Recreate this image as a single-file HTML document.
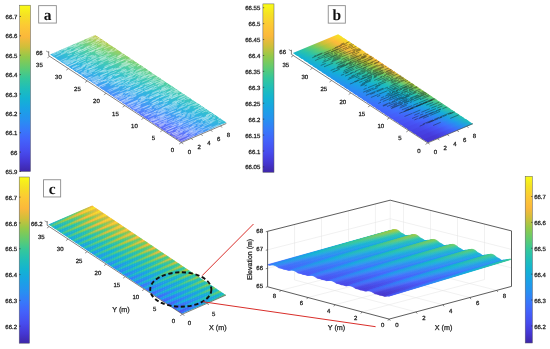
<!DOCTYPE html>
<html><head><meta charset="utf-8"><style>html,body{margin:0;padding:0;background:#fff;overflow:hidden}svg{display:block;will-change:transform}text{font-family:"Liberation Sans",sans-serif;stroke:#3a3a3a;stroke-width:0.3px;paint-order:stroke;stroke-linejoin:round;text-rendering:geometricPrecision}</style></head>
<body><svg width="550" height="349" viewBox="0 0 550 349"><defs><linearGradient id="cb1" x1="0" y1="0" x2="0" y2="1"><stop offset="0" stop-color="#f9fb15"/><stop offset="0.06" stop-color="#f5e124"/><stop offset="0.12" stop-color="#fcca34"/><stop offset="0.19" stop-color="#fbb83b"/><stop offset="0.25" stop-color="#d0bf3a"/><stop offset="0.31" stop-color="#93c94a"/><stop offset="0.38" stop-color="#5ecb72"/><stop offset="0.44" stop-color="#34c79b"/><stop offset="0.5" stop-color="#1fbeb9"/><stop offset="0.56" stop-color="#13b3d2"/><stop offset="0.62" stop-color="#19a3e4"/><stop offset="0.69" stop-color="#2790f1"/><stop offset="0.75" stop-color="#3779fa"/><stop offset="0.81" stop-color="#4362fb"/><stop offset="0.88" stop-color="#474cee"/><stop offset="0.94" stop-color="#4537d4"/><stop offset="1" stop-color="#3e26a8"/></linearGradient><linearGradient id="s2"><stop offset="0" stop-color="#5d5be9"/><stop offset="0.2" stop-color="#5b71fa"/><stop offset="0.4" stop-color="#5088fb"/><stop offset="0.6" stop-color="#409ef3"/><stop offset="0.8" stop-color="#34b0e5"/><stop offset="1" stop-color="#32bfd2"/></linearGradient><linearGradient id="s3"><stop offset="0" stop-color="#5d5eec"/><stop offset="0.2" stop-color="#5a74fb"/><stop offset="0.4" stop-color="#4e8bfb"/><stop offset="0.6" stop-color="#3ea0f1"/><stop offset="0.8" stop-color="#32b3e2"/><stop offset="1" stop-color="#34c0ce"/></linearGradient><linearGradient id="s4"><stop offset="0" stop-color="#5d62f0"/><stop offset="0.2" stop-color="#5978fc"/><stop offset="0.4" stop-color="#4c8efa"/><stop offset="0.6" stop-color="#3ca3ef"/><stop offset="0.8" stop-color="#31b5e0"/><stop offset="1" stop-color="#35c2cb"/></linearGradient><linearGradient id="s5"><stop offset="0" stop-color="#5d65f3"/><stop offset="0.2" stop-color="#597bfd"/><stop offset="0.4" stop-color="#4992f9"/><stop offset="0.6" stop-color="#3aa6ed"/><stop offset="0.8" stop-color="#30b7de"/><stop offset="1" stop-color="#37c3c7"/></linearGradient><linearGradient id="s6"><stop offset="0" stop-color="#5d68f6"/><stop offset="0.2" stop-color="#577efe"/><stop offset="0.4" stop-color="#4795f8"/><stop offset="0.6" stop-color="#38a9eb"/><stop offset="0.8" stop-color="#2fb9dc"/><stop offset="1" stop-color="#38c5c4"/></linearGradient><linearGradient id="s7"><stop offset="0" stop-color="#5d6bf7"/><stop offset="0.2" stop-color="#5581fd"/><stop offset="0.4" stop-color="#4598f6"/><stop offset="0.6" stop-color="#36abe9"/><stop offset="0.8" stop-color="#2fbbd9"/><stop offset="1" stop-color="#3ac6c0"/></linearGradient><linearGradient id="s8"><stop offset="0" stop-color="#5c6ef8"/><stop offset="0.2" stop-color="#5384fc"/><stop offset="0.4" stop-color="#439bf4"/><stop offset="0.6" stop-color="#35aee7"/><stop offset="0.8" stop-color="#30bdd6"/><stop offset="1" stop-color="#3dc7bc"/></linearGradient><linearGradient id="s9"><stop offset="0" stop-color="#5b71fa"/><stop offset="0.2" stop-color="#5088fb"/><stop offset="0.4" stop-color="#419df3"/><stop offset="0.6" stop-color="#34b0e5"/><stop offset="0.8" stop-color="#32bed2"/><stop offset="1" stop-color="#40c9b8"/></linearGradient><linearGradient id="s10"><stop offset="0" stop-color="#5a74fb"/><stop offset="0.2" stop-color="#4e8bfb"/><stop offset="0.4" stop-color="#3ea0f1"/><stop offset="0.6" stop-color="#33b2e3"/><stop offset="0.8" stop-color="#34c0cf"/><stop offset="1" stop-color="#43cab4"/></linearGradient><linearGradient id="s11"><stop offset="0" stop-color="#5978fc"/><stop offset="0.2" stop-color="#4c8efa"/><stop offset="0.4" stop-color="#3ca3ef"/><stop offset="0.6" stop-color="#31b5e1"/><stop offset="0.8" stop-color="#35c1cb"/><stop offset="1" stop-color="#46cbb0"/></linearGradient><linearGradient id="s12"><stop offset="0" stop-color="#597bfd"/><stop offset="0.2" stop-color="#4992f9"/><stop offset="0.4" stop-color="#3aa6ed"/><stop offset="0.6" stop-color="#30b7de"/><stop offset="0.8" stop-color="#37c3c8"/><stop offset="1" stop-color="#49ccac"/></linearGradient><linearGradient id="s13"><stop offset="0" stop-color="#577efe"/><stop offset="0.2" stop-color="#4795f8"/><stop offset="0.4" stop-color="#38a9eb"/><stop offset="0.6" stop-color="#2fb9dc"/><stop offset="0.8" stop-color="#38c5c4"/><stop offset="1" stop-color="#4ccda8"/></linearGradient><linearGradient id="s14"><stop offset="0" stop-color="#5581fd"/><stop offset="0.2" stop-color="#4598f6"/><stop offset="0.4" stop-color="#36abe9"/><stop offset="0.6" stop-color="#2fbbda"/><stop offset="0.8" stop-color="#3ac6c1"/><stop offset="1" stop-color="#4fcfa4"/></linearGradient><linearGradient id="s15"><stop offset="0" stop-color="#5385fc"/><stop offset="0.2" stop-color="#439bf4"/><stop offset="0.4" stop-color="#35aee7"/><stop offset="0.6" stop-color="#30bdd6"/><stop offset="0.8" stop-color="#3dc7bd"/><stop offset="1" stop-color="#55cf9e"/></linearGradient><linearGradient id="s16"><stop offset="0" stop-color="#5088fb"/><stop offset="0.2" stop-color="#419df3"/><stop offset="0.4" stop-color="#34b0e5"/><stop offset="0.6" stop-color="#32bed3"/><stop offset="0.8" stop-color="#40c8b8"/><stop offset="1" stop-color="#5bd098"/></linearGradient><linearGradient id="s17"><stop offset="0" stop-color="#4e8bfb"/><stop offset="0.2" stop-color="#3ea0f1"/><stop offset="0.4" stop-color="#33b2e3"/><stop offset="0.6" stop-color="#33c0cf"/><stop offset="0.8" stop-color="#43cab4"/><stop offset="1" stop-color="#61d092"/></linearGradient><linearGradient id="s18"><stop offset="0" stop-color="#4c8efa"/><stop offset="0.2" stop-color="#3ca3ef"/><stop offset="0.4" stop-color="#31b4e1"/><stop offset="0.6" stop-color="#35c1cb"/><stop offset="0.8" stop-color="#46cbb0"/><stop offset="1" stop-color="#67d08d"/></linearGradient><linearGradient id="s19"><stop offset="0" stop-color="#4992f9"/><stop offset="0.2" stop-color="#3aa6ed"/><stop offset="0.4" stop-color="#30b7de"/><stop offset="0.6" stop-color="#37c3c8"/><stop offset="0.8" stop-color="#49ccac"/><stop offset="1" stop-color="#6ed187"/></linearGradient><linearGradient id="s20"><stop offset="0" stop-color="#4795f8"/><stop offset="0.2" stop-color="#38a9eb"/><stop offset="0.4" stop-color="#2fb9dc"/><stop offset="0.6" stop-color="#38c4c4"/><stop offset="0.8" stop-color="#4ccda8"/><stop offset="1" stop-color="#74d181"/></linearGradient><linearGradient id="s21"><stop offset="0" stop-color="#4598f6"/><stop offset="0.2" stop-color="#36abe9"/><stop offset="0.4" stop-color="#2fbbda"/><stop offset="0.6" stop-color="#3ac6c1"/><stop offset="0.8" stop-color="#4fcea4"/><stop offset="1" stop-color="#7ad27b"/></linearGradient><linearGradient id="s22"><stop offset="0" stop-color="#439bf4"/><stop offset="0.2" stop-color="#35aee7"/><stop offset="0.4" stop-color="#30bdd6"/><stop offset="0.6" stop-color="#3dc7bd"/><stop offset="0.8" stop-color="#54cf9f"/><stop offset="1" stop-color="#81d275"/></linearGradient><linearGradient id="s23"><stop offset="0" stop-color="#409ef2"/><stop offset="0.2" stop-color="#34b0e5"/><stop offset="0.4" stop-color="#32bed2"/><stop offset="0.6" stop-color="#40c8b9"/><stop offset="0.8" stop-color="#5acf99"/><stop offset="1" stop-color="#89d170"/></linearGradient><linearGradient id="s24"><stop offset="0" stop-color="#3ea1f1"/><stop offset="0.2" stop-color="#33b2e3"/><stop offset="0.4" stop-color="#33c0cf"/><stop offset="0.6" stop-color="#43cab5"/><stop offset="0.8" stop-color="#61d093"/><stop offset="1" stop-color="#90d16b"/></linearGradient><linearGradient id="s25"><stop offset="0" stop-color="#3ca3ef"/><stop offset="0.2" stop-color="#31b5e1"/><stop offset="0.4" stop-color="#35c1cb"/><stop offset="0.6" stop-color="#46cbb0"/><stop offset="0.8" stop-color="#67d08d"/><stop offset="1" stop-color="#98d065"/></linearGradient><linearGradient id="s26"><stop offset="0" stop-color="#3aa6ed"/><stop offset="0.2" stop-color="#30b7de"/><stop offset="0.4" stop-color="#37c3c8"/><stop offset="0.6" stop-color="#49ccac"/><stop offset="0.8" stop-color="#6dd187"/><stop offset="1" stop-color="#a0cf60"/></linearGradient><linearGradient id="s27"><stop offset="0" stop-color="#38a9eb"/><stop offset="0.2" stop-color="#2fb9dc"/><stop offset="0.4" stop-color="#38c4c4"/><stop offset="0.6" stop-color="#4ccda8"/><stop offset="0.8" stop-color="#73d181"/><stop offset="1" stop-color="#a7cf5b"/></linearGradient><linearGradient id="s28"><stop offset="0" stop-color="#36ace9"/><stop offset="0.2" stop-color="#2fbbd9"/><stop offset="0.4" stop-color="#3ac6c1"/><stop offset="0.6" stop-color="#4fcea4"/><stop offset="0.8" stop-color="#7ad27b"/><stop offset="1" stop-color="#afce55"/></linearGradient><linearGradient id="s29"><stop offset="0" stop-color="#35aee7"/><stop offset="0.2" stop-color="#30bdd6"/><stop offset="0.4" stop-color="#3dc7bd"/><stop offset="0.6" stop-color="#54cf9f"/><stop offset="0.8" stop-color="#81d276"/><stop offset="1" stop-color="#b7cd51"/></linearGradient><linearGradient id="s30"><stop offset="0" stop-color="#34b0e5"/><stop offset="0.2" stop-color="#32bed2"/><stop offset="0.4" stop-color="#40c8b8"/><stop offset="0.6" stop-color="#5bcf99"/><stop offset="0.8" stop-color="#88d170"/><stop offset="1" stop-color="#c0cb51"/></linearGradient><linearGradient id="s31"><stop offset="0" stop-color="#32b3e2"/><stop offset="0.2" stop-color="#34c0cf"/><stop offset="0.4" stop-color="#43cab4"/><stop offset="0.6" stop-color="#61d093"/><stop offset="0.8" stop-color="#90d16b"/><stop offset="1" stop-color="#c8ca51"/></linearGradient><linearGradient id="cb32" x1="0" y1="0" x2="0" y2="1"><stop offset="0" stop-color="#f9fb15"/><stop offset="0.06" stop-color="#f5e124"/><stop offset="0.12" stop-color="#fcca34"/><stop offset="0.19" stop-color="#fbb83b"/><stop offset="0.25" stop-color="#d0bf3a"/><stop offset="0.31" stop-color="#93c94a"/><stop offset="0.38" stop-color="#5ecb72"/><stop offset="0.44" stop-color="#34c79b"/><stop offset="0.5" stop-color="#1fbeb9"/><stop offset="0.56" stop-color="#13b3d2"/><stop offset="0.62" stop-color="#19a3e4"/><stop offset="0.69" stop-color="#2790f1"/><stop offset="0.75" stop-color="#3779fa"/><stop offset="0.81" stop-color="#4362fb"/><stop offset="0.88" stop-color="#474cee"/><stop offset="0.94" stop-color="#4537d4"/><stop offset="1" stop-color="#3e26a8"/></linearGradient><linearGradient id="s33"><stop offset="0" stop-color="#4435d0"/><stop offset="0.2" stop-color="#4537d4"/><stop offset="0.4" stop-color="#4746e7"/><stop offset="0.6" stop-color="#4364fb"/><stop offset="0.8" stop-color="#2691f0"/><stop offset="1" stop-color="#1bbac1"/></linearGradient><linearGradient id="s34"><stop offset="0" stop-color="#4639d9"/><stop offset="0.2" stop-color="#463cdd"/><stop offset="0.4" stop-color="#474def"/><stop offset="0.6" stop-color="#416cfe"/><stop offset="0.8" stop-color="#2198ec"/><stop offset="1" stop-color="#1fbeb9"/></linearGradient><linearGradient id="s35"><stop offset="0" stop-color="#463dde"/><stop offset="0.2" stop-color="#4642e3"/><stop offset="0.4" stop-color="#4754f5"/><stop offset="0.6" stop-color="#3b74fc"/><stop offset="0.8" stop-color="#1c9fe8"/><stop offset="1" stop-color="#25c1b0"/></linearGradient><linearGradient id="s36"><stop offset="0" stop-color="#4642e3"/><stop offset="0.2" stop-color="#4748ea"/><stop offset="0.4" stop-color="#455bf8"/><stop offset="0.6" stop-color="#367cfa"/><stop offset="0.8" stop-color="#19a4e2"/><stop offset="1" stop-color="#2cc3a7"/></linearGradient><linearGradient id="s37"><stop offset="0" stop-color="#4747e8"/><stop offset="0.2" stop-color="#474ef0"/><stop offset="0.4" stop-color="#4462fb"/><stop offset="0.6" stop-color="#3083f8"/><stop offset="0.8" stop-color="#16aadd"/><stop offset="1" stop-color="#32c69e"/></linearGradient><linearGradient id="s38"><stop offset="0" stop-color="#474bed"/><stop offset="0.2" stop-color="#4754f5"/><stop offset="0.4" stop-color="#4269fd"/><stop offset="0.6" stop-color="#2b8bf5"/><stop offset="0.8" stop-color="#13afd8"/><stop offset="1" stop-color="#3ac894"/></linearGradient><linearGradient id="s39"><stop offset="0" stop-color="#4750f2"/><stop offset="0.2" stop-color="#465af8"/><stop offset="0.4" stop-color="#3d70fd"/><stop offset="0.6" stop-color="#2691f0"/><stop offset="0.8" stop-color="#14b3d1"/><stop offset="1" stop-color="#48c987"/></linearGradient><linearGradient id="s40"><stop offset="0" stop-color="#4755f5"/><stop offset="0.2" stop-color="#4461fa"/><stop offset="0.4" stop-color="#3878fb"/><stop offset="0.6" stop-color="#2198ec"/><stop offset="0.8" stop-color="#17b7c9"/><stop offset="1" stop-color="#55ca7b"/></linearGradient><linearGradient id="s41"><stop offset="0" stop-color="#465af7"/><stop offset="0.2" stop-color="#4267fc"/><stop offset="0.4" stop-color="#337ff9"/><stop offset="0.6" stop-color="#1c9ee8"/><stop offset="0.8" stop-color="#1bbac1"/><stop offset="1" stop-color="#62cb6f"/></linearGradient><linearGradient id="s42"><stop offset="0" stop-color="#445ff9"/><stop offset="0.2" stop-color="#406dfe"/><stop offset="0.4" stop-color="#2e86f7"/><stop offset="0.6" stop-color="#19a4e3"/><stop offset="0.8" stop-color="#1ebeb9"/><stop offset="1" stop-color="#70cc63"/></linearGradient><linearGradient id="s43"><stop offset="0" stop-color="#4363fb"/><stop offset="0.2" stop-color="#3c73fc"/><stop offset="0.4" stop-color="#2a8cf3"/><stop offset="0.6" stop-color="#16a9de"/><stop offset="0.8" stop-color="#25c1b0"/><stop offset="1" stop-color="#7fca58"/></linearGradient><linearGradient id="s44"><stop offset="0" stop-color="#4268fd"/><stop offset="0.2" stop-color="#3779fa"/><stop offset="0.4" stop-color="#2592f0"/><stop offset="0.6" stop-color="#13aed9"/><stop offset="0.8" stop-color="#2bc3a7"/><stop offset="1" stop-color="#8fc94d"/></linearGradient><linearGradient id="s45"><stop offset="0" stop-color="#406dfe"/><stop offset="0.2" stop-color="#3380f9"/><stop offset="0.4" stop-color="#2098ec"/><stop offset="0.6" stop-color="#13b3d3"/><stop offset="0.8" stop-color="#32c69e"/><stop offset="1" stop-color="#9ec842"/></linearGradient><linearGradient id="s46"><stop offset="0" stop-color="#3c72fc"/><stop offset="0.2" stop-color="#2e86f7"/><stop offset="0.4" stop-color="#1c9ee8"/><stop offset="0.6" stop-color="#16b6cb"/><stop offset="0.8" stop-color="#39c895"/><stop offset="1" stop-color="#adc639"/></linearGradient><linearGradient id="s47"><stop offset="0" stop-color="#3977fb"/><stop offset="0.2" stop-color="#2a8bf4"/><stop offset="0.4" stop-color="#19a3e3"/><stop offset="0.6" stop-color="#1ab9c3"/><stop offset="0.8" stop-color="#47c988"/><stop offset="1" stop-color="#bdc339"/></linearGradient><linearGradient id="s48"><stop offset="0" stop-color="#357cfa"/><stop offset="0.2" stop-color="#2691f1"/><stop offset="0.4" stop-color="#16a8de"/><stop offset="0.6" stop-color="#1dbdbc"/><stop offset="0.8" stop-color="#54ca7c"/><stop offset="1" stop-color="#cec03a"/></linearGradient><linearGradient id="s49"><stop offset="0" stop-color="#3281f8"/><stop offset="0.2" stop-color="#2296ed"/><stop offset="0.4" stop-color="#14adda"/><stop offset="0.6" stop-color="#23c0b3"/><stop offset="0.8" stop-color="#61cb70"/><stop offset="1" stop-color="#debc3a"/></linearGradient><linearGradient id="s50"><stop offset="0" stop-color="#2e86f7"/><stop offset="0.2" stop-color="#1e9cea"/><stop offset="0.4" stop-color="#12b2d5"/><stop offset="0.6" stop-color="#29c2aa"/><stop offset="0.8" stop-color="#6ecc64"/><stop offset="1" stop-color="#eeb93a"/></linearGradient><linearGradient id="s51"><stop offset="0" stop-color="#2b8af5"/><stop offset="0.2" stop-color="#1ba0e6"/><stop offset="0.4" stop-color="#15b5cd"/><stop offset="0.6" stop-color="#30c5a2"/><stop offset="0.8" stop-color="#7eca59"/><stop offset="1" stop-color="#f7b83b"/></linearGradient><linearGradient id="s52"><stop offset="0" stop-color="#288ff2"/><stop offset="0.2" stop-color="#18a5e2"/><stop offset="0.4" stop-color="#19b8c6"/><stop offset="0.6" stop-color="#36c799"/><stop offset="0.8" stop-color="#8ec94e"/><stop offset="1" stop-color="#fab83b"/></linearGradient><linearGradient id="s53"><stop offset="0" stop-color="#2493ef"/><stop offset="0.2" stop-color="#16a9de"/><stop offset="0.4" stop-color="#1cbbbf"/><stop offset="0.6" stop-color="#41c98d"/><stop offset="0.8" stop-color="#9dc843"/><stop offset="1" stop-color="#fdb93a"/></linearGradient><linearGradient id="s54"><stop offset="0" stop-color="#2197ec"/><stop offset="0.2" stop-color="#14adda"/><stop offset="0.4" stop-color="#20beb7"/><stop offset="0.6" stop-color="#4fca81"/><stop offset="0.8" stop-color="#acc639"/><stop offset="1" stop-color="#fdbd39"/></linearGradient><linearGradient id="s55"><stop offset="0" stop-color="#1e9cea"/><stop offset="0.2" stop-color="#12b2d5"/><stop offset="0.4" stop-color="#26c1af"/><stop offset="0.6" stop-color="#5bcb75"/><stop offset="0.8" stop-color="#bec339"/><stop offset="1" stop-color="#fec238"/></linearGradient><linearGradient id="s56"><stop offset="0" stop-color="#1ba0e6"/><stop offset="0.2" stop-color="#15b4cf"/><stop offset="0.4" stop-color="#2cc3a7"/><stop offset="0.6" stop-color="#68cc69"/><stop offset="0.8" stop-color="#cec03a"/><stop offset="1" stop-color="#fdc736"/></linearGradient><linearGradient id="s57"><stop offset="0" stop-color="#19a3e3"/><stop offset="0.2" stop-color="#18b7c8"/><stop offset="0.4" stop-color="#32c69e"/><stop offset="0.6" stop-color="#77cb5d"/><stop offset="0.8" stop-color="#dfbc3a"/><stop offset="1" stop-color="#fbcc32"/></linearGradient><linearGradient id="s58"><stop offset="0" stop-color="#17a7e0"/><stop offset="0.2" stop-color="#1bbac2"/><stop offset="0.4" stop-color="#38c896"/><stop offset="0.6" stop-color="#87ca52"/><stop offset="0.8" stop-color="#efb93b"/><stop offset="1" stop-color="#f9d12f"/></linearGradient><linearGradient id="s59"><stop offset="0" stop-color="#15aadc"/><stop offset="0.2" stop-color="#1ebdbb"/><stop offset="0.4" stop-color="#45c98a"/><stop offset="0.6" stop-color="#97c847"/><stop offset="0.8" stop-color="#f7b83b"/><stop offset="1" stop-color="#f8d52c"/></linearGradient><linearGradient id="s60"><stop offset="0" stop-color="#13aed9"/><stop offset="0.2" stop-color="#22bfb4"/><stop offset="0.4" stop-color="#51ca7e"/><stop offset="0.6" stop-color="#a6c73d"/><stop offset="0.8" stop-color="#fbb83b"/><stop offset="1" stop-color="#f6da29"/></linearGradient><linearGradient id="s61"><stop offset="0" stop-color="#12b1d5"/><stop offset="0.2" stop-color="#28c2ac"/><stop offset="0.4" stop-color="#5ecb73"/><stop offset="0.6" stop-color="#b6c439"/><stop offset="0.8" stop-color="#fdba3a"/><stop offset="1" stop-color="#f5df26"/></linearGradient><linearGradient id="s62"><stop offset="0" stop-color="#14b4d0"/><stop offset="0.2" stop-color="#2dc4a5"/><stop offset="0.4" stop-color="#6acc67"/><stop offset="0.6" stop-color="#c7c13a"/><stop offset="0.8" stop-color="#febf39"/><stop offset="1" stop-color="#f6e423"/></linearGradient><linearGradient id="cb63" x1="0" y1="0" x2="0" y2="1"><stop offset="0" stop-color="#f9fb15"/><stop offset="0.06" stop-color="#f5e124"/><stop offset="0.12" stop-color="#fcca34"/><stop offset="0.19" stop-color="#fbb83b"/><stop offset="0.25" stop-color="#d0bf3a"/><stop offset="0.31" stop-color="#93c94a"/><stop offset="0.38" stop-color="#5ecb72"/><stop offset="0.44" stop-color="#34c79b"/><stop offset="0.5" stop-color="#1fbeb9"/><stop offset="0.56" stop-color="#13b3d2"/><stop offset="0.62" stop-color="#19a3e4"/><stop offset="0.69" stop-color="#2790f1"/><stop offset="0.75" stop-color="#3779fa"/><stop offset="0.81" stop-color="#4362fb"/><stop offset="0.88" stop-color="#474cee"/><stop offset="0.94" stop-color="#4537d4"/><stop offset="1" stop-color="#3e26a8"/></linearGradient><linearGradient id="s64"><stop offset="0" stop-color="#2a8cf3"/><stop offset="0.33" stop-color="#14adda"/><stop offset="0.67" stop-color="#26c1ae"/><stop offset="1" stop-color="#63cb6d"/></linearGradient><linearGradient id="s65"><stop offset="0" stop-color="#4267fc"/><stop offset="0.33" stop-color="#288ff2"/><stop offset="0.67" stop-color="#13afd8"/><stop offset="1" stop-color="#29c2aa"/></linearGradient><linearGradient id="s66"><stop offset="0" stop-color="#4851f2"/><stop offset="0.33" stop-color="#3779fb"/><stop offset="0.67" stop-color="#1c9fe8"/><stop offset="1" stop-color="#19b8c6"/></linearGradient><linearGradient id="s67"><stop offset="0" stop-color="#4851f3"/><stop offset="0.33" stop-color="#377afa"/><stop offset="0.67" stop-color="#1c9fe7"/><stop offset="1" stop-color="#19b9c5"/></linearGradient><linearGradient id="s68"><stop offset="0" stop-color="#4269fd"/><stop offset="0.33" stop-color="#2691f1"/><stop offset="0.67" stop-color="#12b1d7"/><stop offset="1" stop-color="#2bc3a7"/></linearGradient><linearGradient id="s69"><stop offset="0" stop-color="#278ff1"/><stop offset="0.33" stop-color="#12b0d8"/><stop offset="0.67" stop-color="#2ac3a9"/><stop offset="1" stop-color="#6ccc66"/></linearGradient><linearGradient id="s70"><stop offset="0" stop-color="#2790f1"/><stop offset="0.33" stop-color="#12b0d7"/><stop offset="0.67" stop-color="#2bc3a8"/><stop offset="1" stop-color="#6ecc64"/></linearGradient><linearGradient id="s71"><stop offset="0" stop-color="#416bfe"/><stop offset="0.33" stop-color="#2593ef"/><stop offset="0.67" stop-color="#12b2d4"/><stop offset="1" stop-color="#2ec4a4"/></linearGradient><linearGradient id="s72"><stop offset="0" stop-color="#4755f5"/><stop offset="0.33" stop-color="#347df9"/><stop offset="0.67" stop-color="#1aa2e4"/><stop offset="1" stop-color="#1bbbc0"/></linearGradient><linearGradient id="s73"><stop offset="0" stop-color="#4755f5"/><stop offset="0.33" stop-color="#347ef9"/><stop offset="0.67" stop-color="#1aa3e4"/><stop offset="1" stop-color="#1cbbbf"/></linearGradient><linearGradient id="s74"><stop offset="0" stop-color="#406dfe"/><stop offset="0.33" stop-color="#2395ee"/><stop offset="0.67" stop-color="#14b3d2"/><stop offset="1" stop-color="#30c5a1"/></linearGradient><linearGradient id="s75"><stop offset="0" stop-color="#2493ef"/><stop offset="0.33" stop-color="#13b2d4"/><stop offset="0.67" stop-color="#2ec4a3"/><stop offset="1" stop-color="#78cb5d"/></linearGradient><linearGradient id="s76"><stop offset="0" stop-color="#2494ef"/><stop offset="0.33" stop-color="#13b3d3"/><stop offset="0.67" stop-color="#2fc5a2"/><stop offset="1" stop-color="#7acb5c"/></linearGradient><linearGradient id="s77"><stop offset="0" stop-color="#3e6ffd"/><stop offset="0.33" stop-color="#2297ed"/><stop offset="0.67" stop-color="#15b4cf"/><stop offset="1" stop-color="#32c69e"/></linearGradient><linearGradient id="s78"><stop offset="0" stop-color="#4659f7"/><stop offset="0.33" stop-color="#3182f8"/><stop offset="0.67" stop-color="#18a5e1"/><stop offset="1" stop-color="#1ebdbb"/></linearGradient><linearGradient id="s79"><stop offset="0" stop-color="#465af7"/><stop offset="0.33" stop-color="#3183f8"/><stop offset="0.67" stop-color="#18a6e1"/><stop offset="1" stop-color="#1ebeba"/></linearGradient><linearGradient id="s80"><stop offset="0" stop-color="#3d71fc"/><stop offset="0.33" stop-color="#2099eb"/><stop offset="0.67" stop-color="#16b5cc"/><stop offset="1" stop-color="#35c79a"/></linearGradient><linearGradient id="s81"><stop offset="0" stop-color="#2297ed"/><stop offset="0.33" stop-color="#15b4cf"/><stop offset="0.67" stop-color="#33c69d"/><stop offset="1" stop-color="#84ca55"/></linearGradient><linearGradient id="s82"><stop offset="0" stop-color="#2197ec"/><stop offset="0.33" stop-color="#15b5ce"/><stop offset="0.67" stop-color="#33c69c"/><stop offset="1" stop-color="#86ca53"/></linearGradient><linearGradient id="s83"><stop offset="0" stop-color="#3b74fc"/><stop offset="0.33" stop-color="#1f9bea"/><stop offset="0.67" stop-color="#17b7ca"/><stop offset="1" stop-color="#37c897"/></linearGradient><linearGradient id="s84"><stop offset="0" stop-color="#455df8"/><stop offset="0.33" stop-color="#2e86f7"/><stop offset="0.67" stop-color="#16a9de"/><stop offset="1" stop-color="#22bfb4"/></linearGradient><linearGradient id="s85"><stop offset="0" stop-color="#455ef9"/><stop offset="0.33" stop-color="#2d87f7"/><stop offset="0.67" stop-color="#16a9dd"/><stop offset="1" stop-color="#23c0b3"/></linearGradient><linearGradient id="s86"><stop offset="0" stop-color="#3a76fb"/><stop offset="0.33" stop-color="#1d9de9"/><stop offset="0.67" stop-color="#18b8c7"/><stop offset="1" stop-color="#3cc893"/></linearGradient><linearGradient id="s87"><stop offset="0" stop-color="#1f9bea"/><stop offset="0.33" stop-color="#17b7ca"/><stop offset="0.67" stop-color="#37c897"/><stop offset="1" stop-color="#90c94c"/></linearGradient><linearGradient id="s88"><stop offset="0" stop-color="#1e9bea"/><stop offset="0.33" stop-color="#17b7c9"/><stop offset="0.67" stop-color="#39c896"/><stop offset="1" stop-color="#92c94b"/></linearGradient><linearGradient id="s89"><stop offset="0" stop-color="#3878fb"/><stop offset="0.33" stop-color="#1c9fe8"/><stop offset="0.67" stop-color="#19b9c5"/><stop offset="1" stop-color="#41c98e"/></linearGradient><linearGradient id="s90"><stop offset="0" stop-color="#4461fa"/><stop offset="0.33" stop-color="#2b8af5"/><stop offset="0.67" stop-color="#14acdb"/><stop offset="1" stop-color="#26c1ae"/></linearGradient><linearGradient id="s91"><stop offset="0" stop-color="#4462fa"/><stop offset="0.33" stop-color="#2a8bf4"/><stop offset="0.67" stop-color="#14adda"/><stop offset="1" stop-color="#27c1ad"/></linearGradient><linearGradient id="s92"><stop offset="0" stop-color="#377afa"/><stop offset="0.33" stop-color="#1ba0e6"/><stop offset="0.67" stop-color="#1bbac2"/><stop offset="1" stop-color="#45c98a"/></linearGradient><linearGradient id="s93"><stop offset="0" stop-color="#1c9ee8"/><stop offset="0.33" stop-color="#19b9c5"/><stop offset="0.67" stop-color="#40c98e"/><stop offset="1" stop-color="#9cc843"/></linearGradient><linearGradient id="s94"><stop offset="0" stop-color="#1c9fe7"/><stop offset="0.33" stop-color="#1ab9c4"/><stop offset="0.67" stop-color="#42c98d"/><stop offset="1" stop-color="#9ec842"/></linearGradient><linearGradient id="s95"><stop offset="0" stop-color="#357cfa"/><stop offset="0.33" stop-color="#1aa2e5"/><stop offset="0.67" stop-color="#1cbbbf"/><stop offset="1" stop-color="#4ac985"/></linearGradient><linearGradient id="s96"><stop offset="0" stop-color="#4365fc"/><stop offset="0.33" stop-color="#288ef2"/><stop offset="0.67" stop-color="#12b0d8"/><stop offset="1" stop-color="#2bc3a8"/></linearGradient><linearGradient id="s97"><stop offset="0" stop-color="#4366fc"/><stop offset="0.33" stop-color="#278ff2"/><stop offset="0.67" stop-color="#12b0d7"/><stop offset="1" stop-color="#2cc3a7"/></linearGradient><linearGradient id="s98"><stop offset="0" stop-color="#347ef9"/><stop offset="0.33" stop-color="#19a3e3"/><stop offset="0.67" stop-color="#1dbcbd"/><stop offset="1" stop-color="#4fca80"/></linearGradient><linearGradient id="s99"><stop offset="0" stop-color="#1aa1e5"/><stop offset="0.33" stop-color="#1bbbc0"/><stop offset="0.67" stop-color="#4ac986"/><stop offset="1" stop-color="#a8c73b"/></linearGradient><linearGradient id="s100"><stop offset="0" stop-color="#1aa2e5"/><stop offset="0.33" stop-color="#1cbbbf"/><stop offset="0.67" stop-color="#4bca84"/><stop offset="1" stop-color="#aac739"/></linearGradient><linearGradient id="s101"><stop offset="0" stop-color="#3280f9"/><stop offset="0.33" stop-color="#18a5e2"/><stop offset="0.67" stop-color="#1ebdba"/><stop offset="1" stop-color="#54ca7c"/></linearGradient><linearGradient id="s102"><stop offset="0" stop-color="#4269fd"/><stop offset="0.33" stop-color="#2592f0"/><stop offset="0.67" stop-color="#13b2d3"/><stop offset="1" stop-color="#30c5a1"/></linearGradient><linearGradient id="s103"><stop offset="0" stop-color="#416afe"/><stop offset="0.33" stop-color="#2493ef"/><stop offset="0.67" stop-color="#13b3d2"/><stop offset="1" stop-color="#30c5a0"/></linearGradient><linearGradient id="s104"><stop offset="0" stop-color="#3183f8"/><stop offset="0.33" stop-color="#17a7e0"/><stop offset="0.67" stop-color="#20beb7"/><stop offset="1" stop-color="#59cb77"/></linearGradient><linearGradient id="s105"><stop offset="0" stop-color="#19a4e2"/><stop offset="0.33" stop-color="#1ebdbb"/><stop offset="0.67" stop-color="#53ca7d"/><stop offset="1" stop-color="#b6c539"/></linearGradient><linearGradient id="s106"><stop offset="0" stop-color="#18a5e2"/><stop offset="0.33" stop-color="#1ebdba"/><stop offset="0.67" stop-color="#54ca7b"/><stop offset="1" stop-color="#b8c439"/></linearGradient><linearGradient id="s107"><stop offset="0" stop-color="#2f85f7"/><stop offset="0.33" stop-color="#16a8df"/><stop offset="0.67" stop-color="#22bfb4"/><stop offset="1" stop-color="#5ecb72"/></linearGradient><linearGradient id="s108"><stop offset="0" stop-color="#406efd"/><stop offset="0.33" stop-color="#2296ed"/><stop offset="0.67" stop-color="#15b5ce"/><stop offset="1" stop-color="#34c79b"/></linearGradient><linearGradient id="s109"><stop offset="0" stop-color="#3f6efd"/><stop offset="0.33" stop-color="#2197ed"/><stop offset="0.67" stop-color="#16b5cd"/><stop offset="1" stop-color="#35c79a"/></linearGradient><linearGradient id="s110"><stop offset="0" stop-color="#2e87f7"/><stop offset="0.33" stop-color="#16aadd"/><stop offset="0.67" stop-color="#24c0b1"/><stop offset="1" stop-color="#63cb6e"/></linearGradient><linearGradient id="s111"><stop offset="0" stop-color="#17a7df"/><stop offset="0.33" stop-color="#21bfb6"/><stop offset="0.67" stop-color="#5ccb74"/><stop offset="1" stop-color="#c4c239"/></linearGradient><linearGradient id="s112"><stop offset="0" stop-color="#17a8df"/><stop offset="0.33" stop-color="#22bfb5"/><stop offset="0.67" stop-color="#5ecb73"/><stop offset="1" stop-color="#c6c139"/></linearGradient><linearGradient id="s113"><stop offset="0" stop-color="#2c89f6"/><stop offset="0.33" stop-color="#15abdb"/><stop offset="0.67" stop-color="#26c1ae"/><stop offset="1" stop-color="#68cc69"/></linearGradient><linearGradient id="s114"><stop offset="0" stop-color="#3c72fc"/><stop offset="0.33" stop-color="#1f9aeb"/><stop offset="0.67" stop-color="#17b7c9"/><stop offset="1" stop-color="#3bc893"/></linearGradient><linearGradient id="s115"><stop offset="0" stop-color="#3c73fc"/><stop offset="0.33" stop-color="#1e9bea"/><stop offset="0.67" stop-color="#18b7c8"/><stop offset="1" stop-color="#3dc892"/></linearGradient><linearGradient id="s116"><stop offset="0" stop-color="#2b8bf5"/><stop offset="0.33" stop-color="#14adda"/><stop offset="0.67" stop-color="#29c2ab"/><stop offset="1" stop-color="#6dcc65"/></linearGradient><linearGradient id="s117"><stop offset="0" stop-color="#15aadc"/><stop offset="0.33" stop-color="#25c1b0"/><stop offset="0.67" stop-color="#65cc6b"/><stop offset="1" stop-color="#d1bf3a"/></linearGradient><linearGradient id="s118"><stop offset="0" stop-color="#15abdc"/><stop offset="0.33" stop-color="#26c1af"/><stop offset="0.67" stop-color="#67cc6a"/><stop offset="1" stop-color="#d4be3a"/></linearGradient><linearGradient id="s119"><stop offset="0" stop-color="#298cf3"/><stop offset="0.33" stop-color="#13afd8"/><stop offset="0.67" stop-color="#2bc3a8"/><stop offset="1" stop-color="#73cb60"/></linearGradient><linearGradient id="s120"><stop offset="0" stop-color="#3976fb"/><stop offset="0.33" stop-color="#1c9ee8"/><stop offset="0.67" stop-color="#1ab9c4"/><stop offset="1" stop-color="#45c98a"/></linearGradient><linearGradient id="s121"><stop offset="0" stop-color="#3977fb"/><stop offset="0.33" stop-color="#1c9fe7"/><stop offset="0.67" stop-color="#1abac3"/><stop offset="1" stop-color="#46c989"/></linearGradient><linearGradient id="s122"><stop offset="0" stop-color="#288ef2"/><stop offset="0.33" stop-color="#12b0d7"/><stop offset="0.67" stop-color="#2dc4a5"/><stop offset="1" stop-color="#79cb5c"/></linearGradient><linearGradient id="s123"><stop offset="0" stop-color="#14adda"/><stop offset="0.33" stop-color="#29c2aa"/><stop offset="0.67" stop-color="#70cc63"/><stop offset="1" stop-color="#dfbc3a"/></linearGradient><linearGradient id="s124"><stop offset="0" stop-color="#13aed9"/><stop offset="0.33" stop-color="#2ac3a9"/><stop offset="0.67" stop-color="#72cb61"/><stop offset="1" stop-color="#e1bc3a"/></linearGradient><linearGradient id="s125"><stop offset="0" stop-color="#2790f1"/><stop offset="0.33" stop-color="#12b2d5"/><stop offset="0.67" stop-color="#2fc5a2"/><stop offset="1" stop-color="#7fca58"/></linearGradient><linearGradient id="s126"><stop offset="0" stop-color="#367afa"/><stop offset="0.33" stop-color="#1aa1e5"/><stop offset="0.67" stop-color="#1cbcbe"/><stop offset="1" stop-color="#4eca81"/></linearGradient><linearGradient id="s127"><stop offset="0" stop-color="#367bfa"/><stop offset="0.33" stop-color="#1aa2e4"/><stop offset="0.67" stop-color="#1dbcbe"/><stop offset="1" stop-color="#50ca7f"/></linearGradient><linearGradient id="s128"><stop offset="0" stop-color="#2592f0"/><stop offset="0.33" stop-color="#13b3d2"/><stop offset="0.67" stop-color="#31c69f"/><stop offset="1" stop-color="#85ca54"/></linearGradient><linearGradient id="s129"><stop offset="0" stop-color="#12b0d7"/><stop offset="0.33" stop-color="#2dc4a4"/><stop offset="0.67" stop-color="#7bcb5b"/><stop offset="1" stop-color="#edb93a"/></linearGradient><linearGradient id="s130"><stop offset="0" stop-color="#12b1d6"/><stop offset="0.33" stop-color="#2ec4a3"/><stop offset="0.67" stop-color="#7dcb59"/><stop offset="1" stop-color="#efb93b"/></linearGradient><linearGradient id="s131"><stop offset="0" stop-color="#2494ef"/><stop offset="0.33" stop-color="#14b4d0"/><stop offset="0.67" stop-color="#34c79c"/><stop offset="1" stop-color="#8bc94f"/></linearGradient><linearGradient id="s132"><stop offset="0" stop-color="#337ff9"/><stop offset="0.33" stop-color="#18a5e2"/><stop offset="0.67" stop-color="#1ebeb9"/><stop offset="1" stop-color="#58cb78"/></linearGradient><linearGradient id="s133"><stop offset="0" stop-color="#337ff9"/><stop offset="0.33" stop-color="#18a5e1"/><stop offset="0.67" stop-color="#1fbeb8"/><stop offset="1" stop-color="#5acb76"/></linearGradient><linearGradient id="s134"><stop offset="0" stop-color="#2296ed"/><stop offset="0.33" stop-color="#15b5ce"/><stop offset="0.67" stop-color="#36c799"/><stop offset="1" stop-color="#91c94b"/></linearGradient><linearGradient id="s135"><stop offset="0" stop-color="#13b3d2"/><stop offset="0.33" stop-color="#32c69f"/><stop offset="0.67" stop-color="#87ca53"/><stop offset="1" stop-color="#f6b83b"/></linearGradient><linearGradient id="s136"><stop offset="0" stop-color="#14b3d2"/><stop offset="0.33" stop-color="#32c69e"/><stop offset="0.67" stop-color="#89ca51"/><stop offset="1" stop-color="#f7b83b"/></linearGradient><linearGradient id="s137"><stop offset="0" stop-color="#2198ec"/><stop offset="0.33" stop-color="#16b6cb"/><stop offset="0.67" stop-color="#39c895"/><stop offset="1" stop-color="#97c847"/></linearGradient><linearGradient id="s138"><stop offset="0" stop-color="#3083f8"/><stop offset="0.33" stop-color="#17a8df"/><stop offset="0.67" stop-color="#23c0b3"/><stop offset="1" stop-color="#62cb6f"/></linearGradient><linearGradient id="s139"><stop offset="0" stop-color="#3084f8"/><stop offset="0.33" stop-color="#16a8de"/><stop offset="0.67" stop-color="#23c0b2"/><stop offset="1" stop-color="#64cb6d"/></linearGradient><linearGradient id="s140"><stop offset="0" stop-color="#209aeb"/><stop offset="0.33" stop-color="#18b7c9"/><stop offset="0.67" stop-color="#3ec891"/><stop offset="1" stop-color="#9dc843"/></linearGradient><linearGradient id="s141"><stop offset="0" stop-color="#15b5ce"/><stop offset="0.33" stop-color="#36c799"/><stop offset="0.67" stop-color="#92c94a"/><stop offset="1" stop-color="#f9b83b"/></linearGradient><linearGradient id="s142"><stop offset="0" stop-color="#16b5cd"/><stop offset="0.33" stop-color="#36c898"/><stop offset="0.67" stop-color="#94c949"/><stop offset="1" stop-color="#fab83b"/></linearGradient><linearGradient id="s143"><stop offset="0" stop-color="#1e9bea"/><stop offset="0.33" stop-color="#19b8c6"/><stop offset="0.67" stop-color="#42c98d"/><stop offset="1" stop-color="#a4c73e"/></linearGradient><linearGradient id="s144"><stop offset="0" stop-color="#2d87f7"/><stop offset="0.33" stop-color="#15abdc"/><stop offset="0.67" stop-color="#27c1ad"/><stop offset="1" stop-color="#6ccc65"/></linearGradient><linearGradient id="s145"><stop offset="0" stop-color="#2d88f6"/><stop offset="0.33" stop-color="#15acdb"/><stop offset="0.67" stop-color="#28c2ac"/><stop offset="1" stop-color="#6ecc64"/></linearGradient><linearGradient id="s146"><stop offset="0" stop-color="#1d9de9"/><stop offset="0.33" stop-color="#1ab9c4"/><stop offset="0.67" stop-color="#47c988"/><stop offset="1" stop-color="#aac73a"/></linearGradient><linearGradient id="s147"><stop offset="0" stop-color="#17b7c9"/><stop offset="0.33" stop-color="#3dc891"/><stop offset="0.67" stop-color="#9ec842"/><stop offset="1" stop-color="#fcb83b"/></linearGradient><linearGradient id="s148"><stop offset="0" stop-color="#18b7c8"/><stop offset="0.33" stop-color="#3fc990"/><stop offset="0.67" stop-color="#a0c841"/><stop offset="1" stop-color="#fcb83b"/></linearGradient><linearGradient id="s149"><stop offset="0" stop-color="#1c9fe7"/><stop offset="0.33" stop-color="#1bbac1"/><stop offset="0.67" stop-color="#4bca84"/><stop offset="1" stop-color="#b0c639"/></linearGradient><linearGradient id="s150"><stop offset="0" stop-color="#2b8bf4"/><stop offset="0.33" stop-color="#13aed9"/><stop offset="0.67" stop-color="#2cc3a7"/><stop offset="1" stop-color="#78cb5d"/></linearGradient><linearGradient id="s151"><stop offset="0" stop-color="#2a8cf4"/><stop offset="0.33" stop-color="#13afd8"/><stop offset="0.67" stop-color="#2cc4a6"/><stop offset="1" stop-color="#7acb5b"/></linearGradient><linearGradient id="s152"><stop offset="0" stop-color="#1ba0e6"/><stop offset="0.33" stop-color="#1cbbbf"/><stop offset="0.67" stop-color="#50ca7f"/><stop offset="1" stop-color="#b7c439"/></linearGradient><linearGradient id="s153"><stop offset="0" stop-color="#19b9c4"/><stop offset="0.33" stop-color="#46c989"/><stop offset="0.67" stop-color="#a9c73a"/><stop offset="1" stop-color="#fdbb3a"/></linearGradient><linearGradient id="s154"><stop offset="0" stop-color="#1ab9c4"/><stop offset="0.33" stop-color="#47c988"/><stop offset="0.67" stop-color="#abc739"/><stop offset="1" stop-color="#fdbc3a"/></linearGradient><linearGradient id="s155"><stop offset="0" stop-color="#1aa2e4"/><stop offset="0.33" stop-color="#1dbdbc"/><stop offset="0.67" stop-color="#55ca7b"/><stop offset="1" stop-color="#bec339"/></linearGradient><linearGradient id="s156"><stop offset="0" stop-color="#288ff2"/><stop offset="0.33" stop-color="#12b1d5"/><stop offset="0.67" stop-color="#30c5a1"/><stop offset="1" stop-color="#84ca54"/></linearGradient><linearGradient id="s157"><stop offset="0" stop-color="#278ff2"/><stop offset="0.33" stop-color="#12b2d5"/><stop offset="0.67" stop-color="#31c5a0"/><stop offset="1" stop-color="#86ca53"/></linearGradient><linearGradient id="s158"><stop offset="0" stop-color="#19a3e3"/><stop offset="0.33" stop-color="#1ebeba"/><stop offset="0.67" stop-color="#59cb77"/><stop offset="1" stop-color="#c5c139"/></linearGradient><linearGradient id="s159"><stop offset="0" stop-color="#1cbbc0"/><stop offset="0.33" stop-color="#4fca81"/><stop offset="0.67" stop-color="#b6c539"/><stop offset="1" stop-color="#fec039"/></linearGradient><linearGradient id="s160"><stop offset="0" stop-color="#1cbbbf"/><stop offset="0.33" stop-color="#50ca7f"/><stop offset="0.67" stop-color="#b8c439"/><stop offset="1" stop-color="#fec039"/></linearGradient><linearGradient id="s161"><stop offset="0" stop-color="#18a5e2"/><stop offset="0.33" stop-color="#20bfb7"/><stop offset="0.67" stop-color="#5ecb72"/><stop offset="1" stop-color="#ccc03a"/></linearGradient><linearGradient id="s162"><stop offset="0" stop-color="#2592f0"/><stop offset="0.33" stop-color="#14b4d1"/><stop offset="0.67" stop-color="#34c79b"/><stop offset="1" stop-color="#90c94c"/></linearGradient><linearGradient id="s163"><stop offset="0" stop-color="#2493ef"/><stop offset="0.33" stop-color="#14b4d0"/><stop offset="0.67" stop-color="#35c79a"/><stop offset="1" stop-color="#92c94a"/></linearGradient><linearGradient id="s164"><stop offset="0" stop-color="#17a7e0"/><stop offset="0.33" stop-color="#22bfb4"/><stop offset="0.67" stop-color="#63cb6e"/><stop offset="1" stop-color="#d3bf3a"/></linearGradient><linearGradient id="s165"><stop offset="0" stop-color="#1ebdbb"/><stop offset="0.33" stop-color="#58ca78"/><stop offset="0.67" stop-color="#c3c239"/><stop offset="1" stop-color="#fec438"/></linearGradient><linearGradient id="s166"><stop offset="0" stop-color="#1ebdba"/><stop offset="0.33" stop-color="#59cb77"/><stop offset="0.67" stop-color="#c5c139"/><stop offset="1" stop-color="#fec537"/></linearGradient><linearGradient id="s167"><stop offset="0" stop-color="#17a8df"/><stop offset="0.33" stop-color="#24c0b1"/><stop offset="0.67" stop-color="#67cc6a"/><stop offset="1" stop-color="#dabd3a"/></linearGradient><linearGradient id="s168"><stop offset="0" stop-color="#2296ed"/><stop offset="0.33" stop-color="#16b6cc"/><stop offset="0.67" stop-color="#3ac894"/><stop offset="1" stop-color="#9dc843"/></linearGradient><linearGradient id="s169"><stop offset="0" stop-color="#2297ed"/><stop offset="0.33" stop-color="#17b6cb"/><stop offset="0.67" stop-color="#3cc892"/><stop offset="1" stop-color="#9fc842"/></linearGradient><linearGradient id="s170"><stop offset="0" stop-color="#16aadd"/><stop offset="0.33" stop-color="#26c1ae"/><stop offset="0.67" stop-color="#6ccc65"/><stop offset="1" stop-color="#e1bc3a"/></linearGradient><linearGradient id="s171"><stop offset="0" stop-color="#21bfb6"/><stop offset="0.33" stop-color="#60cb70"/><stop offset="0.67" stop-color="#d0bf3a"/><stop offset="1" stop-color="#fcc934"/></linearGradient><linearGradient id="s172"><stop offset="0" stop-color="#21bfb5"/><stop offset="0.33" stop-color="#62cb6f"/><stop offset="0.67" stop-color="#d2bf3a"/><stop offset="1" stop-color="#fcca34"/></linearGradient><linearGradient id="s173"><stop offset="0" stop-color="#15abdc"/><stop offset="0.33" stop-color="#28c2ac"/><stop offset="0.67" stop-color="#72cb61"/><stop offset="1" stop-color="#e7ba3a"/></linearGradient><linearGradient id="s174"><stop offset="0" stop-color="#1f9aeb"/><stop offset="0.33" stop-color="#18b8c7"/><stop offset="0.67" stop-color="#44c98b"/><stop offset="1" stop-color="#a9c73b"/></linearGradient><linearGradient id="s175"><stop offset="0" stop-color="#1f9aea"/><stop offset="0.33" stop-color="#19b8c6"/><stop offset="0.67" stop-color="#45c98a"/><stop offset="1" stop-color="#abc739"/></linearGradient><linearGradient id="s176"><stop offset="0" stop-color="#14adda"/><stop offset="0.33" stop-color="#2ac3a9"/><stop offset="0.67" stop-color="#78cb5d"/><stop offset="1" stop-color="#eeb93a"/></linearGradient><linearGradient id="s177"><stop offset="0" stop-color="#25c0b1"/><stop offset="0.33" stop-color="#69cc68"/><stop offset="0.67" stop-color="#ddbc3a"/><stop offset="1" stop-color="#face31"/></linearGradient><linearGradient id="s178"><stop offset="0" stop-color="#25c1b0"/><stop offset="0.33" stop-color="#6bcc66"/><stop offset="0.67" stop-color="#e0bc3a"/><stop offset="1" stop-color="#facf30"/></linearGradient><linearGradient id="s179"><stop offset="0" stop-color="#13aed9"/><stop offset="0.33" stop-color="#2cc4a6"/><stop offset="0.67" stop-color="#7dca59"/><stop offset="1" stop-color="#f5b83b"/></linearGradient><linearGradient id="s180"><stop offset="0" stop-color="#1c9ee8"/><stop offset="0.33" stop-color="#1bbac2"/><stop offset="0.67" stop-color="#4dca82"/><stop offset="1" stop-color="#b6c439"/></linearGradient><linearGradient id="s181"><stop offset="0" stop-color="#1c9ee8"/><stop offset="0.33" stop-color="#1bbac1"/><stop offset="0.67" stop-color="#4fca81"/><stop offset="1" stop-color="#b8c439"/></linearGradient><linearGradient id="s182"><stop offset="0" stop-color="#12b0d7"/><stop offset="0.33" stop-color="#2ec4a3"/><stop offset="0.67" stop-color="#83ca55"/><stop offset="1" stop-color="#f6b83b"/></linearGradient><linearGradient id="s183"><stop offset="0" stop-color="#28c2ab"/><stop offset="0.33" stop-color="#74cb60"/><stop offset="0.67" stop-color="#ebba3a"/><stop offset="1" stop-color="#f9d32e"/></linearGradient><linearGradient id="s184"><stop offset="0" stop-color="#29c2aa"/><stop offset="0.33" stop-color="#75cb5f"/><stop offset="0.67" stop-color="#edb93a"/><stop offset="1" stop-color="#f8d42d"/></linearGradient><linearGradient id="s185"><stop offset="0" stop-color="#12b1d6"/><stop offset="0.33" stop-color="#31c5a0"/><stop offset="0.67" stop-color="#89ca51"/><stop offset="1" stop-color="#f8b83b"/></linearGradient><linearGradient id="s186"><stop offset="0" stop-color="#1ba1e6"/><stop offset="0.33" stop-color="#1dbcbd"/><stop offset="0.67" stop-color="#56ca7a"/><stop offset="1" stop-color="#c4c239"/></linearGradient><linearGradient id="s187"><stop offset="0" stop-color="#1aa1e5"/><stop offset="0.33" stop-color="#1dbdbc"/><stop offset="0.67" stop-color="#58cb78"/><stop offset="1" stop-color="#c6c139"/></linearGradient><linearGradient id="s188"><stop offset="0" stop-color="#13b2d4"/><stop offset="0.33" stop-color="#33c69d"/><stop offset="0.67" stop-color="#8fc94d"/><stop offset="1" stop-color="#f9b83b"/></linearGradient><linearGradient id="s189"><stop offset="0" stop-color="#2cc4a6"/><stop offset="0.33" stop-color="#7eca58"/><stop offset="0.67" stop-color="#f5b83b"/><stop offset="1" stop-color="#f7d82a"/></linearGradient><linearGradient id="s190"><stop offset="0" stop-color="#2dc4a5"/><stop offset="0.33" stop-color="#80ca57"/><stop offset="0.67" stop-color="#f6b83b"/><stop offset="1" stop-color="#f7d92a"/></linearGradient><linearGradient id="s191"><stop offset="0" stop-color="#14b3d1"/><stop offset="0.33" stop-color="#35c79a"/><stop offset="0.67" stop-color="#95c949"/><stop offset="1" stop-color="#fbb83b"/></linearGradient><linearGradient id="s192"><stop offset="0" stop-color="#19a4e3"/><stop offset="0.33" stop-color="#20beb8"/><stop offset="0.67" stop-color="#60cb71"/><stop offset="1" stop-color="#d2bf3a"/></linearGradient><linearGradient id="s193"><stop offset="0" stop-color="#19a4e2"/><stop offset="0.33" stop-color="#20bfb7"/><stop offset="0.67" stop-color="#61cb6f"/><stop offset="1" stop-color="#d4be3a"/></linearGradient><linearGradient id="s194"><stop offset="0" stop-color="#15b4cf"/><stop offset="0.33" stop-color="#37c897"/><stop offset="0.67" stop-color="#9ac845"/><stop offset="1" stop-color="#fcb83b"/></linearGradient><linearGradient id="s195"><stop offset="0" stop-color="#30c5a0"/><stop offset="0.33" stop-color="#89ca51"/><stop offset="0.67" stop-color="#f8b83b"/><stop offset="1" stop-color="#f5dd27"/></linearGradient><linearGradient id="s196"><stop offset="0" stop-color="#31c59f"/><stop offset="0.33" stop-color="#8bc94f"/><stop offset="0.67" stop-color="#f9b83b"/><stop offset="1" stop-color="#f5de26"/></linearGradient><linearGradient id="s197"><stop offset="0" stop-color="#16b5cd"/><stop offset="0.33" stop-color="#3bc893"/><stop offset="0.67" stop-color="#a0c841"/><stop offset="1" stop-color="#fdba3a"/></linearGradient><linearGradient id="s198"><stop offset="0" stop-color="#17a7e0"/><stop offset="0.33" stop-color="#24c0b2"/><stop offset="0.67" stop-color="#69cc68"/><stop offset="1" stop-color="#e0bc3a"/></linearGradient><linearGradient id="s199"><stop offset="0" stop-color="#17a7df"/><stop offset="0.33" stop-color="#24c0b1"/><stop offset="0.67" stop-color="#6acc67"/><stop offset="1" stop-color="#e2bc3a"/></linearGradient><linearGradient id="s200"><stop offset="0" stop-color="#17b6ca"/><stop offset="0.33" stop-color="#3fc98f"/><stop offset="0.67" stop-color="#a6c73d"/><stop offset="1" stop-color="#fdbc3a"/></linearGradient><linearGradient id="s201"><stop offset="0" stop-color="#34c79b"/><stop offset="0.33" stop-color="#94c949"/><stop offset="0.67" stop-color="#fbb83b"/><stop offset="1" stop-color="#f5e224"/></linearGradient><linearGradient id="s202"><stop offset="0" stop-color="#35c79a"/><stop offset="0.33" stop-color="#96c848"/><stop offset="0.67" stop-color="#fcb83b"/><stop offset="1" stop-color="#f6e323"/></linearGradient><linearGradient id="s203"><stop offset="0" stop-color="#18b7c8"/><stop offset="0.33" stop-color="#44c98b"/><stop offset="0.67" stop-color="#acc739"/><stop offset="1" stop-color="#fdbe39"/></linearGradient><linearGradient id="s204"><stop offset="0" stop-color="#16aadd"/><stop offset="0.33" stop-color="#28c2ac"/><stop offset="0.67" stop-color="#74cb60"/><stop offset="1" stop-color="#edb93a"/></linearGradient><linearGradient id="s205"><stop offset="0" stop-color="#15aadd"/><stop offset="0.33" stop-color="#29c2ab"/><stop offset="0.67" stop-color="#76cb5e"/><stop offset="1" stop-color="#f0b93b"/></linearGradient><linearGradient id="s206"><stop offset="0" stop-color="#19b8c6"/><stop offset="0.33" stop-color="#48c987"/><stop offset="0.67" stop-color="#b2c539"/><stop offset="1" stop-color="#fec039"/></linearGradient><linearGradient id="s207"><stop offset="0" stop-color="#39c895"/><stop offset="0.33" stop-color="#9fc841"/><stop offset="0.67" stop-color="#fdba3a"/><stop offset="1" stop-color="#f6e820"/></linearGradient><linearGradient id="s208"><stop offset="0" stop-color="#3bc894"/><stop offset="0.33" stop-color="#a1c840"/><stop offset="0.67" stop-color="#fdbb3a"/><stop offset="1" stop-color="#f6e920"/></linearGradient><linearGradient id="s209"><stop offset="0" stop-color="#1ab9c3"/><stop offset="0.33" stop-color="#4cca83"/><stop offset="0.67" stop-color="#b9c439"/><stop offset="1" stop-color="#fec238"/></linearGradient><linearGradient id="s210"><stop offset="0" stop-color="#14adda"/><stop offset="0.33" stop-color="#2cc3a6"/><stop offset="0.67" stop-color="#7fca58"/><stop offset="1" stop-color="#f6b83b"/></linearGradient><linearGradient id="r211" gradientUnits="userSpaceOnUse" x1="267.85" y1="264.72" x2="390.45" y2="230.43"><stop offset="0" stop-color="#416bfe"/><stop offset="0.33" stop-color="#2394ee"/><stop offset="0.67" stop-color="#14b4d0"/><stop offset="1" stop-color="#33c69d"/></linearGradient><linearGradient id="r212" gradientUnits="userSpaceOnUse" x1="268.36" y1="264.9" x2="390.96" y2="230.46"><stop offset="0" stop-color="#426afe"/><stop offset="0.33" stop-color="#2394ee"/><stop offset="0.67" stop-color="#15b4cf"/><stop offset="1" stop-color="#35c79a"/></linearGradient><linearGradient id="r213" gradientUnits="userSpaceOnUse" x1="268.87" y1="265.1" x2="391.46" y2="230.51"><stop offset="0" stop-color="#4268fd"/><stop offset="0.33" stop-color="#2494ef"/><stop offset="0.67" stop-color="#15b5ce"/><stop offset="1" stop-color="#37c897"/></linearGradient><linearGradient id="r214" gradientUnits="userSpaceOnUse" x1="269.37" y1="265.09" x2="391.97" y2="230.37"><stop offset="0" stop-color="#416cfe"/><stop offset="0.33" stop-color="#2198ec"/><stop offset="0.67" stop-color="#18b8c7"/><stop offset="1" stop-color="#45c98a"/></linearGradient><linearGradient id="r215" gradientUnits="userSpaceOnUse" x1="269.88" y1="265" x2="392.47" y2="230.15"><stop offset="0" stop-color="#3d72fc"/><stop offset="0.33" stop-color="#1c9ee8"/><stop offset="0.67" stop-color="#1cbcbe"/><stop offset="1" stop-color="#58cb78"/></linearGradient><linearGradient id="r216" gradientUnits="userSpaceOnUse" x1="270.38" y1="264.93" x2="392.98" y2="229.97"><stop offset="0" stop-color="#3877fb"/><stop offset="0.33" stop-color="#19a3e3"/><stop offset="0.67" stop-color="#21bfb5"/><stop offset="1" stop-color="#69cc68"/></linearGradient><linearGradient id="r217" gradientUnits="userSpaceOnUse" x1="270.89" y1="264.87" x2="393.49" y2="229.81"><stop offset="0" stop-color="#357dfa"/><stop offset="0.33" stop-color="#17a8df"/><stop offset="0.67" stop-color="#28c2ac"/><stop offset="1" stop-color="#7bcb5b"/></linearGradient><linearGradient id="r218" gradientUnits="userSpaceOnUse" x1="271.4" y1="264.84" x2="393.99" y2="229.69"><stop offset="0" stop-color="#3281f8"/><stop offset="0.33" stop-color="#15abdc"/><stop offset="0.67" stop-color="#2dc4a5"/><stop offset="1" stop-color="#8bc94f"/></linearGradient><linearGradient id="r219" gradientUnits="userSpaceOnUse" x1="271.9" y1="264.83" x2="394.5" y2="229.62"><stop offset="0" stop-color="#2f85f7"/><stop offset="0.33" stop-color="#13aed9"/><stop offset="0.67" stop-color="#32c69e"/><stop offset="1" stop-color="#99c846"/></linearGradient><linearGradient id="r220" gradientUnits="userSpaceOnUse" x1="272.41" y1="264.86" x2="395" y2="229.59"><stop offset="0" stop-color="#2d88f6"/><stop offset="0.33" stop-color="#12b1d6"/><stop offset="0.67" stop-color="#35c799"/><stop offset="1" stop-color="#a3c73f"/></linearGradient><linearGradient id="r221" gradientUnits="userSpaceOnUse" x1="272.92" y1="264.91" x2="395.51" y2="229.6"><stop offset="0" stop-color="#2c89f5"/><stop offset="0.33" stop-color="#12b2d4"/><stop offset="0.67" stop-color="#39c896"/><stop offset="1" stop-color="#aac739"/></linearGradient><linearGradient id="r222" gradientUnits="userSpaceOnUse" x1="273.42" y1="265" x2="396.01" y2="229.67"><stop offset="0" stop-color="#2b8af5"/><stop offset="0.33" stop-color="#13b3d3"/><stop offset="0.67" stop-color="#3bc893"/><stop offset="1" stop-color="#afc639"/></linearGradient><linearGradient id="r223" gradientUnits="userSpaceOnUse" x1="273.93" y1="265.13" x2="396.52" y2="229.78"><stop offset="0" stop-color="#2b8af5"/><stop offset="0.33" stop-color="#13b3d3"/><stop offset="0.67" stop-color="#3cc893"/><stop offset="1" stop-color="#afc639"/></linearGradient><linearGradient id="r224" gradientUnits="userSpaceOnUse" x1="274.43" y1="265.29" x2="397.02" y2="229.95"><stop offset="0" stop-color="#2c8af5"/><stop offset="0.33" stop-color="#13b2d4"/><stop offset="0.67" stop-color="#39c895"/><stop offset="1" stop-color="#acc739"/></linearGradient><linearGradient id="r225" gradientUnits="userSpaceOnUse" x1="274.94" y1="265.49" x2="397.53" y2="230.16"><stop offset="0" stop-color="#2d88f6"/><stop offset="0.33" stop-color="#12b1d6"/><stop offset="0.67" stop-color="#36c899"/><stop offset="1" stop-color="#a5c73d"/></linearGradient><linearGradient id="r226" gradientUnits="userSpaceOnUse" x1="275.45" y1="265.72" x2="398.03" y2="230.43"><stop offset="0" stop-color="#2f85f7"/><stop offset="0.33" stop-color="#13afd8"/><stop offset="0.67" stop-color="#33c69d"/><stop offset="1" stop-color="#9cc844"/></linearGradient><linearGradient id="r227" gradientUnits="userSpaceOnUse" x1="275.95" y1="265.98" x2="398.54" y2="230.74"><stop offset="0" stop-color="#3281f8"/><stop offset="0.33" stop-color="#15acdb"/><stop offset="0.67" stop-color="#2ec4a3"/><stop offset="1" stop-color="#8fc94d"/></linearGradient><linearGradient id="r228" gradientUnits="userSpaceOnUse" x1="276.46" y1="266.27" x2="399.04" y2="231.09"><stop offset="0" stop-color="#357dfa"/><stop offset="0.33" stop-color="#17a8df"/><stop offset="0.67" stop-color="#29c2ab"/><stop offset="1" stop-color="#7fca58"/></linearGradient><linearGradient id="r229" gradientUnits="userSpaceOnUse" x1="276.97" y1="266.59" x2="399.55" y2="231.48"><stop offset="0" stop-color="#3977fb"/><stop offset="0.33" stop-color="#19a4e3"/><stop offset="0.67" stop-color="#22c0b4"/><stop offset="1" stop-color="#6ccc65"/></linearGradient><linearGradient id="r230" gradientUnits="userSpaceOnUse" x1="277.47" y1="266.93" x2="400.06" y2="231.91"><stop offset="0" stop-color="#3d71fd"/><stop offset="0.33" stop-color="#1c9fe7"/><stop offset="0.67" stop-color="#1dbcbd"/><stop offset="1" stop-color="#5bcb75"/></linearGradient><linearGradient id="r231" gradientUnits="userSpaceOnUse" x1="277.98" y1="267.28" x2="400.56" y2="232.37"><stop offset="0" stop-color="#416bfe"/><stop offset="0.33" stop-color="#2098ec"/><stop offset="0.67" stop-color="#19b8c6"/><stop offset="1" stop-color="#49c986"/></linearGradient><linearGradient id="r232" gradientUnits="userSpaceOnUse" x1="278.48" y1="267.65" x2="401.07" y2="232.85"><stop offset="0" stop-color="#4364fb"/><stop offset="0.33" stop-color="#2691f0"/><stop offset="0.67" stop-color="#14b4d0"/><stop offset="1" stop-color="#36c898"/></linearGradient><linearGradient id="r233" gradientUnits="userSpaceOnUse" x1="278.99" y1="267.81" x2="401.57" y2="233.14"><stop offset="0" stop-color="#4363fb"/><stop offset="0.33" stop-color="#278ff1"/><stop offset="0.67" stop-color="#13b2d4"/><stop offset="1" stop-color="#32c69e"/></linearGradient><linearGradient id="r234" gradientUnits="userSpaceOnUse" x1="279.5" y1="267.89" x2="402.08" y2="233.36"><stop offset="0" stop-color="#4365fc"/><stop offset="0.33" stop-color="#278ff1"/><stop offset="0.67" stop-color="#12b2d5"/><stop offset="1" stop-color="#2fc5a2"/></linearGradient><linearGradient id="r235" gradientUnits="userSpaceOnUse" x1="280" y1="267.98" x2="402.58" y2="233.6"><stop offset="0" stop-color="#4366fc"/><stop offset="0.33" stop-color="#278ff2"/><stop offset="0.67" stop-color="#12b0d7"/><stop offset="1" stop-color="#2cc4a6"/></linearGradient><linearGradient id="r236" gradientUnits="userSpaceOnUse" x1="280.51" y1="268.1" x2="403.09" y2="233.86"><stop offset="0" stop-color="#4366fc"/><stop offset="0.33" stop-color="#288ef2"/><stop offset="0.67" stop-color="#13afd9"/><stop offset="1" stop-color="#29c2ab"/></linearGradient><linearGradient id="r237" gradientUnits="userSpaceOnUse" x1="281.02" y1="268.23" x2="403.59" y2="234.15"><stop offset="0" stop-color="#4366fc"/><stop offset="0.33" stop-color="#298df3"/><stop offset="0.67" stop-color="#14acdb"/><stop offset="1" stop-color="#24c0b1"/></linearGradient><linearGradient id="r238" gradientUnits="userSpaceOnUse" x1="281.52" y1="268.38" x2="404.1" y2="234.47"><stop offset="0" stop-color="#4365fc"/><stop offset="0.33" stop-color="#2b8bf4"/><stop offset="0.67" stop-color="#16a9dd"/><stop offset="1" stop-color="#1fbeb8"/></linearGradient><linearGradient id="r239" gradientUnits="userSpaceOnUse" x1="282.03" y1="268.55" x2="404.6" y2="234.81"><stop offset="0" stop-color="#4364fb"/><stop offset="0.33" stop-color="#2d88f6"/><stop offset="0.67" stop-color="#18a6e1"/><stop offset="1" stop-color="#1cbbbf"/></linearGradient><linearGradient id="r240" gradientUnits="userSpaceOnUse" x1="282.53" y1="268.76" x2="405.11" y2="235.19"><stop offset="0" stop-color="#4462fa"/><stop offset="0.33" stop-color="#2f84f8"/><stop offset="0.67" stop-color="#1aa2e4"/><stop offset="1" stop-color="#18b8c7"/></linearGradient><linearGradient id="r241" gradientUnits="userSpaceOnUse" x1="283.04" y1="268.98" x2="405.62" y2="235.59"><stop offset="0" stop-color="#445ff9"/><stop offset="0.33" stop-color="#3380f9"/><stop offset="0.67" stop-color="#1c9ee8"/><stop offset="1" stop-color="#14b4d0"/></linearGradient><linearGradient id="r242" gradientUnits="userSpaceOnUse" x1="283.55" y1="269.18" x2="406.12" y2="235.88"><stop offset="0" stop-color="#455df9"/><stop offset="0.33" stop-color="#357df9"/><stop offset="0.67" stop-color="#1f9aea"/><stop offset="1" stop-color="#12b2d5"/></linearGradient><linearGradient id="r243" gradientUnits="userSpaceOnUse" x1="284.05" y1="269.21" x2="406.63" y2="235.72"><stop offset="0" stop-color="#4460fa"/><stop offset="0.33" stop-color="#3181f8"/><stop offset="0.67" stop-color="#1b9fe7"/><stop offset="1" stop-color="#16b6cc"/></linearGradient><linearGradient id="r244" gradientUnits="userSpaceOnUse" x1="284.56" y1="269.27" x2="407.13" y2="235.59"><stop offset="0" stop-color="#4462fa"/><stop offset="0.33" stop-color="#2f85f7"/><stop offset="0.67" stop-color="#19a3e3"/><stop offset="1" stop-color="#19b9c4"/></linearGradient><linearGradient id="r245" gradientUnits="userSpaceOnUse" x1="285.07" y1="269.35" x2="407.64" y2="235.49"><stop offset="0" stop-color="#4363fb"/><stop offset="0.33" stop-color="#2d88f6"/><stop offset="0.67" stop-color="#17a7e0"/><stop offset="1" stop-color="#1dbcbe"/></linearGradient><linearGradient id="r246" gradientUnits="userSpaceOnUse" x1="285.57" y1="269.46" x2="408.14" y2="235.42"><stop offset="0" stop-color="#4363fb"/><stop offset="0.33" stop-color="#2b8af5"/><stop offset="0.67" stop-color="#16a9dd"/><stop offset="1" stop-color="#20beb7"/></linearGradient><linearGradient id="r247" gradientUnits="userSpaceOnUse" x1="286.08" y1="269.59" x2="408.65" y2="235.37"><stop offset="0" stop-color="#4363fb"/><stop offset="0.33" stop-color="#2a8bf4"/><stop offset="0.67" stop-color="#15acdb"/><stop offset="1" stop-color="#24c0b1"/></linearGradient><linearGradient id="r248" gradientUnits="userSpaceOnUse" x1="286.58" y1="269.75" x2="409.15" y2="235.35"><stop offset="0" stop-color="#4363fb"/><stop offset="0.33" stop-color="#2a8cf4"/><stop offset="0.67" stop-color="#14adda"/><stop offset="1" stop-color="#28c2ac"/></linearGradient><linearGradient id="r249" gradientUnits="userSpaceOnUse" x1="287.09" y1="269.92" x2="409.66" y2="235.36"><stop offset="0" stop-color="#4461fa"/><stop offset="0.33" stop-color="#2a8cf4"/><stop offset="0.67" stop-color="#13aed9"/><stop offset="1" stop-color="#2bc3a8"/></linearGradient><linearGradient id="r250" gradientUnits="userSpaceOnUse" x1="287.6" y1="270.1" x2="410.16" y2="235.39"><stop offset="0" stop-color="#4460fa"/><stop offset="0.33" stop-color="#2a8cf4"/><stop offset="0.67" stop-color="#13afd8"/><stop offset="1" stop-color="#2dc4a5"/></linearGradient><linearGradient id="r251" gradientUnits="userSpaceOnUse" x1="288.1" y1="270.3" x2="410.67" y2="235.44"><stop offset="0" stop-color="#455ef9"/><stop offset="0.33" stop-color="#2a8bf4"/><stop offset="0.67" stop-color="#12b0d7"/><stop offset="1" stop-color="#2fc5a2"/></linearGradient><linearGradient id="r252" gradientUnits="userSpaceOnUse" x1="288.61" y1="270.27" x2="411.17" y2="235.29"><stop offset="0" stop-color="#4462fb"/><stop offset="0.33" stop-color="#2790f1"/><stop offset="0.67" stop-color="#14b3d1"/><stop offset="1" stop-color="#36c898"/></linearGradient><linearGradient id="r253" gradientUnits="userSpaceOnUse" x1="289.12" y1="270.18" x2="411.68" y2="235.08"><stop offset="0" stop-color="#4268fd"/><stop offset="0.33" stop-color="#2296ed"/><stop offset="0.67" stop-color="#18b7c8"/><stop offset="1" stop-color="#47c988"/></linearGradient><linearGradient id="r254" gradientUnits="userSpaceOnUse" x1="289.62" y1="270.11" x2="412.19" y2="234.89"><stop offset="0" stop-color="#3f6efd"/><stop offset="0.33" stop-color="#1d9ce9"/><stop offset="0.67" stop-color="#1cbbbf"/><stop offset="1" stop-color="#58cb78"/></linearGradient><linearGradient id="r255" gradientUnits="userSpaceOnUse" x1="290.13" y1="270.05" x2="412.69" y2="234.74"><stop offset="0" stop-color="#3c73fc"/><stop offset="0.33" stop-color="#1ba1e5"/><stop offset="0.67" stop-color="#1fbeb8"/><stop offset="1" stop-color="#67cc6a"/></linearGradient><linearGradient id="r256" gradientUnits="userSpaceOnUse" x1="290.63" y1="270.02" x2="413.2" y2="234.62"><stop offset="0" stop-color="#3977fb"/><stop offset="0.33" stop-color="#18a5e2"/><stop offset="0.67" stop-color="#25c1b0"/><stop offset="1" stop-color="#77cb5e"/></linearGradient><linearGradient id="r257" gradientUnits="userSpaceOnUse" x1="291.14" y1="270.02" x2="413.7" y2="234.55"><stop offset="0" stop-color="#367bfa"/><stop offset="0.33" stop-color="#17a8df"/><stop offset="0.67" stop-color="#2ac2aa"/><stop offset="1" stop-color="#84ca55"/></linearGradient><linearGradient id="r258" gradientUnits="userSpaceOnUse" x1="291.65" y1="270.04" x2="414.21" y2="234.52"><stop offset="0" stop-color="#347ef9"/><stop offset="0.33" stop-color="#15aadd"/><stop offset="0.67" stop-color="#2dc4a5"/><stop offset="1" stop-color="#8ec94d"/></linearGradient><linearGradient id="r259" gradientUnits="userSpaceOnUse" x1="292.15" y1="270.1" x2="414.71" y2="234.54"><stop offset="0" stop-color="#3280f9"/><stop offset="0.33" stop-color="#15acdb"/><stop offset="0.67" stop-color="#2fc5a2"/><stop offset="1" stop-color="#95c948"/></linearGradient><linearGradient id="r260" gradientUnits="userSpaceOnUse" x1="292.66" y1="270.2" x2="415.22" y2="234.6"><stop offset="0" stop-color="#3281f8"/><stop offset="0.33" stop-color="#14adda"/><stop offset="0.67" stop-color="#31c5a0"/><stop offset="1" stop-color="#99c846"/></linearGradient><linearGradient id="r261" gradientUnits="userSpaceOnUse" x1="293.17" y1="270.32" x2="415.72" y2="234.72"><stop offset="0" stop-color="#3281f8"/><stop offset="0.33" stop-color="#14adda"/><stop offset="0.67" stop-color="#31c5a0"/><stop offset="1" stop-color="#99c845"/></linearGradient><linearGradient id="r262" gradientUnits="userSpaceOnUse" x1="293.67" y1="270.49" x2="416.23" y2="234.89"><stop offset="0" stop-color="#3380f9"/><stop offset="0.33" stop-color="#15acdb"/><stop offset="0.67" stop-color="#30c5a1"/><stop offset="1" stop-color="#96c848"/></linearGradient><linearGradient id="r263" gradientUnits="userSpaceOnUse" x1="294.18" y1="270.68" x2="416.73" y2="235.11"><stop offset="0" stop-color="#347ef9"/><stop offset="0.33" stop-color="#15aadd"/><stop offset="0.67" stop-color="#2dc4a5"/><stop offset="1" stop-color="#90c94c"/></linearGradient><linearGradient id="r264" gradientUnits="userSpaceOnUse" x1="294.68" y1="270.92" x2="417.24" y2="235.37"><stop offset="0" stop-color="#367bfa"/><stop offset="0.33" stop-color="#17a8df"/><stop offset="0.67" stop-color="#2ac3a9"/><stop offset="1" stop-color="#86ca53"/></linearGradient><linearGradient id="r265" gradientUnits="userSpaceOnUse" x1="295.19" y1="271.18" x2="417.75" y2="235.69"><stop offset="0" stop-color="#3977fb"/><stop offset="0.33" stop-color="#18a5e2"/><stop offset="0.67" stop-color="#25c1af"/><stop offset="1" stop-color="#79cb5c"/></linearGradient><linearGradient id="r266" gradientUnits="userSpaceOnUse" x1="295.7" y1="271.47" x2="418.25" y2="236.04"><stop offset="0" stop-color="#3c72fc"/><stop offset="0.33" stop-color="#1ba1e5"/><stop offset="0.67" stop-color="#20bfb7"/><stop offset="1" stop-color="#69cc68"/></linearGradient><linearGradient id="r267" gradientUnits="userSpaceOnUse" x1="296.2" y1="271.79" x2="418.76" y2="236.44"><stop offset="0" stop-color="#406dfe"/><stop offset="0.33" stop-color="#1e9ce9"/><stop offset="0.67" stop-color="#1cbbbf"/><stop offset="1" stop-color="#5acb76"/></linearGradient><linearGradient id="r268" gradientUnits="userSpaceOnUse" x1="296.71" y1="272.13" x2="419.26" y2="236.87"><stop offset="0" stop-color="#4267fc"/><stop offset="0.33" stop-color="#2296ed"/><stop offset="0.67" stop-color="#18b8c7"/><stop offset="1" stop-color="#49c986"/></linearGradient><linearGradient id="r269" gradientUnits="userSpaceOnUse" x1="297.22" y1="272.49" x2="419.77" y2="237.33"><stop offset="0" stop-color="#4461fa"/><stop offset="0.33" stop-color="#2790f1"/><stop offset="0.67" stop-color="#14b3d1"/><stop offset="1" stop-color="#37c897"/></linearGradient><linearGradient id="r270" gradientUnits="userSpaceOnUse" x1="297.72" y1="272.85" x2="420.27" y2="237.81"><stop offset="0" stop-color="#465af7"/><stop offset="0.33" stop-color="#2c89f6"/><stop offset="0.67" stop-color="#13aed9"/><stop offset="1" stop-color="#2dc4a4"/></linearGradient><linearGradient id="r271" gradientUnits="userSpaceOnUse" x1="298.23" y1="273" x2="420.78" y2="238.08"><stop offset="0" stop-color="#465af7"/><stop offset="0.33" stop-color="#2d87f7"/><stop offset="0.67" stop-color="#14acdb"/><stop offset="1" stop-color="#2ac2aa"/></linearGradient><linearGradient id="r272" gradientUnits="userSpaceOnUse" x1="298.73" y1="273.08" x2="421.28" y2="238.3"><stop offset="0" stop-color="#455bf8"/><stop offset="0.33" stop-color="#2d87f7"/><stop offset="0.67" stop-color="#15abdc"/><stop offset="1" stop-color="#27c1ad"/></linearGradient><linearGradient id="r273" gradientUnits="userSpaceOnUse" x1="299.24" y1="273.18" x2="421.79" y2="238.54"><stop offset="0" stop-color="#455cf8"/><stop offset="0.33" stop-color="#2e87f7"/><stop offset="0.67" stop-color="#16aadd"/><stop offset="1" stop-color="#24c0b1"/></linearGradient><linearGradient id="r274" gradientUnits="userSpaceOnUse" x1="299.75" y1="273.29" x2="422.29" y2="238.81"><stop offset="0" stop-color="#455cf8"/><stop offset="0.33" stop-color="#2f85f7"/><stop offset="0.67" stop-color="#17a8df"/><stop offset="1" stop-color="#20bfb7"/></linearGradient><linearGradient id="r275" gradientUnits="userSpaceOnUse" x1="300.25" y1="273.42" x2="422.8" y2="239.1"><stop offset="0" stop-color="#455cf8"/><stop offset="0.33" stop-color="#3084f8"/><stop offset="0.67" stop-color="#18a5e1"/><stop offset="1" stop-color="#1dbdbc"/></linearGradient><linearGradient id="r276" gradientUnits="userSpaceOnUse" x1="300.76" y1="273.57" x2="423.3" y2="239.42"><stop offset="0" stop-color="#455bf8"/><stop offset="0.33" stop-color="#3181f8"/><stop offset="0.67" stop-color="#1aa3e4"/><stop offset="1" stop-color="#1abac2"/></linearGradient><linearGradient id="r277" gradientUnits="userSpaceOnUse" x1="301.27" y1="273.75" x2="423.81" y2="239.77"><stop offset="0" stop-color="#465af7"/><stop offset="0.33" stop-color="#347ef9"/><stop offset="0.67" stop-color="#1b9fe7"/><stop offset="1" stop-color="#17b7c9"/></linearGradient><linearGradient id="r278" gradientUnits="userSpaceOnUse" x1="301.77" y1="273.95" x2="424.32" y2="240.14"><stop offset="0" stop-color="#4658f7"/><stop offset="0.33" stop-color="#367bfa"/><stop offset="0.67" stop-color="#1f9bea"/><stop offset="1" stop-color="#14b3d1"/></linearGradient><linearGradient id="r279" gradientUnits="userSpaceOnUse" x1="302.28" y1="274.18" x2="424.82" y2="240.55"><stop offset="0" stop-color="#4755f5"/><stop offset="0.33" stop-color="#3a76fb"/><stop offset="0.67" stop-color="#2395ee"/><stop offset="1" stop-color="#13afd8"/></linearGradient><linearGradient id="r280" gradientUnits="userSpaceOnUse" x1="302.78" y1="274.37" x2="425.33" y2="240.8"><stop offset="0" stop-color="#4754f5"/><stop offset="0.33" stop-color="#3b74fc"/><stop offset="0.67" stop-color="#2593ef"/><stop offset="1" stop-color="#14acdb"/></linearGradient><linearGradient id="r281" gradientUnits="userSpaceOnUse" x1="303.29" y1="274.4" x2="425.83" y2="240.65"><stop offset="0" stop-color="#4756f6"/><stop offset="0.33" stop-color="#3878fb"/><stop offset="0.67" stop-color="#2198ec"/><stop offset="1" stop-color="#12b1d5"/></linearGradient><linearGradient id="r282" gradientUnits="userSpaceOnUse" x1="303.8" y1="274.46" x2="426.34" y2="240.52"><stop offset="0" stop-color="#4658f7"/><stop offset="0.33" stop-color="#367cfa"/><stop offset="0.67" stop-color="#1d9de9"/><stop offset="1" stop-color="#15b5ce"/></linearGradient><linearGradient id="r283" gradientUnits="userSpaceOnUse" x1="304.3" y1="274.54" x2="426.84" y2="240.42"><stop offset="0" stop-color="#4659f7"/><stop offset="0.33" stop-color="#337ef9"/><stop offset="0.67" stop-color="#1ba0e6"/><stop offset="1" stop-color="#18b8c7"/></linearGradient><linearGradient id="r284" gradientUnits="userSpaceOnUse" x1="304.81" y1="274.65" x2="427.35" y2="240.35"><stop offset="0" stop-color="#465af7"/><stop offset="0.33" stop-color="#3281f9"/><stop offset="0.67" stop-color="#19a3e4"/><stop offset="1" stop-color="#1bbac1"/></linearGradient><linearGradient id="r285" gradientUnits="userSpaceOnUse" x1="305.32" y1="274.79" x2="427.85" y2="240.3"><stop offset="0" stop-color="#465af7"/><stop offset="0.33" stop-color="#3182f8"/><stop offset="0.67" stop-color="#18a5e2"/><stop offset="1" stop-color="#1dbdbc"/></linearGradient><linearGradient id="r286" gradientUnits="userSpaceOnUse" x1="305.82" y1="274.94" x2="428.36" y2="240.29"><stop offset="0" stop-color="#4659f7"/><stop offset="0.33" stop-color="#3083f8"/><stop offset="0.67" stop-color="#17a7e0"/><stop offset="1" stop-color="#20beb7"/></linearGradient><linearGradient id="r287" gradientUnits="userSpaceOnUse" x1="306.33" y1="275.11" x2="428.86" y2="240.3"><stop offset="0" stop-color="#4658f6"/><stop offset="0.33" stop-color="#3083f8"/><stop offset="0.67" stop-color="#17a8df"/><stop offset="1" stop-color="#23c0b3"/></linearGradient><linearGradient id="r288" gradientUnits="userSpaceOnUse" x1="306.83" y1="275.3" x2="429.37" y2="240.33"><stop offset="0" stop-color="#4756f6"/><stop offset="0.33" stop-color="#3083f8"/><stop offset="0.67" stop-color="#16a9de"/><stop offset="1" stop-color="#25c1b0"/></linearGradient><linearGradient id="r289" gradientUnits="userSpaceOnUse" x1="307.34" y1="275.49" x2="429.88" y2="240.38"><stop offset="0" stop-color="#4754f5"/><stop offset="0.33" stop-color="#3182f8"/><stop offset="0.67" stop-color="#16a9de"/><stop offset="1" stop-color="#27c1ae"/></linearGradient><linearGradient id="r290" gradientUnits="userSpaceOnUse" x1="307.85" y1="275.46" x2="430.38" y2="240.21"><stop offset="0" stop-color="#4659f7"/><stop offset="0.33" stop-color="#2d88f6"/><stop offset="0.67" stop-color="#13aed9"/><stop offset="1" stop-color="#2ec4a3"/></linearGradient><linearGradient id="r291" gradientUnits="userSpaceOnUse" x1="308.35" y1="275.37" x2="430.89" y2="240"><stop offset="0" stop-color="#445ff9"/><stop offset="0.33" stop-color="#288ef2"/><stop offset="0.67" stop-color="#14b3d1"/><stop offset="1" stop-color="#37c897"/></linearGradient><linearGradient id="r292" gradientUnits="userSpaceOnUse" x1="308.86" y1="275.29" x2="431.39" y2="239.82"><stop offset="0" stop-color="#4364fb"/><stop offset="0.33" stop-color="#2494ee"/><stop offset="0.67" stop-color="#17b7c9"/><stop offset="1" stop-color="#48c987"/></linearGradient><linearGradient id="r293" gradientUnits="userSpaceOnUse" x1="309.37" y1="275.24" x2="431.9" y2="239.66"><stop offset="0" stop-color="#4269fd"/><stop offset="0.33" stop-color="#2099eb"/><stop offset="0.67" stop-color="#1bbac2"/><stop offset="1" stop-color="#57ca79"/></linearGradient><linearGradient id="r294" gradientUnits="userSpaceOnUse" x1="309.87" y1="275.21" x2="432.4" y2="239.55"><stop offset="0" stop-color="#406dfe"/><stop offset="0.33" stop-color="#1c9ee8"/><stop offset="0.67" stop-color="#1ebdbb"/><stop offset="1" stop-color="#64cb6d"/></linearGradient><linearGradient id="r295" gradientUnits="userSpaceOnUse" x1="310.38" y1="275.21" x2="432.91" y2="239.48"><stop offset="0" stop-color="#3d71fd"/><stop offset="0.33" stop-color="#1aa1e5"/><stop offset="0.67" stop-color="#21bfb5"/><stop offset="1" stop-color="#6fcc63"/></linearGradient><linearGradient id="r296" gradientUnits="userSpaceOnUse" x1="310.88" y1="275.23" x2="433.41" y2="239.45"><stop offset="0" stop-color="#3b74fc"/><stop offset="0.33" stop-color="#19a3e3"/><stop offset="0.67" stop-color="#25c0b1"/><stop offset="1" stop-color="#79cb5c"/></linearGradient><linearGradient id="r297" gradientUnits="userSpaceOnUse" x1="311.39" y1="275.29" x2="433.92" y2="239.47"><stop offset="0" stop-color="#3a76fb"/><stop offset="0.33" stop-color="#18a5e2"/><stop offset="0.67" stop-color="#27c1ad"/><stop offset="1" stop-color="#80ca57"/></linearGradient><linearGradient id="r298" gradientUnits="userSpaceOnUse" x1="311.9" y1="275.39" x2="434.42" y2="239.54"><stop offset="0" stop-color="#3977fb"/><stop offset="0.33" stop-color="#18a6e1"/><stop offset="0.67" stop-color="#28c2ac"/><stop offset="1" stop-color="#84ca55"/></linearGradient><linearGradient id="r299" gradientUnits="userSpaceOnUse" x1="312.4" y1="275.52" x2="434.93" y2="239.66"><stop offset="0" stop-color="#3977fb"/><stop offset="0.33" stop-color="#18a6e1"/><stop offset="0.67" stop-color="#28c2ac"/><stop offset="1" stop-color="#84ca55"/></linearGradient><linearGradient id="r300" gradientUnits="userSpaceOnUse" x1="312.91" y1="275.68" x2="435.43" y2="239.83"><stop offset="0" stop-color="#3a76fb"/><stop offset="0.33" stop-color="#18a5e2"/><stop offset="0.67" stop-color="#27c1ad"/><stop offset="1" stop-color="#81ca57"/></linearGradient><linearGradient id="r301" gradientUnits="userSpaceOnUse" x1="313.42" y1="275.88" x2="435.94" y2="240.05"><stop offset="0" stop-color="#3b74fc"/><stop offset="0.33" stop-color="#19a3e3"/><stop offset="0.67" stop-color="#25c0b1"/><stop offset="1" stop-color="#7acb5c"/></linearGradient><linearGradient id="r302" gradientUnits="userSpaceOnUse" x1="313.92" y1="276.12" x2="436.45" y2="240.32"><stop offset="0" stop-color="#3d71fd"/><stop offset="0.33" stop-color="#1ba1e6"/><stop offset="0.67" stop-color="#21bfb5"/><stop offset="1" stop-color="#70cc63"/></linearGradient><linearGradient id="r303" gradientUnits="userSpaceOnUse" x1="314.43" y1="276.38" x2="436.95" y2="240.64"><stop offset="0" stop-color="#406dfe"/><stop offset="0.33" stop-color="#1d9de8"/><stop offset="0.67" stop-color="#1ebdbb"/><stop offset="1" stop-color="#64cb6c"/></linearGradient><linearGradient id="r304" gradientUnits="userSpaceOnUse" x1="314.93" y1="276.67" x2="437.46" y2="240.99"><stop offset="0" stop-color="#4268fd"/><stop offset="0.33" stop-color="#2099eb"/><stop offset="0.67" stop-color="#1bbac2"/><stop offset="1" stop-color="#57ca79"/></linearGradient><linearGradient id="r305" gradientUnits="userSpaceOnUse" x1="315.44" y1="276.99" x2="437.96" y2="241.39"><stop offset="0" stop-color="#4363fb"/><stop offset="0.33" stop-color="#2493ef"/><stop offset="0.67" stop-color="#17b7c9"/><stop offset="1" stop-color="#48c987"/></linearGradient><linearGradient id="r306" gradientUnits="userSpaceOnUse" x1="315.95" y1="277.33" x2="438.47" y2="241.82"><stop offset="0" stop-color="#455df9"/><stop offset="0.33" stop-color="#298df3"/><stop offset="0.67" stop-color="#13b3d2"/><stop offset="1" stop-color="#37c897"/></linearGradient><linearGradient id="r307" gradientUnits="userSpaceOnUse" x1="316.45" y1="277.69" x2="438.97" y2="242.28"><stop offset="0" stop-color="#4657f6"/><stop offset="0.33" stop-color="#2e87f7"/><stop offset="0.67" stop-color="#13aed9"/><stop offset="1" stop-color="#2ec4a3"/></linearGradient><linearGradient id="r308" gradientUnits="userSpaceOnUse" x1="316.96" y1="278.06" x2="439.48" y2="242.77"><stop offset="0" stop-color="#4750f2"/><stop offset="0.33" stop-color="#337ff9"/><stop offset="0.67" stop-color="#17a7df"/><stop offset="1" stop-color="#25c1b0"/></linearGradient><linearGradient id="r309" gradientUnits="userSpaceOnUse" x1="317.47" y1="278.19" x2="439.98" y2="243.03"><stop offset="0" stop-color="#4750f2"/><stop offset="0.33" stop-color="#347df9"/><stop offset="0.67" stop-color="#18a5e1"/><stop offset="1" stop-color="#21bfb5"/></linearGradient><linearGradient id="r310" gradientUnits="userSpaceOnUse" x1="317.97" y1="278.27" x2="440.49" y2="243.25"><stop offset="0" stop-color="#4851f3"/><stop offset="0.33" stop-color="#347df9"/><stop offset="0.67" stop-color="#19a4e2"/><stop offset="1" stop-color="#1fbeb9"/></linearGradient><linearGradient id="r311" gradientUnits="userSpaceOnUse" x1="318.48" y1="278.37" x2="440.99" y2="243.49"><stop offset="0" stop-color="#4852f4"/><stop offset="0.33" stop-color="#357dfa"/><stop offset="0.67" stop-color="#19a3e3"/><stop offset="1" stop-color="#1dbcbc"/></linearGradient><linearGradient id="r312" gradientUnits="userSpaceOnUse" x1="318.98" y1="278.48" x2="441.5" y2="243.75"><stop offset="0" stop-color="#4853f4"/><stop offset="0.33" stop-color="#357cfa"/><stop offset="0.67" stop-color="#1aa1e5"/><stop offset="1" stop-color="#1bbac1"/></linearGradient><linearGradient id="r313" gradientUnits="userSpaceOnUse" x1="319.49" y1="278.61" x2="442.01" y2="244.05"><stop offset="0" stop-color="#4852f4"/><stop offset="0.33" stop-color="#377afa"/><stop offset="0.67" stop-color="#1c9fe7"/><stop offset="1" stop-color="#19b8c6"/></linearGradient><linearGradient id="r314" gradientUnits="userSpaceOnUse" x1="320" y1="278.77" x2="442.51" y2="244.37"><stop offset="0" stop-color="#4852f4"/><stop offset="0.33" stop-color="#3878fb"/><stop offset="0.67" stop-color="#1e9bea"/><stop offset="1" stop-color="#16b5cc"/></linearGradient><linearGradient id="r315" gradientUnits="userSpaceOnUse" x1="320.5" y1="278.95" x2="443.02" y2="244.72"><stop offset="0" stop-color="#4750f2"/><stop offset="0.33" stop-color="#3b74fc"/><stop offset="0.67" stop-color="#2197ec"/><stop offset="1" stop-color="#13b2d3"/></linearGradient><linearGradient id="r316" gradientUnits="userSpaceOnUse" x1="321.01" y1="279.15" x2="443.52" y2="245.09"><stop offset="0" stop-color="#474ef0"/><stop offset="0.33" stop-color="#3d71fd"/><stop offset="0.67" stop-color="#2592f0"/><stop offset="1" stop-color="#13aed9"/></linearGradient><linearGradient id="r317" gradientUnits="userSpaceOnUse" x1="321.52" y1="279.38" x2="444.03" y2="245.5"><stop offset="0" stop-color="#474ced"/><stop offset="0.33" stop-color="#416cfe"/><stop offset="0.67" stop-color="#298df3"/><stop offset="1" stop-color="#17a8df"/></linearGradient><linearGradient id="r318" gradientUnits="userSpaceOnUse" x1="322.02" y1="279.55" x2="444.53" y2="245.73"><stop offset="0" stop-color="#474aec"/><stop offset="0.33" stop-color="#416afe"/><stop offset="0.67" stop-color="#2b8bf4"/><stop offset="1" stop-color="#18a6e1"/></linearGradient><linearGradient id="r319" gradientUnits="userSpaceOnUse" x1="322.53" y1="279.59" x2="445.04" y2="245.58"><stop offset="0" stop-color="#474dee"/><stop offset="0.33" stop-color="#3f6efd"/><stop offset="0.67" stop-color="#2790f1"/><stop offset="1" stop-color="#15abdb"/></linearGradient><linearGradient id="r320" gradientUnits="userSpaceOnUse" x1="323.03" y1="279.65" x2="445.54" y2="245.45"><stop offset="0" stop-color="#474ff0"/><stop offset="0.33" stop-color="#3c72fc"/><stop offset="0.67" stop-color="#2395ee"/><stop offset="1" stop-color="#12b1d7"/></linearGradient><linearGradient id="r321" gradientUnits="userSpaceOnUse" x1="323.54" y1="279.74" x2="446.05" y2="245.35"><stop offset="0" stop-color="#4750f1"/><stop offset="0.33" stop-color="#3a75fc"/><stop offset="0.67" stop-color="#2099ec"/><stop offset="1" stop-color="#14b4d0"/></linearGradient><linearGradient id="r322" gradientUnits="userSpaceOnUse" x1="324.05" y1="279.85" x2="446.55" y2="245.28"><stop offset="0" stop-color="#4750f2"/><stop offset="0.33" stop-color="#3977fb"/><stop offset="0.67" stop-color="#1e9ce9"/><stop offset="1" stop-color="#17b6ca"/></linearGradient><linearGradient id="r323" gradientUnits="userSpaceOnUse" x1="324.55" y1="279.98" x2="447.06" y2="245.24"><stop offset="0" stop-color="#4750f2"/><stop offset="0.33" stop-color="#3878fb"/><stop offset="0.67" stop-color="#1c9fe8"/><stop offset="1" stop-color="#19b9c5"/></linearGradient><linearGradient id="r324" gradientUnits="userSpaceOnUse" x1="325.06" y1="280.13" x2="447.56" y2="245.22"><stop offset="0" stop-color="#474ff1"/><stop offset="0.33" stop-color="#3779fa"/><stop offset="0.67" stop-color="#1ba0e6"/><stop offset="1" stop-color="#1bbac1"/></linearGradient><linearGradient id="r325" gradientUnits="userSpaceOnUse" x1="325.57" y1="280.31" x2="448.07" y2="245.23"><stop offset="0" stop-color="#474ef0"/><stop offset="0.33" stop-color="#377afa"/><stop offset="0.67" stop-color="#1aa1e5"/><stop offset="1" stop-color="#1dbcbe"/></linearGradient><linearGradient id="r326" gradientUnits="userSpaceOnUse" x1="326.07" y1="280.49" x2="448.58" y2="245.26"><stop offset="0" stop-color="#474cee"/><stop offset="0.33" stop-color="#3779fa"/><stop offset="0.67" stop-color="#1aa2e4"/><stop offset="1" stop-color="#1ebdbb"/></linearGradient><linearGradient id="r327" gradientUnits="userSpaceOnUse" x1="326.58" y1="280.69" x2="449.08" y2="245.32"><stop offset="0" stop-color="#474bec"/><stop offset="0.33" stop-color="#3879fb"/><stop offset="0.67" stop-color="#1aa3e4"/><stop offset="1" stop-color="#1fbeb9"/></linearGradient><linearGradient id="r328" gradientUnits="userSpaceOnUse" x1="327.08" y1="280.64" x2="449.59" y2="245.13"><stop offset="0" stop-color="#474ff1"/><stop offset="0.33" stop-color="#337ff9"/><stop offset="0.67" stop-color="#17a8df"/><stop offset="1" stop-color="#27c1ae"/></linearGradient><linearGradient id="r329" gradientUnits="userSpaceOnUse" x1="327.59" y1="280.55" x2="450.09" y2="244.92"><stop offset="0" stop-color="#4755f5"/><stop offset="0.33" stop-color="#2e86f7"/><stop offset="0.67" stop-color="#13aed9"/><stop offset="1" stop-color="#2fc5a2"/></linearGradient><linearGradient id="r330" gradientUnits="userSpaceOnUse" x1="328.1" y1="280.48" x2="450.6" y2="244.74"><stop offset="0" stop-color="#455bf8"/><stop offset="0.33" stop-color="#2a8cf4"/><stop offset="0.67" stop-color="#13b3d3"/><stop offset="1" stop-color="#37c897"/></linearGradient><linearGradient id="r331" gradientUnits="userSpaceOnUse" x1="328.6" y1="280.42" x2="451.1" y2="244.59"><stop offset="0" stop-color="#4460fa"/><stop offset="0.33" stop-color="#2691f0"/><stop offset="0.67" stop-color="#16b6cb"/><stop offset="1" stop-color="#46c989"/></linearGradient><linearGradient id="r332" gradientUnits="userSpaceOnUse" x1="329.11" y1="280.39" x2="451.61" y2="244.48"><stop offset="0" stop-color="#4364fb"/><stop offset="0.33" stop-color="#2296ed"/><stop offset="0.67" stop-color="#19b9c5"/><stop offset="1" stop-color="#53ca7d"/></linearGradient><linearGradient id="r333" gradientUnits="userSpaceOnUse" x1="329.62" y1="280.39" x2="452.11" y2="244.41"><stop offset="0" stop-color="#4267fd"/><stop offset="0.33" stop-color="#2099eb"/><stop offset="0.67" stop-color="#1cbbc0"/><stop offset="1" stop-color="#5ecb73"/></linearGradient><linearGradient id="r334" gradientUnits="userSpaceOnUse" x1="330.12" y1="280.42" x2="452.62" y2="244.38"><stop offset="0" stop-color="#416afe"/><stop offset="0.33" stop-color="#1e9ce9"/><stop offset="0.67" stop-color="#1dbdbc"/><stop offset="1" stop-color="#66cc6b"/></linearGradient><linearGradient id="r335" gradientUnits="userSpaceOnUse" x1="330.63" y1="280.48" x2="453.12" y2="244.41"><stop offset="0" stop-color="#416cfe"/><stop offset="0.33" stop-color="#1c9ee8"/><stop offset="0.67" stop-color="#1fbeb9"/><stop offset="1" stop-color="#6bcc66"/></linearGradient><linearGradient id="r336" gradientUnits="userSpaceOnUse" x1="331.13" y1="280.58" x2="453.63" y2="244.48"><stop offset="0" stop-color="#406dfe"/><stop offset="0.33" stop-color="#1c9fe7"/><stop offset="0.67" stop-color="#20beb7"/><stop offset="1" stop-color="#6ecc64"/></linearGradient><linearGradient id="r337" gradientUnits="userSpaceOnUse" x1="331.64" y1="280.71" x2="454.14" y2="244.6"><stop offset="0" stop-color="#406dfe"/><stop offset="0.33" stop-color="#1c9fe7"/><stop offset="0.67" stop-color="#20beb7"/><stop offset="1" stop-color="#6ecc64"/></linearGradient><linearGradient id="r338" gradientUnits="userSpaceOnUse" x1="332.15" y1="280.88" x2="454.64" y2="244.78"><stop offset="0" stop-color="#416cfe"/><stop offset="0.33" stop-color="#1c9ee8"/><stop offset="0.67" stop-color="#1fbeb9"/><stop offset="1" stop-color="#6bcc66"/></linearGradient><linearGradient id="r339" gradientUnits="userSpaceOnUse" x1="332.65" y1="281.08" x2="455.15" y2="245"><stop offset="0" stop-color="#4269fd"/><stop offset="0.33" stop-color="#1e9cea"/><stop offset="0.67" stop-color="#1dbdbc"/><stop offset="1" stop-color="#65cc6b"/></linearGradient><linearGradient id="r340" gradientUnits="userSpaceOnUse" x1="333.16" y1="281.31" x2="455.65" y2="245.27"><stop offset="0" stop-color="#4267fc"/><stop offset="0.33" stop-color="#2099eb"/><stop offset="0.67" stop-color="#1bbbc0"/><stop offset="1" stop-color="#5dcb73"/></linearGradient><linearGradient id="r341" gradientUnits="userSpaceOnUse" x1="333.67" y1="281.58" x2="456.16" y2="245.59"><stop offset="0" stop-color="#4363fb"/><stop offset="0.33" stop-color="#2395ee"/><stop offset="0.67" stop-color="#19b8c6"/><stop offset="1" stop-color="#52ca7d"/></linearGradient><linearGradient id="r342" gradientUnits="userSpaceOnUse" x1="334.17" y1="281.87" x2="456.66" y2="245.95"><stop offset="0" stop-color="#455ef9"/><stop offset="0.33" stop-color="#2790f1"/><stop offset="0.67" stop-color="#16b5cc"/><stop offset="1" stop-color="#45c98a"/></linearGradient><linearGradient id="r343" gradientUnits="userSpaceOnUse" x1="334.68" y1="282.19" x2="457.17" y2="246.34"><stop offset="0" stop-color="#4659f7"/><stop offset="0.33" stop-color="#2b8bf4"/><stop offset="0.67" stop-color="#13b2d4"/><stop offset="1" stop-color="#37c898"/></linearGradient><linearGradient id="r344" gradientUnits="userSpaceOnUse" x1="335.18" y1="282.54" x2="457.67" y2="246.78"><stop offset="0" stop-color="#4753f5"/><stop offset="0.33" stop-color="#2f84f8"/><stop offset="0.67" stop-color="#14adda"/><stop offset="1" stop-color="#2fc4a3"/></linearGradient><linearGradient id="r345" gradientUnits="userSpaceOnUse" x1="335.69" y1="282.89" x2="458.18" y2="247.24"><stop offset="0" stop-color="#474def"/><stop offset="0.33" stop-color="#357dfa"/><stop offset="0.67" stop-color="#17a7e0"/><stop offset="1" stop-color="#26c1af"/></linearGradient><linearGradient id="r346" gradientUnits="userSpaceOnUse" x1="336.2" y1="283.26" x2="458.68" y2="247.73"><stop offset="0" stop-color="#4746e8"/><stop offset="0.33" stop-color="#3a75fc"/><stop offset="0.67" stop-color="#1ba0e6"/><stop offset="1" stop-color="#1dbdbc"/></linearGradient><linearGradient id="r347" gradientUnits="userSpaceOnUse" x1="336.7" y1="283.38" x2="459.19" y2="247.97"><stop offset="0" stop-color="#4747e8"/><stop offset="0.33" stop-color="#3b74fc"/><stop offset="0.67" stop-color="#1c9fe7"/><stop offset="1" stop-color="#1cbbbf"/></linearGradient><linearGradient id="r348" gradientUnits="userSpaceOnUse" x1="337.21" y1="283.46" x2="459.69" y2="248.19"><stop offset="0" stop-color="#4748e9"/><stop offset="0.33" stop-color="#3b74fc"/><stop offset="0.67" stop-color="#1c9ee8"/><stop offset="1" stop-color="#1abac2"/></linearGradient><linearGradient id="r349" gradientUnits="userSpaceOnUse" x1="337.72" y1="283.56" x2="460.2" y2="248.43"><stop offset="0" stop-color="#4749ea"/><stop offset="0.33" stop-color="#3c73fc"/><stop offset="0.67" stop-color="#1e9ce9"/><stop offset="1" stop-color="#19b8c6"/></linearGradient><linearGradient id="r350" gradientUnits="userSpaceOnUse" x1="338.22" y1="283.67" x2="460.71" y2="248.7"><stop offset="0" stop-color="#4749eb"/><stop offset="0.33" stop-color="#3c72fc"/><stop offset="0.67" stop-color="#1f9aeb"/><stop offset="1" stop-color="#17b6cb"/></linearGradient><linearGradient id="r351" gradientUnits="userSpaceOnUse" x1="338.73" y1="283.81" x2="461.21" y2="249"><stop offset="0" stop-color="#4749ea"/><stop offset="0.33" stop-color="#3e70fd"/><stop offset="0.67" stop-color="#2297ed"/><stop offset="1" stop-color="#14b4d0"/></linearGradient><linearGradient id="r352" gradientUnits="userSpaceOnUse" x1="339.23" y1="283.96" x2="461.72" y2="249.32"><stop offset="0" stop-color="#4748ea"/><stop offset="0.33" stop-color="#3f6efd"/><stop offset="0.67" stop-color="#2493ef"/><stop offset="1" stop-color="#12b1d6"/></linearGradient><linearGradient id="r353" gradientUnits="userSpaceOnUse" x1="339.74" y1="284.14" x2="462.22" y2="249.67"><stop offset="0" stop-color="#4747e8"/><stop offset="0.33" stop-color="#416bfe"/><stop offset="0.67" stop-color="#278ff2"/><stop offset="1" stop-color="#14acdb"/></linearGradient><linearGradient id="r354" gradientUnits="userSpaceOnUse" x1="340.25" y1="284.35" x2="462.73" y2="250.05"><stop offset="0" stop-color="#4745e6"/><stop offset="0.33" stop-color="#4267fc"/><stop offset="0.67" stop-color="#2b8af5"/><stop offset="1" stop-color="#17a7df"/></linearGradient><linearGradient id="r355" gradientUnits="userSpaceOnUse" x1="340.75" y1="284.58" x2="463.23" y2="250.45"><stop offset="0" stop-color="#4642e3"/><stop offset="0.33" stop-color="#4362fb"/><stop offset="0.67" stop-color="#2f84f8"/><stop offset="1" stop-color="#1aa1e5"/></linearGradient><linearGradient id="r356" gradientUnits="userSpaceOnUse" x1="341.26" y1="284.74" x2="463.74" y2="250.65"><stop offset="0" stop-color="#4641e2"/><stop offset="0.33" stop-color="#4461fa"/><stop offset="0.67" stop-color="#3182f8"/><stop offset="1" stop-color="#1ba0e6"/></linearGradient><linearGradient id="r357" gradientUnits="userSpaceOnUse" x1="341.77" y1="284.78" x2="464.24" y2="250.5"><stop offset="0" stop-color="#4643e5"/><stop offset="0.33" stop-color="#4365fc"/><stop offset="0.67" stop-color="#2d88f6"/><stop offset="1" stop-color="#18a5e1"/></linearGradient><linearGradient id="r358" gradientUnits="userSpaceOnUse" x1="342.27" y1="284.84" x2="464.75" y2="250.38"><stop offset="0" stop-color="#4745e6"/><stop offset="0.33" stop-color="#4269fd"/><stop offset="0.67" stop-color="#298df3"/><stop offset="1" stop-color="#15aadc"/></linearGradient><linearGradient id="r359" gradientUnits="userSpaceOnUse" x1="342.78" y1="284.93" x2="465.25" y2="250.28"><stop offset="0" stop-color="#4746e8"/><stop offset="0.33" stop-color="#416bfe"/><stop offset="0.67" stop-color="#2691f1"/><stop offset="1" stop-color="#13afd8"/></linearGradient><linearGradient id="r360" gradientUnits="userSpaceOnUse" x1="343.28" y1="285.04" x2="465.76" y2="250.21"><stop offset="0" stop-color="#4747e8"/><stop offset="0.33" stop-color="#406dfe"/><stop offset="0.67" stop-color="#2494ee"/><stop offset="1" stop-color="#13b2d4"/></linearGradient><linearGradient id="r361" gradientUnits="userSpaceOnUse" x1="343.79" y1="285.17" x2="466.27" y2="250.17"><stop offset="0" stop-color="#4746e8"/><stop offset="0.33" stop-color="#3f6ffd"/><stop offset="0.67" stop-color="#2297ed"/><stop offset="1" stop-color="#15b4cf"/></linearGradient><linearGradient id="r362" gradientUnits="userSpaceOnUse" x1="344.3" y1="285.33" x2="466.77" y2="250.15"><stop offset="0" stop-color="#4746e7"/><stop offset="0.33" stop-color="#3e70fd"/><stop offset="0.67" stop-color="#2099ec"/><stop offset="1" stop-color="#17b6cb"/></linearGradient><linearGradient id="r363" gradientUnits="userSpaceOnUse" x1="344.8" y1="285.5" x2="467.28" y2="250.17"><stop offset="0" stop-color="#4745e6"/><stop offset="0.33" stop-color="#3e70fd"/><stop offset="0.67" stop-color="#1f9aeb"/><stop offset="1" stop-color="#18b8c7"/></linearGradient><linearGradient id="r364" gradientUnits="userSpaceOnUse" x1="345.31" y1="285.69" x2="467.78" y2="250.2"><stop offset="0" stop-color="#4643e4"/><stop offset="0.33" stop-color="#3e70fd"/><stop offset="0.67" stop-color="#1e9bea"/><stop offset="1" stop-color="#19b9c4"/></linearGradient><linearGradient id="r365" gradientUnits="userSpaceOnUse" x1="345.82" y1="285.89" x2="468.29" y2="250.25"><stop offset="0" stop-color="#4641e2"/><stop offset="0.33" stop-color="#3f6ffd"/><stop offset="0.67" stop-color="#1e9cea"/><stop offset="1" stop-color="#1abac2"/></linearGradient><linearGradient id="r366" gradientUnits="userSpaceOnUse" x1="346.32" y1="285.82" x2="468.79" y2="250.06"><stop offset="0" stop-color="#4746e8"/><stop offset="0.33" stop-color="#3a75fb"/><stop offset="0.67" stop-color="#1aa2e5"/><stop offset="1" stop-color="#1fbeb8"/></linearGradient><linearGradient id="r367" gradientUnits="userSpaceOnUse" x1="346.83" y1="285.73" x2="469.3" y2="249.85"><stop offset="0" stop-color="#474cee"/><stop offset="0.33" stop-color="#357dfa"/><stop offset="0.67" stop-color="#17a8df"/><stop offset="1" stop-color="#28c2ac"/></linearGradient><linearGradient id="r368" gradientUnits="userSpaceOnUse" x1="347.33" y1="285.66" x2="469.8" y2="249.67"><stop offset="0" stop-color="#4851f3"/><stop offset="0.33" stop-color="#3083f8"/><stop offset="0.67" stop-color="#14adda"/><stop offset="1" stop-color="#2fc5a2"/></linearGradient><linearGradient id="r369" gradientUnits="userSpaceOnUse" x1="347.84" y1="285.61" x2="470.31" y2="249.52"><stop offset="0" stop-color="#4756f6"/><stop offset="0.33" stop-color="#2c89f6"/><stop offset="0.67" stop-color="#12b2d5"/><stop offset="1" stop-color="#36c898"/></linearGradient><linearGradient id="r370" gradientUnits="userSpaceOnUse" x1="348.35" y1="285.58" x2="470.81" y2="249.41"><stop offset="0" stop-color="#465af7"/><stop offset="0.33" stop-color="#298df3"/><stop offset="0.67" stop-color="#15b4cf"/><stop offset="1" stop-color="#42c98c"/></linearGradient><linearGradient id="r371" gradientUnits="userSpaceOnUse" x1="348.85" y1="285.58" x2="471.32" y2="249.34"><stop offset="0" stop-color="#455ef9"/><stop offset="0.33" stop-color="#2691f0"/><stop offset="0.67" stop-color="#17b7ca"/><stop offset="1" stop-color="#4dca83"/></linearGradient><linearGradient id="r372" gradientUnits="userSpaceOnUse" x1="349.36" y1="285.61" x2="471.82" y2="249.32"><stop offset="0" stop-color="#4460fa"/><stop offset="0.33" stop-color="#2494ef"/><stop offset="0.67" stop-color="#19b8c6"/><stop offset="1" stop-color="#55ca7b"/></linearGradient><linearGradient id="r373" gradientUnits="userSpaceOnUse" x1="349.87" y1="285.67" x2="472.33" y2="249.34"><stop offset="0" stop-color="#4462fb"/><stop offset="0.33" stop-color="#2296ed"/><stop offset="0.67" stop-color="#1abac3"/><stop offset="1" stop-color="#5acb76"/></linearGradient><linearGradient id="r374" gradientUnits="userSpaceOnUse" x1="350.37" y1="285.77" x2="472.84" y2="249.42"><stop offset="0" stop-color="#4363fb"/><stop offset="0.33" stop-color="#2297ed"/><stop offset="0.67" stop-color="#1bbac2"/><stop offset="1" stop-color="#5dcb74"/></linearGradient><linearGradient id="r375" gradientUnits="userSpaceOnUse" x1="350.88" y1="285.9" x2="473.34" y2="249.54"><stop offset="0" stop-color="#4363fb"/><stop offset="0.33" stop-color="#2296ed"/><stop offset="0.67" stop-color="#1bbac2"/><stop offset="1" stop-color="#5ccb74"/></linearGradient><linearGradient id="r376" gradientUnits="userSpaceOnUse" x1="351.38" y1="286.07" x2="473.85" y2="249.72"><stop offset="0" stop-color="#4462fa"/><stop offset="0.33" stop-color="#2395ee"/><stop offset="0.67" stop-color="#1ab9c3"/><stop offset="1" stop-color="#5acb77"/></linearGradient><linearGradient id="r377" gradientUnits="userSpaceOnUse" x1="351.89" y1="286.28" x2="474.35" y2="249.94"><stop offset="0" stop-color="#4460fa"/><stop offset="0.33" stop-color="#2493ef"/><stop offset="0.67" stop-color="#19b8c6"/><stop offset="1" stop-color="#54ca7c"/></linearGradient><linearGradient id="r378" gradientUnits="userSpaceOnUse" x1="352.4" y1="286.51" x2="474.86" y2="250.22"><stop offset="0" stop-color="#455df8"/><stop offset="0.33" stop-color="#2790f1"/><stop offset="0.67" stop-color="#17b6ca"/><stop offset="1" stop-color="#4bca84"/></linearGradient><linearGradient id="r379" gradientUnits="userSpaceOnUse" x1="352.9" y1="286.78" x2="475.36" y2="250.54"><stop offset="0" stop-color="#4659f7"/><stop offset="0.33" stop-color="#298cf3"/><stop offset="0.67" stop-color="#14b4d0"/><stop offset="1" stop-color="#41c98e"/></linearGradient><linearGradient id="r380" gradientUnits="userSpaceOnUse" x1="353.41" y1="287.08" x2="475.87" y2="250.9"><stop offset="0" stop-color="#4754f5"/><stop offset="0.33" stop-color="#2d87f6"/><stop offset="0.67" stop-color="#12b1d6"/><stop offset="1" stop-color="#35c799"/></linearGradient><linearGradient id="r381" gradientUnits="userSpaceOnUse" x1="353.92" y1="287.4" x2="476.37" y2="251.3"><stop offset="0" stop-color="#474ff1"/><stop offset="0.33" stop-color="#3181f8"/><stop offset="0.67" stop-color="#15acdb"/><stop offset="1" stop-color="#2ec4a3"/></linearGradient><linearGradient id="r382" gradientUnits="userSpaceOnUse" x1="354.42" y1="287.74" x2="476.88" y2="251.73"><stop offset="0" stop-color="#4749eb"/><stop offset="0.33" stop-color="#367afa"/><stop offset="0.67" stop-color="#18a6e1"/><stop offset="1" stop-color="#26c1af"/></linearGradient><linearGradient id="r383" gradientUnits="userSpaceOnUse" x1="354.93" y1="288.1" x2="477.38" y2="252.2"><stop offset="0" stop-color="#4643e4"/><stop offset="0.33" stop-color="#3c73fc"/><stop offset="0.67" stop-color="#1ba0e6"/><stop offset="1" stop-color="#1ebdbb"/></linearGradient><linearGradient id="r384" gradientUnits="userSpaceOnUse" x1="355.43" y1="288.47" x2="477.89" y2="252.69"><stop offset="0" stop-color="#463ddd"/><stop offset="0.33" stop-color="#416bfe"/><stop offset="0.67" stop-color="#2098ec"/><stop offset="1" stop-color="#19b8c6"/></linearGradient><linearGradient id="r385" gradientUnits="userSpaceOnUse" x1="355.94" y1="288.57" x2="478.4" y2="252.91"><stop offset="0" stop-color="#463dde"/><stop offset="0.33" stop-color="#416afe"/><stop offset="0.67" stop-color="#2297ed"/><stop offset="1" stop-color="#17b7c9"/></linearGradient><linearGradient id="r386" gradientUnits="userSpaceOnUse" x1="356.45" y1="288.65" x2="478.9" y2="253.13"><stop offset="0" stop-color="#463fdf"/><stop offset="0.33" stop-color="#416afe"/><stop offset="0.67" stop-color="#2395ee"/><stop offset="1" stop-color="#16b5cc"/></linearGradient><linearGradient id="r387" gradientUnits="userSpaceOnUse" x1="356.95" y1="288.75" x2="479.41" y2="253.38"><stop offset="0" stop-color="#463fe0"/><stop offset="0.33" stop-color="#4269fd"/><stop offset="0.67" stop-color="#2494ef"/><stop offset="1" stop-color="#14b4d0"/></linearGradient><linearGradient id="r388" gradientUnits="userSpaceOnUse" x1="357.46" y1="288.87" x2="479.91" y2="253.65"><stop offset="0" stop-color="#4640e1"/><stop offset="0.33" stop-color="#4268fd"/><stop offset="0.67" stop-color="#2691f0"/><stop offset="1" stop-color="#12b2d5"/></linearGradient><linearGradient id="r389" gradientUnits="userSpaceOnUse" x1="357.97" y1="289" x2="480.42" y2="253.94"><stop offset="0" stop-color="#463fe0"/><stop offset="0.33" stop-color="#4267fc"/><stop offset="0.67" stop-color="#288ef2"/><stop offset="1" stop-color="#13afd9"/></linearGradient><linearGradient id="r390" gradientUnits="userSpaceOnUse" x1="358.47" y1="289.16" x2="480.92" y2="254.27"><stop offset="0" stop-color="#463fe0"/><stop offset="0.33" stop-color="#4364fb"/><stop offset="0.67" stop-color="#2b8bf4"/><stop offset="1" stop-color="#15abdc"/></linearGradient><linearGradient id="r391" gradientUnits="userSpaceOnUse" x1="358.98" y1="289.34" x2="481.43" y2="254.62"><stop offset="0" stop-color="#463dde"/><stop offset="0.33" stop-color="#4461fa"/><stop offset="0.67" stop-color="#2e87f7"/><stop offset="1" stop-color="#18a6e1"/></linearGradient><linearGradient id="r392" gradientUnits="userSpaceOnUse" x1="359.48" y1="289.54" x2="481.93" y2="255"><stop offset="0" stop-color="#463bdc"/><stop offset="0.33" stop-color="#455df9"/><stop offset="0.67" stop-color="#3281f8"/><stop offset="1" stop-color="#1ba1e6"/></linearGradient><linearGradient id="r393" gradientUnits="userSpaceOnUse" x1="359.99" y1="289.78" x2="482.44" y2="255.41"><stop offset="0" stop-color="#4539d9"/><stop offset="0.33" stop-color="#4659f7"/><stop offset="0.67" stop-color="#367bfa"/><stop offset="1" stop-color="#1f9aeb"/></linearGradient><linearGradient id="r394" gradientUnits="userSpaceOnUse" x1="360.5" y1="289.93" x2="482.94" y2="255.58"><stop offset="0" stop-color="#4538d7"/><stop offset="0.33" stop-color="#4658f7"/><stop offset="0.67" stop-color="#3779fa"/><stop offset="1" stop-color="#2099eb"/></linearGradient><linearGradient id="r395" gradientUnits="userSpaceOnUse" x1="361" y1="289.97" x2="483.45" y2="255.43"><stop offset="0" stop-color="#463adb"/><stop offset="0.33" stop-color="#455cf8"/><stop offset="0.67" stop-color="#337ff9"/><stop offset="1" stop-color="#1b9fe7"/></linearGradient><linearGradient id="r396" gradientUnits="userSpaceOnUse" x1="361.51" y1="290.03" x2="483.95" y2="255.3"><stop offset="0" stop-color="#463cdd"/><stop offset="0.33" stop-color="#445ff9"/><stop offset="0.67" stop-color="#2f85f7"/><stop offset="1" stop-color="#19a4e2"/></linearGradient><linearGradient id="r397" gradientUnits="userSpaceOnUse" x1="362.02" y1="290.12" x2="484.46" y2="255.21"><stop offset="0" stop-color="#463dde"/><stop offset="0.33" stop-color="#4462fb"/><stop offset="0.67" stop-color="#2c89f6"/><stop offset="1" stop-color="#16a9de"/></linearGradient><linearGradient id="r398" gradientUnits="userSpaceOnUse" x1="362.52" y1="290.23" x2="484.97" y2="255.14"><stop offset="0" stop-color="#463dde"/><stop offset="0.33" stop-color="#4364fb"/><stop offset="0.67" stop-color="#2a8cf4"/><stop offset="1" stop-color="#14adda"/></linearGradient><linearGradient id="r399" gradientUnits="userSpaceOnUse" x1="363.03" y1="290.37" x2="485.47" y2="255.1"><stop offset="0" stop-color="#463dde"/><stop offset="0.33" stop-color="#4365fc"/><stop offset="0.67" stop-color="#288ff2"/><stop offset="1" stop-color="#12b0d7"/></linearGradient><linearGradient id="r400" gradientUnits="userSpaceOnUse" x1="363.53" y1="290.52" x2="485.98" y2="255.09"><stop offset="0" stop-color="#463cdd"/><stop offset="0.33" stop-color="#4266fc"/><stop offset="0.67" stop-color="#2691f1"/><stop offset="1" stop-color="#12b2d4"/></linearGradient><linearGradient id="r401" gradientUnits="userSpaceOnUse" x1="364.04" y1="290.7" x2="486.48" y2="255.1"><stop offset="0" stop-color="#463bdc"/><stop offset="0.33" stop-color="#4266fc"/><stop offset="0.67" stop-color="#2592f0"/><stop offset="1" stop-color="#14b4d1"/></linearGradient><linearGradient id="r402" gradientUnits="userSpaceOnUse" x1="364.55" y1="290.88" x2="486.99" y2="255.13"><stop offset="0" stop-color="#4639da"/><stop offset="0.33" stop-color="#4366fc"/><stop offset="0.67" stop-color="#2493ef"/><stop offset="1" stop-color="#15b5ce"/></linearGradient><linearGradient id="r403" gradientUnits="userSpaceOnUse" x1="365.05" y1="291.08" x2="487.49" y2="255.19"><stop offset="0" stop-color="#4538d7"/><stop offset="0.33" stop-color="#4365fc"/><stop offset="0.67" stop-color="#2494ef"/><stop offset="1" stop-color="#16b6cc"/></linearGradient><linearGradient id="r404" gradientUnits="userSpaceOnUse" x1="365.56" y1="291" x2="488" y2="254.98"><stop offset="0" stop-color="#463dde"/><stop offset="0.33" stop-color="#406cfe"/><stop offset="0.67" stop-color="#1f9bea"/><stop offset="1" stop-color="#1bbac2"/></linearGradient><linearGradient id="r405" gradientUnits="userSpaceOnUse" x1="366.07" y1="290.91" x2="488.5" y2="254.77"><stop offset="0" stop-color="#4643e4"/><stop offset="0.33" stop-color="#3b73fc"/><stop offset="0.67" stop-color="#1aa1e5"/><stop offset="1" stop-color="#20beb7"/></linearGradient><linearGradient id="r406" gradientUnits="userSpaceOnUse" x1="366.57" y1="290.84" x2="489.01" y2="254.59"><stop offset="0" stop-color="#4748e9"/><stop offset="0.33" stop-color="#377afa"/><stop offset="0.67" stop-color="#17a7e0"/><stop offset="1" stop-color="#28c2ac"/></linearGradient><linearGradient id="r407" gradientUnits="userSpaceOnUse" x1="367.08" y1="290.79" x2="489.51" y2="254.45"><stop offset="0" stop-color="#474dee"/><stop offset="0.33" stop-color="#3380f9"/><stop offset="0.67" stop-color="#15abdc"/><stop offset="1" stop-color="#2fc5a3"/></linearGradient><linearGradient id="r408" gradientUnits="userSpaceOnUse" x1="367.58" y1="290.77" x2="490.02" y2="254.34"><stop offset="0" stop-color="#4851f3"/><stop offset="0.33" stop-color="#2f85f7"/><stop offset="0.67" stop-color="#12afd8"/><stop offset="1" stop-color="#35c79b"/></linearGradient><linearGradient id="r409" gradientUnits="userSpaceOnUse" x1="368.09" y1="290.77" x2="490.53" y2="254.27"><stop offset="0" stop-color="#4754f5"/><stop offset="0.33" stop-color="#2c89f6"/><stop offset="0.67" stop-color="#13b2d3"/><stop offset="1" stop-color="#3cc892"/></linearGradient><linearGradient id="r410" gradientUnits="userSpaceOnUse" x1="368.6" y1="290.8" x2="491.03" y2="254.25"><stop offset="0" stop-color="#4657f6"/><stop offset="0.33" stop-color="#2a8cf4"/><stop offset="0.67" stop-color="#14b4d0"/><stop offset="1" stop-color="#44c98b"/></linearGradient><linearGradient id="r411" gradientUnits="userSpaceOnUse" x1="369.1" y1="290.86" x2="491.54" y2="254.28"><stop offset="0" stop-color="#4659f7"/><stop offset="0.33" stop-color="#298df3"/><stop offset="0.67" stop-color="#16b5cd"/><stop offset="1" stop-color="#49c986"/></linearGradient><linearGradient id="r412" gradientUnits="userSpaceOnUse" x1="369.61" y1="290.96" x2="492.04" y2="254.36"><stop offset="0" stop-color="#4659f7"/><stop offset="0.33" stop-color="#288ef2"/><stop offset="0.67" stop-color="#16b6cc"/><stop offset="1" stop-color="#4bca84"/></linearGradient><linearGradient id="r413" gradientUnits="userSpaceOnUse" x1="370.12" y1="291.1" x2="492.55" y2="254.48"><stop offset="0" stop-color="#4659f7"/><stop offset="0.33" stop-color="#288ef2"/><stop offset="0.67" stop-color="#16b6cc"/><stop offset="1" stop-color="#4bca84"/></linearGradient><linearGradient id="r414" gradientUnits="userSpaceOnUse" x1="370.62" y1="291.27" x2="493.05" y2="254.66"><stop offset="0" stop-color="#4658f7"/><stop offset="0.33" stop-color="#298df3"/><stop offset="0.67" stop-color="#15b5ce"/><stop offset="1" stop-color="#48c987"/></linearGradient><linearGradient id="r415" gradientUnits="userSpaceOnUse" x1="371.13" y1="291.47" x2="493.56" y2="254.89"><stop offset="0" stop-color="#4756f6"/><stop offset="0.33" stop-color="#2b8bf4"/><stop offset="0.67" stop-color="#14b4d1"/><stop offset="1" stop-color="#42c98d"/></linearGradient><linearGradient id="r416" gradientUnits="userSpaceOnUse" x1="371.63" y1="291.71" x2="494.06" y2="255.17"><stop offset="0" stop-color="#4853f4"/><stop offset="0.33" stop-color="#2d88f6"/><stop offset="0.67" stop-color="#12b2d5"/><stop offset="1" stop-color="#3ac895"/></linearGradient><linearGradient id="r417" gradientUnits="userSpaceOnUse" x1="372.14" y1="291.98" x2="494.57" y2="255.49"><stop offset="0" stop-color="#474ff1"/><stop offset="0.33" stop-color="#3083f8"/><stop offset="0.67" stop-color="#13aed9"/><stop offset="1" stop-color="#33c69c"/></linearGradient><linearGradient id="r418" gradientUnits="userSpaceOnUse" x1="372.65" y1="292.28" x2="495.07" y2="255.85"><stop offset="0" stop-color="#474bec"/><stop offset="0.33" stop-color="#347ef9"/><stop offset="0.67" stop-color="#16aadd"/><stop offset="1" stop-color="#2dc4a5"/></linearGradient><linearGradient id="r419" gradientUnits="userSpaceOnUse" x1="373.15" y1="292.6" x2="495.58" y2="256.25"><stop offset="0" stop-color="#4745e7"/><stop offset="0.33" stop-color="#3977fb"/><stop offset="0.67" stop-color="#18a5e2"/><stop offset="1" stop-color="#26c1af"/></linearGradient><linearGradient id="r420" gradientUnits="userSpaceOnUse" x1="373.66" y1="292.94" x2="496.08" y2="256.69"><stop offset="0" stop-color="#4640e1"/><stop offset="0.33" stop-color="#3e70fd"/><stop offset="0.67" stop-color="#1b9fe7"/><stop offset="1" stop-color="#1ebdba"/></linearGradient><linearGradient id="r421" gradientUnits="userSpaceOnUse" x1="374.17" y1="293.3" x2="496.59" y2="257.15"><stop offset="0" stop-color="#4639da"/><stop offset="0.33" stop-color="#4269fd"/><stop offset="0.67" stop-color="#2198ec"/><stop offset="1" stop-color="#19b9c5"/></linearGradient><linearGradient id="r422" gradientUnits="userSpaceOnUse" x1="374.67" y1="293.67" x2="497.1" y2="257.64"><stop offset="0" stop-color="#4434ce"/><stop offset="0.33" stop-color="#4461fa"/><stop offset="0.67" stop-color="#2790f1"/><stop offset="1" stop-color="#14b4d0"/></linearGradient><linearGradient id="r423" gradientUnits="userSpaceOnUse" x1="375.18" y1="293.76" x2="497.6" y2="257.86"><stop offset="0" stop-color="#4435d0"/><stop offset="0.33" stop-color="#4461fa"/><stop offset="0.67" stop-color="#288ff2"/><stop offset="1" stop-color="#13b2d3"/></linearGradient><linearGradient id="r424" gradientUnits="userSpaceOnUse" x1="375.68" y1="293.84" x2="498.11" y2="258.08"><stop offset="0" stop-color="#4436d2"/><stop offset="0.33" stop-color="#4461fa"/><stop offset="0.67" stop-color="#298df3"/><stop offset="1" stop-color="#12b1d6"/></linearGradient><linearGradient id="r425" gradientUnits="userSpaceOnUse" x1="376.19" y1="293.94" x2="498.61" y2="258.32"><stop offset="0" stop-color="#4537d4"/><stop offset="0.33" stop-color="#4460fa"/><stop offset="0.67" stop-color="#2a8cf4"/><stop offset="1" stop-color="#13afd8"/></linearGradient><linearGradient id="r426" gradientUnits="userSpaceOnUse" x1="376.7" y1="294.06" x2="499.12" y2="258.6"><stop offset="0" stop-color="#4537d4"/><stop offset="0.33" stop-color="#445ff9"/><stop offset="0.67" stop-color="#2c89f5"/><stop offset="1" stop-color="#15acdb"/></linearGradient><linearGradient id="r427" gradientUnits="userSpaceOnUse" x1="377.2" y1="294.19" x2="499.62" y2="258.89"><stop offset="0" stop-color="#4537d4"/><stop offset="0.33" stop-color="#455df9"/><stop offset="0.67" stop-color="#2e86f7"/><stop offset="1" stop-color="#17a8df"/></linearGradient><linearGradient id="r428" gradientUnits="userSpaceOnUse" x1="377.71" y1="294.35" x2="500.13" y2="259.22"><stop offset="0" stop-color="#4436d2"/><stop offset="0.33" stop-color="#455bf8"/><stop offset="0.67" stop-color="#3182f8"/><stop offset="1" stop-color="#19a4e3"/></linearGradient><linearGradient id="r429" gradientUnits="userSpaceOnUse" x1="378.22" y1="294.53" x2="500.63" y2="259.57"><stop offset="0" stop-color="#4435cf"/><stop offset="0.33" stop-color="#4658f6"/><stop offset="0.67" stop-color="#347df9"/><stop offset="1" stop-color="#1b9fe7"/></linearGradient><linearGradient id="r430" gradientUnits="userSpaceOnUse" x1="378.72" y1="294.74" x2="501.14" y2="259.95"><stop offset="0" stop-color="#4333cb"/><stop offset="0.33" stop-color="#4754f5"/><stop offset="0.67" stop-color="#3877fb"/><stop offset="1" stop-color="#2099eb"/></linearGradient><linearGradient id="r431" gradientUnits="userSpaceOnUse" x1="379.23" y1="294.97" x2="501.64" y2="260.36"><stop offset="0" stop-color="#4231c6"/><stop offset="0.33" stop-color="#474ff1"/><stop offset="0.67" stop-color="#3d71fd"/><stop offset="1" stop-color="#2592f0"/></linearGradient><linearGradient id="r432" gradientUnits="userSpaceOnUse" x1="379.73" y1="295.12" x2="502.15" y2="260.51"><stop offset="0" stop-color="#4231c5"/><stop offset="0.33" stop-color="#474ff1"/><stop offset="0.67" stop-color="#3d70fd"/><stop offset="1" stop-color="#2692f0"/></linearGradient><linearGradient id="r433" gradientUnits="userSpaceOnUse" x1="380.24" y1="295.15" x2="502.66" y2="260.35"><stop offset="0" stop-color="#4333c9"/><stop offset="0.33" stop-color="#4753f5"/><stop offset="0.67" stop-color="#3976fb"/><stop offset="1" stop-color="#2098ec"/></linearGradient><linearGradient id="r434" gradientUnits="userSpaceOnUse" x1="380.75" y1="295.22" x2="503.16" y2="260.23"><stop offset="0" stop-color="#4434cd"/><stop offset="0.33" stop-color="#4756f6"/><stop offset="0.67" stop-color="#367cfa"/><stop offset="1" stop-color="#1c9ee8"/></linearGradient><linearGradient id="r435" gradientUnits="userSpaceOnUse" x1="381.25" y1="295.31" x2="503.67" y2="260.14"><stop offset="0" stop-color="#4435cf"/><stop offset="0.33" stop-color="#4659f7"/><stop offset="0.67" stop-color="#3280f9"/><stop offset="1" stop-color="#1aa3e4"/></linearGradient><linearGradient id="r436" gradientUnits="userSpaceOnUse" x1="381.76" y1="295.42" x2="504.17" y2="260.07"><stop offset="0" stop-color="#4435cf"/><stop offset="0.33" stop-color="#455bf8"/><stop offset="0.67" stop-color="#3084f8"/><stop offset="1" stop-color="#17a6e0"/></linearGradient><linearGradient id="r437" gradientUnits="userSpaceOnUse" x1="382.27" y1="295.56" x2="504.68" y2="260.03"><stop offset="0" stop-color="#4435cf"/><stop offset="0.33" stop-color="#455cf8"/><stop offset="0.67" stop-color="#2e87f7"/><stop offset="1" stop-color="#16aadd"/></linearGradient><linearGradient id="r438" gradientUnits="userSpaceOnUse" x1="382.77" y1="295.72" x2="505.18" y2="260.02"><stop offset="0" stop-color="#4434cd"/><stop offset="0.33" stop-color="#455df8"/><stop offset="0.67" stop-color="#2c89f6"/><stop offset="1" stop-color="#14acdb"/></linearGradient><linearGradient id="r439" gradientUnits="userSpaceOnUse" x1="383.28" y1="295.89" x2="505.69" y2="260.03"><stop offset="0" stop-color="#4333cb"/><stop offset="0.33" stop-color="#455df8"/><stop offset="0.67" stop-color="#2b8af5"/><stop offset="1" stop-color="#13aed9"/></linearGradient><linearGradient id="r440" gradientUnits="userSpaceOnUse" x1="383.78" y1="296.08" x2="506.19" y2="260.07"><stop offset="0" stop-color="#4332c8"/><stop offset="0.33" stop-color="#455df8"/><stop offset="0.67" stop-color="#2a8bf4"/><stop offset="1" stop-color="#12b0d7"/></linearGradient><linearGradient id="r441" gradientUnits="userSpaceOnUse" x1="384.29" y1="296.28" x2="506.7" y2="260.13"><stop offset="0" stop-color="#4231c4"/><stop offset="0.33" stop-color="#455cf8"/><stop offset="0.67" stop-color="#2a8bf4"/><stop offset="1" stop-color="#12b1d6"/></linearGradient><linearGradient id="r442" gradientUnits="userSpaceOnUse" x1="384.8" y1="296.18" x2="507.2" y2="259.9"><stop offset="0" stop-color="#4435d0"/><stop offset="0.33" stop-color="#4363fb"/><stop offset="0.67" stop-color="#2493ef"/><stop offset="1" stop-color="#17b6cb"/></linearGradient><linearGradient id="r443" gradientUnits="userSpaceOnUse" x1="385.3" y1="296.1" x2="507.71" y2="259.69"><stop offset="0" stop-color="#463ada"/><stop offset="0.33" stop-color="#416afe"/><stop offset="0.67" stop-color="#1f9aeb"/><stop offset="1" stop-color="#1bbbc1"/></linearGradient><linearGradient id="r444" gradientUnits="userSpaceOnUse" x1="385.81" y1="296.03" x2="508.21" y2="259.52"><stop offset="0" stop-color="#463fe0"/><stop offset="0.33" stop-color="#3d71fd"/><stop offset="0.67" stop-color="#1ba0e6"/><stop offset="1" stop-color="#20beb7"/></linearGradient><linearGradient id="r445" gradientUnits="userSpaceOnUse" x1="386.32" y1="295.98" x2="508.72" y2="259.37"><stop offset="0" stop-color="#4644e5"/><stop offset="0.33" stop-color="#3976fb"/><stop offset="0.67" stop-color="#18a5e2"/><stop offset="1" stop-color="#27c1ae"/></linearGradient><linearGradient id="r446" gradientUnits="userSpaceOnUse" x1="386.82" y1="295.95" x2="509.23" y2="259.27"><stop offset="0" stop-color="#4748e9"/><stop offset="0.33" stop-color="#367bfa"/><stop offset="0.67" stop-color="#16a9de"/><stop offset="1" stop-color="#2dc4a5"/></linearGradient><linearGradient id="r447" gradientUnits="userSpaceOnUse" x1="387.33" y1="295.95" x2="509.73" y2="259.2"><stop offset="0" stop-color="#474bec"/><stop offset="0.33" stop-color="#3380f9"/><stop offset="0.67" stop-color="#14acdb"/><stop offset="1" stop-color="#32c69f"/></linearGradient><linearGradient id="r448" gradientUnits="userSpaceOnUse" x1="387.83" y1="295.99" x2="510.24" y2="259.19"><stop offset="0" stop-color="#474def"/><stop offset="0.33" stop-color="#3183f8"/><stop offset="0.67" stop-color="#13afd8"/><stop offset="1" stop-color="#35c79a"/></linearGradient><linearGradient id="r449" gradientUnits="userSpaceOnUse" x1="388.34" y1="296.05" x2="510.74" y2="259.21"><stop offset="0" stop-color="#474ff1"/><stop offset="0.33" stop-color="#2f85f7"/><stop offset="0.67" stop-color="#12b1d7"/><stop offset="1" stop-color="#38c896"/></linearGradient><linearGradient id="r450" gradientUnits="userSpaceOnUse" x1="388.85" y1="296.16" x2="511.25" y2="259.29"><stop offset="0" stop-color="#4750f2"/><stop offset="0.33" stop-color="#2e86f7"/><stop offset="0.67" stop-color="#12b1d6"/><stop offset="1" stop-color="#3ac894"/></linearGradient><linearGradient id="cb451" x1="0" y1="0" x2="0" y2="1"><stop offset="0" stop-color="#f9fb15"/><stop offset="0.06" stop-color="#f5e124"/><stop offset="0.12" stop-color="#fcca34"/><stop offset="0.19" stop-color="#fbb83b"/><stop offset="0.25" stop-color="#d0bf3a"/><stop offset="0.31" stop-color="#93c94a"/><stop offset="0.38" stop-color="#5ecb72"/><stop offset="0.44" stop-color="#34c79b"/><stop offset="0.5" stop-color="#1fbeb9"/><stop offset="0.56" stop-color="#13b3d2"/><stop offset="0.62" stop-color="#19a3e4"/><stop offset="0.69" stop-color="#2790f1"/><stop offset="0.75" stop-color="#3779fa"/><stop offset="0.81" stop-color="#4362fb"/><stop offset="0.88" stop-color="#474cee"/><stop offset="0.94" stop-color="#4537d4"/><stop offset="1" stop-color="#3e26a8"/></linearGradient></defs><rect width="550" height="349" fill="#fff"/><rect x="19.7" y="5.2" width="10.8" height="166.3" fill="url(#cb1)" stroke="#5a5a66" stroke-width="0.5"/><line x1="19.7" y1="16.44" x2="21" y2="16.44" stroke="#262626" stroke-width="0.6" /><text x="17.3" y="19.04" font-size="6.0" text-anchor="end" fill="#262626" >66.7</text><line x1="19.7" y1="35.82" x2="21" y2="35.82" stroke="#262626" stroke-width="0.6" /><text x="17.3" y="38.42" font-size="6.0" text-anchor="end" fill="#262626" >66.6</text><line x1="19.7" y1="55.21" x2="21" y2="55.21" stroke="#262626" stroke-width="0.6" /><text x="17.3" y="57.81" font-size="6.0" text-anchor="end" fill="#262626" >66.5</text><line x1="19.7" y1="74.59" x2="21" y2="74.59" stroke="#262626" stroke-width="0.6" /><text x="17.3" y="77.19" font-size="6.0" text-anchor="end" fill="#262626" >66.4</text><line x1="19.7" y1="93.97" x2="21" y2="93.97" stroke="#262626" stroke-width="0.6" /><text x="17.3" y="96.57" font-size="6.0" text-anchor="end" fill="#262626" >66.3</text><line x1="19.7" y1="113.35" x2="21" y2="113.35" stroke="#262626" stroke-width="0.6" /><text x="17.3" y="115.95" font-size="6.0" text-anchor="end" fill="#262626" >66.2</text><line x1="19.7" y1="132.74" x2="21" y2="132.74" stroke="#262626" stroke-width="0.6" /><text x="17.3" y="135.34" font-size="6.0" text-anchor="end" fill="#262626" >66.1</text><line x1="19.7" y1="152.12" x2="21" y2="152.12" stroke="#262626" stroke-width="0.6" /><text x="17.3" y="154.72" font-size="6.0" text-anchor="end" fill="#262626" >66</text><line x1="19.7" y1="171.5" x2="21" y2="171.5" stroke="#262626" stroke-width="0.6" /><text x="17.3" y="174.1" font-size="6.0" text-anchor="end" fill="#262626" >65.9</text><rect x="38.65" y="5.65" width="17.7" height="17.4" fill="#fff" stroke="#8c8c8c" stroke-width="0.9"/><text x="47.5" y="19.6" font-size="15.5" font-weight="bold" text-anchor="middle" fill="#111" style="font-family:Liberation Serif,serif;stroke:none">a</text><g transform="matrix(45.1,-19.4,-131.2,-87.6,181.3,142)"><rect y="0.00000" width="1" height="0.05333" fill="url(#s2)"/><rect y="0.03333" width="1" height="0.05333" fill="url(#s3)"/><rect y="0.06667" width="1" height="0.05333" fill="url(#s4)"/><rect y="0.10000" width="1" height="0.05333" fill="url(#s5)"/><rect y="0.13333" width="1" height="0.05333" fill="url(#s6)"/><rect y="0.16667" width="1" height="0.05333" fill="url(#s7)"/><rect y="0.20000" width="1" height="0.05333" fill="url(#s8)"/><rect y="0.23333" width="1" height="0.05333" fill="url(#s9)"/><rect y="0.26667" width="1" height="0.05333" fill="url(#s10)"/><rect y="0.30000" width="1" height="0.05333" fill="url(#s11)"/><rect y="0.33333" width="1" height="0.05333" fill="url(#s12)"/><rect y="0.36667" width="1" height="0.05333" fill="url(#s13)"/><rect y="0.40000" width="1" height="0.05333" fill="url(#s14)"/><rect y="0.43333" width="1" height="0.05333" fill="url(#s15)"/><rect y="0.46667" width="1" height="0.05333" fill="url(#s16)"/><rect y="0.50000" width="1" height="0.05333" fill="url(#s17)"/><rect y="0.53333" width="1" height="0.05333" fill="url(#s18)"/><rect y="0.56667" width="1" height="0.05333" fill="url(#s19)"/><rect y="0.60000" width="1" height="0.05333" fill="url(#s20)"/><rect y="0.63333" width="1" height="0.05333" fill="url(#s21)"/><rect y="0.66667" width="1" height="0.05333" fill="url(#s22)"/><rect y="0.70000" width="1" height="0.05333" fill="url(#s23)"/><rect y="0.73333" width="1" height="0.05333" fill="url(#s24)"/><rect y="0.76667" width="1" height="0.05333" fill="url(#s25)"/><rect y="0.80000" width="1" height="0.05333" fill="url(#s26)"/><rect y="0.83333" width="1" height="0.05333" fill="url(#s27)"/><rect y="0.86667" width="1" height="0.05333" fill="url(#s28)"/><rect y="0.90000" width="1" height="0.05333" fill="url(#s29)"/><rect y="0.93333" width="1" height="0.05333" fill="url(#s30)"/><rect y="0.96667" width="1" height="0.03333" fill="url(#s31)"/></g><path d="M190.8 137.7L194.1 136.3M197.3 135.0L202.2 132.8M214.7 127.4L222.9 123.9M225.5 122.8L226.2 122.5M180.3 141.2L189.5 137.2M208.1 129.2L218.7 124.7M186.8 138.0L194.9 134.6M197.2 133.6L203.2 131.0M201.6 130.5L211.5 126.2M189.4 135.4L197.4 131.9M218.1 123.0L221.5 121.6M222.5 121.1L223.5 120.7M177.8 139.6L188.0 135.2M191.5 133.7L201.9 129.2M177.8 138.6L186.7 134.8M188.4 134.0L199.5 129.3M201.8 128.2L204.6 127.0M218.0 121.3L221.9 119.6M182.7 135.5L187.6 133.4M190.1 132.3L195.6 130.0M197.3 129.3L203.2 126.7M177.4 137.4L182.2 135.4M184.3 134.5L193.0 130.8M202.4 126.7L212.4 122.4M175.2 137.6L182.4 134.5M185.5 133.2L195.4 128.9M209.8 122.8L215.5 120.3M217.1 119.6L220.0 118.3M188.6 131.0L199.8 126.2M203.3 124.7L213.9 120.1M174.3 136.5L178.9 134.5M174.8 135.4L182.8 131.9M184.4 131.3L194.5 126.9M197.5 125.6L203.2 123.2M205.6 122.2L215.3 118.0M173.5 134.8L183.3 130.6M185.9 129.5L196.0 125.1M197.6 124.4L202.6 122.3M212.3 118.1L215.5 116.7M172.7 135.0L178.1 132.7M180.0 131.9L188.2 128.3M190.1 127.5L194.4 125.7M205.1 121.1L208.5 119.6M171.8 134.1L178.2 131.4M180.4 130.4L189.2 126.6M192.0 125.4L198.6 122.6M201.0 121.6L209.6 117.8M172.0 133.6L181.5 129.5M203.1 120.2L212.1 116.3M213.3 115.8L215.1 115.1M169.1 133.8L172.6 132.3M175.9 130.8L180.1 129.0M202.1 119.6L211.7 115.5M177.2 129.7L180.4 128.3M182.8 127.3L192.6 123.1M201.8 119.1L207.9 116.5M209.9 115.7L213.6 114.1M189.0 123.9L196.1 120.9M198.7 119.7L209.1 115.2M168.8 131.9L173.1 130.0M174.5 129.4L182.3 126.1M194.1 121.0L202.9 117.2M206.1 115.8L212.3 113.2M167.9 131.8L173.9 129.3M182.5 125.6L193.7 120.7M206.0 115.4L211.9 112.9M177.6 126.3L182.3 124.3M196.8 118.0L201.6 115.9M165.4 130.7L175.5 126.4M177.5 125.5L186.5 121.6M187.6 121.2L197.5 116.9M208.0 112.4L209.9 111.6M165.9 130.3L176.8 125.6M179.2 124.6L182.9 123.0M178.9 123.9L182.5 122.3M165.4 129.1L169.3 127.4M172.1 126.1L180.0 122.8M182.6 121.6L189.2 118.8M206.1 111.5L208.4 110.6M170.4 126.2L176.0 123.8M178.4 122.8L187.7 118.7M190.9 117.4L194.6 115.8M202.3 112.5L206.6 110.6M163.3 128.0L172.4 124.0M173.7 123.5L179.8 120.8M182.2 119.8L189.7 116.6M191.3 115.9L200.7 111.9M200.9 111.2L206.0 109.0M186.7 116.5L189.9 115.2M191.4 114.5L194.8 113.1M172.4 122.2L181.5 118.3M197.3 111.5L204.9 108.2M159.3 127.2L163.8 125.2M166.0 124.3L174.7 120.5M176.8 119.7L185.0 116.1M187.2 115.2L196.4 111.2M159.5 126.1L167.3 122.7M174.0 119.9L180.6 117.0M182.1 116.4L186.2 114.6M187.6 114.0L190.5 112.7M191.9 112.1L198.8 109.2M199.8 108.8L203.4 107.2M158.7 125.9L164.8 123.3M168.3 121.8L172.9 119.8M181.0 116.3L184.8 114.7M194.9 110.3L202.9 106.9M158.8 125.0L166.9 121.5M179.1 116.2L181.8 115.0M183.0 114.5L187.1 112.8M198.0 108.1L202.0 106.3M157.9 124.1L160.9 122.8M163.5 121.7L174.3 117.0M176.0 116.3L186.0 112.0M156.4 124.0L167.0 119.5M175.9 115.6L181.0 113.5M193.7 108.0L200.3 105.2M198.4 105.8L200.1 105.1M153.9 123.5L161.5 120.2M162.6 119.7L170.9 116.2M178.5 112.9L181.3 111.7M184.8 110.2L189.4 108.2M153.7 123.1L158.0 121.3M161.1 120.0L164.8 118.4M173.8 114.5L180.5 111.6M194.6 105.5L198.4 103.9M152.9 122.8L162.8 118.5M165.9 117.2L170.4 115.3M172.5 114.4L181.5 110.5M183.3 109.7L190.2 106.8M192.6 105.7L197.8 103.5M159.9 118.9L166.3 116.2M187.5 107.0L197.0 103.0M153.0 120.9L163.8 116.2M151.0 121.1L157.4 118.3M160.3 117.1L169.5 113.2M170.6 112.7L175.9 110.4M150.3 120.9L155.7 118.6M158.0 117.6L165.4 114.4M168.6 113.1L173.7 110.9M177.0 109.4L186.7 105.3M188.2 104.6L195.1 101.7M150.4 120.0L154.5 118.3M156.0 117.6L165.3 113.6M179.2 107.6L183.5 105.8M185.6 104.9L191.2 102.5M193.6 101.4L194.3 101.1M149.2 119.6L154.2 117.4M167.7 111.6L177.3 107.5M190.1 102.0L193.4 100.6M181.5 105.4L188.6 102.3M156.7 115.1L167.6 110.4M169.4 109.7L176.6 106.6M192.1 99.9L192.3 99.8M157.0 114.2L165.5 110.5M148.0 117.4L158.8 112.8M160.8 112.0L165.9 109.7M167.5 109.1L178.6 104.3M180.1 103.6L184.5 101.7M151.1 115.0L156.1 112.8M157.7 112.1L165.1 108.9M166.6 108.3L177.5 103.6M187.8 99.2L189.9 98.2M157.6 111.4L163.6 108.8M165.6 108.0L176.8 103.2M178.0 102.7L182.0 101.0M183.8 100.2L189.3 97.8M145.6 115.7L156.7 110.9M158.6 110.1L169.4 105.5M172.2 104.3L177.6 101.9M144.2 115.9L150.7 113.1M153.9 111.8L158.3 109.9M161.7 108.4L171.7 104.1M175.2 102.6L185.1 98.3M186.7 97.6L188.1 97.0M144.3 115.1L148.0 113.6M171.9 103.3L179.2 100.1M180.5 99.6L187.4 96.6M172.4 102.3L176.2 100.7M186.4 96.3L186.8 96.1M142.9 114.2L154.0 109.4M156.1 108.5L164.1 105.0M177.2 99.4L186.0 95.6M162.3 105.2L167.6 102.9M178.7 98.1L185.4 95.2M141.0 113.6L144.9 111.9M146.7 111.1L151.8 108.9M154.2 107.9L164.8 103.3M154.7 106.5L158.2 105.0M164.2 102.4L169.2 100.3M180.6 95.4L183.7 94.1M148.3 108.7L151.5 107.3M163.2 102.3L168.8 99.9M171.2 98.8L181.5 94.4M144.4 110.0L152.1 106.8M170.5 98.8L177.7 95.7M179.5 95.0L182.8 93.5M150.0 106.5L159.0 102.6M160.1 102.1L166.5 99.4M167.9 98.8L178.1 94.4M181.2 93.0L181.8 92.8M136.6 111.6L140.9 109.8M152.3 104.9L155.5 103.5M157.5 102.7L161.7 100.9M163.3 100.2L172.0 96.4M173.2 95.9L177.8 93.9M142.8 108.0L150.1 104.9M152.7 103.7L159.2 100.9M162.3 99.6L172.3 95.3M136.7 110.2L147.9 105.4M151.5 103.9L158.3 100.9M169.3 96.2L172.9 94.7M176.1 93.3L180.0 91.6M169.3 95.3L178.4 91.3M134.8 109.2L140.6 106.7M150.3 102.5L156.3 99.9M165.5 96.0L171.6 93.4M173.6 92.5L178.3 90.5M133.1 109.3L140.1 106.3M151.9 101.2L159.0 98.2M160.1 97.7L165.1 95.5M174.5 91.5L177.7 90.1M133.4 108.6L140.5 105.6M156.1 98.9L166.5 94.4M169.3 93.2L177.2 89.8M131.6 108.0L140.9 104.1M143.6 102.9L148.6 100.7M162.9 94.6L171.5 90.9M174.6 89.6L176.0 89.0M136.4 105.7L145.6 101.7M160.9 95.1L164.0 93.8M166.9 92.5L175.7 88.8M149.3 98.9L153.3 97.2M155.9 96.1L166.2 91.6M130.9 106.6L133.6 105.4M136.4 104.2L140.6 102.5M149.6 98.6L159.2 94.5M170.6 89.6L174.4 87.9M129.1 106.6L135.4 103.9M137.1 103.1L144.7 99.8M147.3 98.8L152.5 96.5M153.4 96.1L159.0 93.7M140.1 101.0L148.1 97.6M149.4 97.0L160.6 92.2M162.5 91.4L172.9 86.9M127.7 105.6L138.3 101.0M139.2 100.6L146.0 97.7M160.0 91.7L168.5 88.0M170.7 87.1L172.2 86.4M126.5 105.2L137.5 100.5M141.0 99.0L145.3 97.1M157.8 91.7L165.9 88.3M127.5 104.4L138.2 99.9M141.0 98.6L148.5 95.4M150.7 94.5L158.5 91.1M160.3 90.3L169.3 86.5M137.8 99.1L144.6 96.2M146.4 95.4L149.6 94.0M152.1 93.0L160.0 89.6M161.4 89.0L164.9 87.4M138.9 97.8L143.4 95.9M161.4 88.1L167.4 85.6M169.5 84.7L169.5 84.6M123.7 103.0L133.5 98.8M166.8 84.5L168.3 83.8M123.7 102.2L131.2 99.0M152.4 89.8L157.3 87.7M121.8 102.0L128.2 99.2M131.5 97.8L136.5 95.7M146.1 91.5L154.5 87.9M157.9 86.5L164.0 83.8M121.4 101.4L125.2 99.7M126.1 99.3L136.3 95.0M137.7 94.4L143.2 92.0M144.9 91.2L152.3 88.1M154.1 87.3L159.3 85.1M120.8 101.2L130.8 96.9M141.8 92.2L147.6 89.7M148.5 89.3L155.9 86.1M158.1 85.2L164.7 82.3M127.0 97.8L136.5 93.7M159.4 83.8L164.8 81.5M132.8 94.3L143.0 89.9M144.1 89.4L154.4 85.0M155.6 84.5L163.9 80.9M118.9 99.8L127.8 96.0M130.0 95.0L140.8 90.4M155.6 84.0L163.5 80.6M119.6 98.4L124.2 96.4M125.4 95.9L135.4 91.6M137.7 90.6L146.1 87.0M160.2 80.9L162.5 79.9M135.2 91.0L140.4 88.8M143.8 87.3L152.8 83.4M154.8 82.6L161.9 79.5M117.1 98.3L125.0 94.9M128.4 93.4L136.7 89.8M149.5 84.3L156.7 81.3M115.3 97.7L122.1 94.8M125.0 93.6L129.4 91.7M130.7 91.1L138.2 87.9M139.1 87.5L143.3 85.7M146.8 84.2L153.4 81.3M116.0 97.3L122.9 94.3M125.9 93.0L131.4 90.7M134.0 89.6L141.7 86.3M144.9 84.9L152.1 81.8M153.1 81.3L160.1 78.3M114.1 97.1L117.1 95.8M118.3 95.3L128.3 91.0M139.7 86.1L148.8 82.2M152.4 80.6L156.4 78.9M114.5 96.3L123.2 92.6M148.9 81.5L154.3 79.2M155.7 78.6L158.6 77.3M127.0 90.0L130.1 88.7M153.5 78.6L157.8 76.8M119.8 92.0L130.1 87.6M132.7 86.5L139.6 83.5M126.1 89.0L132.2 86.4M141.8 82.3L151.6 78.1M111.5 94.3L119.7 90.8M135.4 84.0L140.5 81.8M154.6 75.7L155.6 75.3M122.6 88.7L126.3 87.1M129.7 85.7L138.1 82.1M146.8 78.3L154.5 75.0M127.3 86.3L134.5 83.2M148.1 77.4L154.5 74.6M124.8 86.3L135.2 81.9M136.3 81.4L147.3 76.7M148.9 76.0L153.6 74.0M136.8 80.1L139.6 78.9M141.1 78.3L150.6 74.2M151.9 73.6L152.6 73.3M109.1 91.6L118.9 87.4M121.9 86.1L128.1 83.4M129.2 83.0L137.9 79.2M139.6 78.5L149.5 74.2M151.6 73.3L152.2 73.1M113.1 89.1L123.4 84.6M136.6 79.0L139.9 77.6M142.5 76.5L145.4 75.2M107.6 90.6L116.3 86.9M118.4 86.0L121.3 84.8M122.9 84.1L129.5 81.2M125.5 82.4L130.2 80.4M137.6 77.2L148.6 72.5M114.7 85.9L124.5 81.7M127.8 80.2L135.6 76.9M139.0 75.4L144.4 73.1M146.1 72.4L149.0 71.1M117.6 83.8L123.6 81.2M124.9 80.6L132.3 77.4M135.2 76.2L140.6 73.8M143.0 72.8L148.4 70.5M138.1 74.4L142.4 72.5M110.4 85.5L121.1 80.9M122.5 80.3L133.6 75.5M136.4 74.3L144.2 70.9M113.7 83.3L124.0 78.9M127.5 77.4L135.4 73.9M137.6 73.0L141.1 71.5M110.6 84.4L119.7 80.5M121.3 79.8L130.8 75.7M133.3 74.6L137.6 72.8M101.6 86.9L105.7 85.1M109.2 83.6L115.4 81.0M116.8 80.4L125.5 76.6M127.4 75.8L135.9 72.1M134.9 72.0L144.5 67.9M98.7 86.8L108.7 82.5M112.1 81.1L122.5 76.6M129.7 73.5L133.0 72.1M136.2 70.7L141.0 68.6M143.2 67.7L143.8 67.4M99.3 86.1L109.4 81.7M110.7 81.1L120.6 76.9M123.9 75.4L133.7 71.3M141.2 68.0L143.3 67.1M107.2 81.5L114.2 78.5M141.4 66.8L142.2 66.4M123.4 74.3L126.5 73.0M129.9 71.5L135.4 69.1M104.2 81.3L111.1 78.3M125.0 72.3L133.5 68.7M95.7 84.1L106.1 79.6M108.2 78.7L112.0 77.1M114.4 76.1L120.2 73.6M121.7 73.0L127.0 70.6M130.4 69.2L133.8 67.8M137.0 66.4L140.1 65.0M95.2 84.2L98.1 83.0M101.3 81.6L106.4 79.4M109.5 78.0L112.9 76.6M115.6 75.4L119.0 74.0M138.1 65.7L140.0 64.9M94.6 83.4L102.9 79.8M106.3 78.4L112.0 75.9M113.1 75.4L116.9 73.8M120.2 72.4L126.4 69.7M94.5 82.8L99.4 80.7M108.2 76.9L114.7 74.1M117.3 73.0L125.9 69.3M129.1 67.9L135.7 65.1M93.2 82.3L96.1 81.0M98.2 80.1L104.1 77.6M121.1 70.3L124.5 68.8M135.4 64.1L137.5 63.2M92.9 82.1L101.1 78.6M128.2 66.9L135.3 63.8M92.0 81.7L99.2 78.6M101.1 77.8L106.5 75.5M108.8 74.5L116.6 71.1M91.7 80.6L102.8 75.9M117.1 69.7L122.4 67.4M124.8 66.4L132.5 63.1M99.8 76.3L109.5 72.2M112.8 70.8L120.9 67.3M122.3 66.7L130.1 63.3M90.8 79.8L98.7 76.4M100.4 75.6L107.1 72.8M108.7 72.1L118.5 67.9M119.6 67.4L129.6 63.1M88.2 79.9L98.2 75.6M108.0 71.4L115.9 68.0M119.1 66.6L128.4 62.6M131.4 61.3L133.3 60.5M103.5 72.4L113.0 68.3M121.7 64.6L126.9 62.3M88.5 78.2L92.3 76.5M121.1 64.1L127.5 61.4M129.2 60.6L131.9 59.5M87.1 78.5L90.6 77.0M101.7 72.2L106.6 70.0M125.8 61.8L131.6 59.3M93.4 75.0L97.4 73.2M99.9 72.2L105.8 69.6M97.6 72.6L104.6 69.6M125.7 60.5L130.4 58.5M103.1 68.8L107.5 66.9M110.4 65.7L119.5 61.7M120.6 61.3L126.0 58.9M128.9 57.7L129.1 57.6M85.6 76.0L92.1 73.2M94.8 72.1L101.0 69.4M104.4 67.9L113.6 64.0M115.8 63.0L123.8 59.6M104.4 66.7L114.0 62.6M84.2 75.1L95.1 70.5M115.8 61.6L119.8 59.8M83.7 74.4L87.2 72.9M88.6 72.3L97.6 68.5M81.8 74.2L85.4 72.7M88.9 71.2L94.5 68.8M108.5 62.7L115.5 59.7M117.0 59.1L121.0 57.3M80.3 74.5L87.1 71.6M116.3 59.0L125.0 55.2M81.1 73.0L86.9 70.4M88.6 69.7L97.8 65.8M108.8 61.0L113.6 59.0M116.2 57.8L121.2 55.7M123.8 54.6L124.2 54.4M88.4 69.4L95.5 66.3M96.9 65.7L103.5 62.9M118.3 56.5L122.9 54.5M84.1 70.8L90.5 68.0M108.4 60.3L116.0 57.1M117.3 56.5L122.7 54.2M91.3 67.0L97.0 64.5M99.4 63.5L108.8 59.4M120.4 54.5L122.8 53.4M78.3 71.7L82.2 70.0M84.8 68.9L88.3 67.4M108.1 58.9L115.9 55.5M85.9 67.3L93.3 64.1M101.4 60.7L108.7 57.5M76.1 70.6L83.1 67.6M86.3 66.2L91.0 64.2M92.7 63.4L97.4 61.4M99.1 60.7L106.4 57.5M76.1 70.0L85.1 66.1M97.5 60.8L105.9 57.1M80.9 67.2L85.5 65.2M87.1 64.5L97.1 60.2M100.2 58.9L111.2 54.1M74.4 69.6L80.3 67.0M83.1 65.9L91.2 62.4M81.9 65.5L87.2 63.2M88.3 62.7L96.1 59.4M99.1 58.1L109.2 53.7M92.5 60.3L101.8 56.3M111.7 52.0L117.1 49.7M72.1 68.1L79.6 64.9M82.5 63.6L86.1 62.1M107.2 53.0L112.4 50.8M114.7 49.7L116.3 49.1M72.2 67.4L77.1 65.2M86.9 61.0L97.2 56.6M99.5 55.6L104.4 53.5M107.9 52.0L112.4 50.0M91.1 58.3L95.8 56.3M103.9 52.8L107.9 51.1M110.4 50.0L113.9 48.5M78.2 63.2L85.7 60.0M87.5 59.2L90.3 58.0M91.6 57.4L96.4 55.3M97.7 54.8L102.9 52.6M68.3 66.3L76.7 62.7M90.1 56.9L93.9 55.3M97.0 54.0L106.7 49.8M69.3 65.6L79.0 61.4M76.1 62.1L86.2 57.8M87.8 57.1L92.5 55.1M95.6 53.8L101.4 51.2M67.1 64.7L73.2 62.0M76.7 60.5L87.5 55.9M95.6 52.4L101.9 49.7M104.0 48.8L111.2 45.7M66.7 64.3L69.5 63.1M71.4 62.3L80.2 58.5M81.2 58.1L85.9 56.0M95.3 52.0L99.5 50.2M65.0 64.2L75.7 59.7M77.2 59.0L81.4 57.2M84.1 56.0L89.5 53.7M64.8 63.4L75.8 58.7M90.9 52.2L94.8 50.6M96.0 50.0L106.3 45.6M108.5 44.7L109.2 44.4M77.7 57.1L86.9 53.2M88.9 52.3L98.8 48.1M64.2 62.7L70.7 59.9M85.3 53.6L94.9 49.5M96.8 48.7L103.3 45.9M63.1 62.2L69.7 59.4M70.6 59.0L76.9 56.3M101.4 45.8L106.3 43.7M62.3 61.7L66.3 59.9M69.6 58.5L79.3 54.3M88.2 50.5L96.9 46.8M101.5 44.4L106.2 42.4M60.6 60.7L67.4 57.8M80.4 52.2L86.6 49.5M88.8 48.6L94.6 46.1M98.1 44.6L104.0 42.1M73.9 54.8L80.2 52.1M83.7 50.5L89.5 48.1M91.2 47.3L97.1 44.8M78.0 51.7L88.7 47.1M102.5 41.2L103.7 40.7M67.6 55.9L71.9 54.1M75.0 52.7L85.5 48.2M87.0 47.6L94.3 44.5M96.1 43.6L98.9 42.5M102.3 41.0L103.4 40.5M77.8 50.8L81.1 49.4M84.5 47.9L89.6 45.7M92.0 44.7L95.8 43.0M98.8 41.7L102.8 40.1M69.0 53.2L80.2 48.4M90.5 43.9L100.2 39.8M67.6 53.5L78.1 48.9M96.0 41.2L99.7 39.6M66.8 52.8L71.1 50.9M74.6 49.4L83.4 45.6M95.9 40.3L100.3 38.4M56.4 56.8L66.4 52.4M97.8 38.9L99.8 38.1M61.0 53.9L71.1 49.5M86.7 42.8L93.1 40.1M64.3 51.7L68.5 49.9M69.6 49.5L79.7 45.1M81.5 44.3L89.3 41.0M92.6 39.6L98.3 37.1M53.5 55.4L61.7 51.9M73.7 46.7L83.3 42.6M90.8 39.3L96.0 37.1M64.0 50.2L67.4 48.7M70.5 47.4L76.2 44.9M78.6 43.9L88.9 39.5M52.5 54.6L55.7 53.2M56.8 52.7L67.3 48.2M68.6 47.6L76.6 44.2M87.1 39.7L92.9 37.2M52.5 53.7L58.7 51.1M62.2 49.6L71.6 45.5M74.7 44.2L84.0 40.2M86.0 39.3L95.2 35.4" stroke="#ffffff" stroke-width="0.42" stroke-opacity="0.9" stroke-linecap="butt" fill="none"/><line x1="181.3" y1="142.6" x2="48.7" y2="55.7" stroke="#4d4d4d" stroke-width="0.7" /><line x1="181.3" y1="142.6" x2="226.35" y2="123.45" stroke="#4d4d4d" stroke-width="0.7" /><line x1="181.3" y1="142.6" x2="179.09" y2="144.14" stroke="#4d4d4d" stroke-width="0.6" /><text x="172.4" y="152.4" font-size="6.0" text-anchor="middle" fill="#262626" >0</text><line x1="162.49" y1="130.27" x2="160.28" y2="131.81" stroke="#4d4d4d" stroke-width="0.6" /><text x="153.4" y="140.15" font-size="6.0" text-anchor="middle" fill="#262626" >5</text><line x1="143.68" y1="117.95" x2="141.47" y2="119.49" stroke="#4d4d4d" stroke-width="0.6" /><text x="134.4" y="127.9" font-size="6.0" text-anchor="middle" fill="#262626" >10</text><line x1="124.87" y1="105.62" x2="122.67" y2="107.16" stroke="#4d4d4d" stroke-width="0.6" /><text x="115.4" y="115.65" font-size="6.0" text-anchor="middle" fill="#262626" >15</text><line x1="106.07" y1="93.3" x2="103.86" y2="94.83" stroke="#4d4d4d" stroke-width="0.6" /><text x="96.4" y="103.4" font-size="6.0" text-anchor="middle" fill="#262626" >20</text><line x1="87.26" y1="80.97" x2="85.05" y2="82.51" stroke="#4d4d4d" stroke-width="0.6" /><text x="77.4" y="91.15" font-size="6.0" text-anchor="middle" fill="#262626" >25</text><line x1="68.45" y1="68.64" x2="66.24" y2="70.18" stroke="#4d4d4d" stroke-width="0.6" /><text x="58.4" y="78.9" font-size="6.0" text-anchor="middle" fill="#262626" >30</text><line x1="49.64" y1="56.32" x2="47.43" y2="57.86" stroke="#4d4d4d" stroke-width="0.6" /><text x="39.4" y="66.65" font-size="6.0" text-anchor="middle" fill="#262626" >35</text><line x1="181.3" y1="142.6" x2="183.32" y2="143.9" stroke="#4d4d4d" stroke-width="0.6" /><text x="189.5" y="153.6" font-size="6.0" text-anchor="middle" fill="#262626" >0</text><line x1="191.04" y1="138.46" x2="193.06" y2="139.76" stroke="#4d4d4d" stroke-width="0.6" /><text x="199.24" y="149.46" font-size="6.0" text-anchor="middle" fill="#262626" >2</text><line x1="200.78" y1="134.32" x2="202.8" y2="135.62" stroke="#4d4d4d" stroke-width="0.6" /><text x="208.98" y="145.32" font-size="6.0" text-anchor="middle" fill="#262626" >4</text><line x1="210.52" y1="130.18" x2="212.54" y2="131.48" stroke="#4d4d4d" stroke-width="0.6" /><text x="218.72" y="141.18" font-size="6.0" text-anchor="middle" fill="#262626" >6</text><line x1="220.26" y1="126.04" x2="222.28" y2="127.34" stroke="#4d4d4d" stroke-width="0.6" /><text x="228.46" y="137.04" font-size="6.0" text-anchor="middle" fill="#262626" >8</text><line x1="48.7" y1="55.7" x2="48.7" y2="51.2" stroke="#4d4d4d" stroke-width="0.7" /><line x1="48.7" y1="52.4" x2="46.1" y2="51" stroke="#4d4d4d" stroke-width="0.6" /><text x="42.6" y="54.8" font-size="6.0" text-anchor="end" fill="#262626" >66</text><rect x="262.9" y="3.9" width="11.1" height="168.4" fill="url(#cb32)" stroke="#5a5a66" stroke-width="0.5"/><line x1="262.9" y1="7.72" x2="264.2" y2="7.72" stroke="#262626" stroke-width="0.6" /><text x="260.3" y="10.32" font-size="6.0" text-anchor="end" fill="#262626" >66.55</text><line x1="262.9" y1="23.64" x2="264.2" y2="23.64" stroke="#262626" stroke-width="0.6" /><text x="260.3" y="26.24" font-size="6.0" text-anchor="end" fill="#262626" >66.5</text><line x1="262.9" y1="39.55" x2="264.2" y2="39.55" stroke="#262626" stroke-width="0.6" /><text x="260.3" y="42.15" font-size="6.0" text-anchor="end" fill="#262626" >66.45</text><line x1="262.9" y1="55.47" x2="264.2" y2="55.47" stroke="#262626" stroke-width="0.6" /><text x="260.3" y="58.07" font-size="6.0" text-anchor="end" fill="#262626" >66.4</text><line x1="262.9" y1="71.39" x2="264.2" y2="71.39" stroke="#262626" stroke-width="0.6" /><text x="260.3" y="73.99" font-size="6.0" text-anchor="end" fill="#262626" >66.35</text><line x1="262.9" y1="87.3" x2="264.2" y2="87.3" stroke="#262626" stroke-width="0.6" /><text x="260.3" y="89.9" font-size="6.0" text-anchor="end" fill="#262626" >66.3</text><line x1="262.9" y1="103.22" x2="264.2" y2="103.22" stroke="#262626" stroke-width="0.6" /><text x="260.3" y="105.82" font-size="6.0" text-anchor="end" fill="#262626" >66.25</text><line x1="262.9" y1="119.14" x2="264.2" y2="119.14" stroke="#262626" stroke-width="0.6" /><text x="260.3" y="121.74" font-size="6.0" text-anchor="end" fill="#262626" >66.2</text><line x1="262.9" y1="135.05" x2="264.2" y2="135.05" stroke="#262626" stroke-width="0.6" /><text x="260.3" y="137.65" font-size="6.0" text-anchor="end" fill="#262626" >66.15</text><line x1="262.9" y1="150.97" x2="264.2" y2="150.97" stroke="#262626" stroke-width="0.6" /><text x="260.3" y="153.57" font-size="6.0" text-anchor="end" fill="#262626" >66.1</text><line x1="262.9" y1="166.89" x2="264.2" y2="166.89" stroke="#262626" stroke-width="0.6" /><text x="260.3" y="169.49" font-size="6.0" text-anchor="end" fill="#262626" >66.05</text><rect x="328.25" y="5.65" width="17.1" height="17.5" fill="#fff" stroke="#8c8c8c" stroke-width="0.9"/><text x="336.8" y="19.7" font-size="15.5" font-weight="bold" text-anchor="middle" fill="#111" style="font-family:Liberation Serif,serif;stroke:none">b</text><g transform="matrix(45.2,-18.7,-134.9,-89.7,427.8,142.6)"><rect y="0.00000" width="1" height="0.05333" fill="url(#s33)"/><rect y="0.03333" width="1" height="0.05333" fill="url(#s34)"/><rect y="0.06667" width="1" height="0.05333" fill="url(#s35)"/><rect y="0.10000" width="1" height="0.05333" fill="url(#s36)"/><rect y="0.13333" width="1" height="0.05333" fill="url(#s37)"/><rect y="0.16667" width="1" height="0.05333" fill="url(#s38)"/><rect y="0.20000" width="1" height="0.05333" fill="url(#s39)"/><rect y="0.23333" width="1" height="0.05333" fill="url(#s40)"/><rect y="0.26667" width="1" height="0.05333" fill="url(#s41)"/><rect y="0.30000" width="1" height="0.05333" fill="url(#s42)"/><rect y="0.33333" width="1" height="0.05333" fill="url(#s43)"/><rect y="0.36667" width="1" height="0.05333" fill="url(#s44)"/><rect y="0.40000" width="1" height="0.05333" fill="url(#s45)"/><rect y="0.43333" width="1" height="0.05333" fill="url(#s46)"/><rect y="0.46667" width="1" height="0.05333" fill="url(#s47)"/><rect y="0.50000" width="1" height="0.05333" fill="url(#s48)"/><rect y="0.53333" width="1" height="0.05333" fill="url(#s49)"/><rect y="0.56667" width="1" height="0.05333" fill="url(#s50)"/><rect y="0.60000" width="1" height="0.05333" fill="url(#s51)"/><rect y="0.63333" width="1" height="0.05333" fill="url(#s52)"/><rect y="0.66667" width="1" height="0.05333" fill="url(#s53)"/><rect y="0.70000" width="1" height="0.05333" fill="url(#s54)"/><rect y="0.73333" width="1" height="0.05333" fill="url(#s55)"/><rect y="0.76667" width="1" height="0.05333" fill="url(#s56)"/><rect y="0.80000" width="1" height="0.05333" fill="url(#s57)"/><rect y="0.83333" width="1" height="0.05333" fill="url(#s58)"/><rect y="0.86667" width="1" height="0.05333" fill="url(#s59)"/><rect y="0.90000" width="1" height="0.05333" fill="url(#s60)"/><rect y="0.93333" width="1" height="0.05333" fill="url(#s61)"/><rect y="0.96667" width="1" height="0.03333" fill="url(#s62)"/></g><path d="M423.1 118.3L429.1 115.9M430.3 115.4L440.1 111.3M414.4 119.9L417.8 118.5M419.5 117.7L427.5 114.4M428.1 114.2L434.3 111.6M435.9 111.0L440.8 108.9M412.1 118.5L418.7 115.8M419.7 115.3L423.3 113.9M425.1 113.1L436.0 108.6M437.2 108.1L442.5 105.9M414.3 115.2L419.8 112.9M421.3 112.3L429.9 108.7M431.3 108.1L436.9 105.8M437.7 105.5L442.4 103.6M404.5 116.5L412.6 113.2M413.1 113.0L420.3 110.0M429.5 106.2L438.9 102.3M426.3 105.2L433.2 102.3M405.8 111.0L414.7 107.4M416.2 106.7L423.7 103.6M424.8 103.2L432.7 99.9M405.4 110.2L409.1 108.7M410.4 108.2L414.6 106.4M416.0 105.9L418.6 104.8M419.4 104.5L422.1 103.3M423.0 103.0L426.9 101.3M427.4 101.1L433.9 98.5M401.8 109.9L412.2 105.6M413.2 105.2L418.0 103.2M418.6 103.0L428.3 98.9M399.6 108.1L406.8 105.2M420.0 99.7L429.6 95.7M400.5 106.4L408.2 103.2M409.9 102.5L412.2 101.6M413.4 101.1L421.2 97.9M422.5 97.3L429.0 94.6M391.1 108.7L402.1 104.1M403.9 103.4L414.4 99.0M415.2 98.7L426.3 94.1M391.8 107.7L398.5 104.9M399.6 104.5L403.0 103.1M404.0 102.6L408.9 100.6M410.5 99.9L412.9 99.0M413.7 98.6L424.4 94.2M425.2 93.9L426.8 93.2M390.4 107.1L396.9 104.4M398.2 103.9L407.2 100.2M408.7 99.6L413.6 97.5M414.5 97.1L419.5 95.1M420.6 94.7L425.8 92.5M393.8 104.9L401.0 101.9M402.5 101.3L408.6 98.7M410.0 98.2L418.0 94.9M419.7 94.2L425.0 92.0M387.0 106.5L396.8 102.4M398.4 101.8L406.9 98.2M417.7 93.8L423.8 91.2M401.8 99.1L410.1 95.7M383.1 106.2L387.3 104.5M389.1 103.8L397.8 100.2M398.6 99.8L409.2 95.4M410.5 94.9L416.5 92.4M417.8 91.9L420.4 90.8M382.7 105.6L390.1 102.5M391.8 101.8L395.2 100.4M396.1 100.0L403.8 96.8M405.5 96.1L411.2 93.8M412.6 93.2L416.2 91.7M394.3 99.8L402.2 96.6M403.4 96.1L408.0 94.2M409.1 93.7L412.6 92.3M413.5 91.9L420.5 89.0M389.0 100.4L397.3 97.0M397.9 96.7L405.5 93.6M407.2 92.9L413.8 90.1M378.3 103.4L381.0 102.2M382.8 101.5L391.2 98.0M391.8 97.8L402.9 93.2M404.4 92.5L407.9 91.1M408.9 90.7L413.3 88.9M414.5 88.4L417.6 87.1M389.5 97.9L399.1 94.0M400.7 93.3L407.6 90.5M408.8 89.9L416.9 86.6M380.0 100.4L389.1 96.6M390.2 96.2L400.5 91.9M401.5 91.5L408.0 88.8M408.6 88.5L412.3 87.0M388.2 96.2L392.7 94.4M393.4 94.1L398.3 92.1M402.9 90.2L413.6 85.7M380.9 98.0L384.2 96.6M385.1 96.2L393.4 92.8M394.1 92.5L398.2 90.8M398.9 90.5L401.9 89.3M403.7 88.5L409.2 86.2M410.3 85.8L413.6 84.4M391.9 92.7L394.7 91.5M395.7 91.1L398.4 90.0M400.2 89.3L407.1 86.4M386.6 94.3L391.0 92.4M392.0 92.0L394.8 90.9M395.8 90.5L400.9 88.4M401.4 88.2L412.4 83.6M377.1 96.6L380.2 95.3M389.2 91.6L399.2 87.5M399.7 87.3L406.8 84.3M392.8 89.3L396.1 87.9M406.8 83.5L410.2 82.1M370.9 97.5L378.3 94.4M378.9 94.2L387.5 90.7M388.2 90.4L393.0 88.4M393.6 88.1L399.7 85.6M386.9 89.2L397.8 84.7M404.9 81.7L407.8 80.5M370.4 94.4L375.3 92.4M376.8 91.8L384.1 88.7M384.6 88.5L388.0 87.1M389.6 86.4L400.5 82.0M401.2 81.6L406.3 79.5M365.9 95.4L375.6 91.3M376.2 91.1L383.2 88.2M392.5 84.4L395.8 83.0M397.5 82.3L403.9 79.6M391.3 83.1L398.8 80.0M400.4 79.4L403.9 77.9M366.0 92.4L371.5 90.1M372.2 89.8L377.7 87.6M390.6 82.2L396.5 79.8M398.1 79.1L402.8 77.2M363.2 92.2L373.6 87.9M375.1 87.3L380.3 85.1M390.8 80.8L393.1 79.8M394.4 79.3L398.3 77.7M399.2 77.3L401.5 76.3M375.5 86.3L386.1 81.9M387.4 81.3L394.6 78.4M395.5 78.0L400.7 75.8M363.6 89.5L366.7 88.2M367.9 87.7L377.0 84.0M377.9 83.6L388.6 79.2M390.0 78.6L392.9 77.4M382.3 80.4L390.1 77.2M391.2 76.7L397.9 73.9M364.6 86.0L366.9 85.0M377.5 80.7L385.3 77.5M385.9 77.2L394.4 73.7M360.6 86.0L364.8 84.3M374.2 80.4L382.1 77.1M382.9 76.8L385.7 75.6M387.3 75.0L394.8 71.9M360.5 85.2L370.9 80.8M380.2 77.0L382.7 76.0M384.0 75.4L391.7 72.3M362.1 83.5L370.6 80.0M386.0 73.6L393.0 70.7M365.0 81.5L368.2 80.2M368.9 79.9L372.0 78.6M373.3 78.1L376.5 76.8M374.1 77.0L377.3 75.7M378.0 75.4L383.7 73.0M385.0 72.5L391.6 69.8M359.3 82.5L362.6 81.1M363.6 80.7L372.0 77.2M373.8 76.5L384.6 72.0M386.1 71.4L391.0 69.4M367.4 78.2L372.3 76.2M373.7 75.6L383.1 71.7M349.9 84.1L354.3 82.3M354.9 82.1L359.6 80.1M360.7 79.7L371.8 75.1M372.8 74.7L383.5 70.2M384.4 69.8L388.9 68.0M354.0 81.9L358.5 80.0M359.5 79.6L366.4 76.7M367.2 76.4L378.2 71.8M379.3 71.4L382.4 70.1M357.6 79.0L360.3 77.9M361.8 77.2L368.0 74.7M369.7 74.0L377.8 70.6M378.3 70.4L380.8 69.4M361.8 76.3L371.1 72.4M372.9 71.7L384.2 67.0M385.2 66.6L386.2 66.2M355.5 77.9L359.3 76.4M367.2 73.1L371.2 71.4M372.8 70.8L383.7 66.3M347.7 79.7L358.4 75.2M359.1 74.9L365.2 72.4M366.7 71.8L372.3 69.4M381.3 65.7L383.9 64.7M348.7 78.1L355.2 75.4M357.0 74.6L361.4 72.8M362.2 72.5L369.4 69.5M370.1 69.2L376.7 66.5M377.1 66.3L382.8 64.0M351.3 76.1L354.1 74.9M354.6 74.7L360.3 72.3M360.8 72.1L365.7 70.1M367.1 69.5L377.7 65.1M360.2 71.2L366.5 68.6M345.1 76.1L352.4 73.0M353.5 72.6L356.3 71.4M361.6 69.3L366.3 67.3M373.7 64.2L379.5 61.8M350.1 73.4L353.6 71.9M355.0 71.3L362.4 68.3M362.9 68.1L372.6 64.1M374.2 63.4L376.8 62.3M377.4 62.0L379.0 61.4M340.9 75.4L344.2 74.1M345.6 73.5L348.7 72.2M359.3 67.8L362.2 66.6M363.8 66.0L367.1 64.6M367.9 64.3L372.9 62.2M344.8 73.2L347.8 72.0M348.4 71.7L354.5 69.2M355.8 68.7L359.7 67.1M360.8 66.6L369.2 63.1M370.5 62.6L376.8 60.0M343.1 72.5L353.5 68.2M354.8 67.6L360.9 65.1M362.5 64.5L367.4 62.4M343.7 70.7L354.6 66.2M356.1 65.5L361.4 63.4M362.7 62.8L372.6 58.7M348.2 68.2L356.2 64.9M357.0 64.5L363.0 62.1M363.6 61.8L366.4 60.7M367.4 60.2L373.5 57.7M345.6 67.8L348.8 66.5M349.5 66.2L352.0 65.1M352.9 64.8L356.1 63.4M357.8 62.7L368.6 58.2M369.2 58.0L372.1 56.8M332.6 72.1L339.8 69.2M348.9 65.4L353.0 63.7M354.7 63.0L360.5 60.6M368.5 57.3L371.2 56.2M337.2 69.0L347.7 64.6M348.9 64.2L353.7 62.2M354.5 61.8L361.0 59.1M362.3 58.6L365.7 57.2M340.5 67.0L351.8 62.3M352.5 62.1L355.6 60.8M356.9 60.3L366.9 56.1M330.7 70.5L335.2 68.6M335.7 68.4L344.5 64.7M346.0 64.1L351.3 61.9M361.0 57.9L365.8 55.9M337.0 67.1L345.1 63.7M349.7 61.8L359.7 57.7M360.7 57.2L368.1 54.2M337.7 65.1L346.4 61.5M347.9 60.8L351.6 59.3M352.1 59.1L361.5 55.2M363.1 54.6L365.7 53.5M339.7 63.4L349.4 59.4M350.4 59.0L358.5 55.7M359.3 55.3L361.6 54.3M335.8 63.6L342.0 61.0M343.4 60.4L349.0 58.1M350.5 57.5L356.8 54.9M324.0 66.8L333.2 63.0M341.6 59.5L348.5 56.6M350.1 56.0L359.3 52.2M330.7 62.3L340.7 58.2M352.1 53.5L355.0 52.3M355.6 52.0L361.2 49.7M320.7 65.5L325.7 63.4M332.1 60.8L340.6 57.3M341.6 56.9L347.9 54.2M348.4 54.0L354.8 51.4M356.2 50.8L360.4 49.1M332.7 59.5L342.2 55.6M353.1 51.1L359.4 48.5M322.4 62.6L331.6 58.8M332.8 58.3L342.6 54.2M343.2 54.0L350.9 50.8M351.6 50.5L356.4 48.5M323.6 60.6L325.9 59.7M327.7 58.9L337.5 54.9M339.2 54.2L342.2 52.9M342.6 52.8L345.4 51.6M330.3 57.1L337.4 54.2M350.9 48.6L356.4 46.4M324.1 58.2L333.0 54.6M333.9 54.2L343.9 50.1M344.7 49.7L353.1 46.2M315.1 60.5L325.6 56.1M326.1 55.9L333.0 53.0M334.1 52.6L337.7 51.1M338.8 50.7L341.7 49.5M342.5 49.1L347.3 47.1M348.2 46.8L353.6 44.5M317.5 57.9L320.6 56.6M321.3 56.3L329.8 52.8M330.3 52.6L340.4 48.4M348.7 45.0L352.2 43.6M324.1 54.5L329.5 52.3M331.1 51.7L338.5 48.6M339.8 48.0L347.6 44.8M312.2 57.8L322.4 53.5M323.4 53.2L331.1 50.0M331.8 49.7L338.1 47.1M338.6 46.9L341.8 45.5M343.5 44.8L346.4 43.6M313.9 56.4L316.4 55.3M317.1 55.1L322.4 52.9M334.8 47.8L344.7 43.6M345.8 43.2L349.4 41.7M340.6 44.4L344.0 43.0M402.2 112.4L406.1 110.8M407.8 110.1L413.7 107.7M415.0 107.1L421.2 104.5M422.2 104.1L427.1 102.1M428.7 101.5L435.2 98.8M422.8 124.1L433.2 119.8M434.1 119.4L439.4 117.2M440.1 116.9L450.8 112.5M399.3 113.4L402.0 112.3M403.8 111.5L413.1 107.7M414.2 107.2L416.8 106.2M417.5 105.9L428.6 101.3M429.4 100.9L432.3 99.7M418.5 118.7L428.3 114.6M429.1 114.3L432.9 112.7M433.5 112.5L437.3 110.9M438.4 110.4L440.8 109.5M442.4 108.8L447.3 106.8M428.6 122.6L434.3 120.3M435.2 119.9L437.8 118.8M438.8 118.4L442.2 117.0M449.7 113.9L454.8 111.8M419.7 126.2L424.8 124.0M426.4 123.4L435.8 119.5M436.5 119.2L438.8 118.2M439.6 117.9L441.9 117.0M442.7 116.7L446.8 115.0M448.0 114.4L452.8 112.5M433.1 125.5L440.7 122.3M450.2 118.4L458.7 114.9" stroke="#141414" stroke-width="0.5" stroke-opacity="0.8" fill="none"/><line x1="427.7" y1="142.9" x2="291.4" y2="54.3" stroke="#4d4d4d" stroke-width="0.7" /><line x1="427.7" y1="142.9" x2="472.99" y2="123.65" stroke="#4d4d4d" stroke-width="0.7" /><line x1="427.7" y1="142.9" x2="425.49" y2="144.44" stroke="#4d4d4d" stroke-width="0.6" /><text x="418.8" y="152.7" font-size="6.0" text-anchor="middle" fill="#262626" >0</text><line x1="408.5" y1="130.42" x2="406.29" y2="131.96" stroke="#4d4d4d" stroke-width="0.6" /><text x="399.8" y="140.45" font-size="6.0" text-anchor="middle" fill="#262626" >5</text><line x1="389.31" y1="117.94" x2="387.1" y2="119.48" stroke="#4d4d4d" stroke-width="0.6" /><text x="380.8" y="128.2" font-size="6.0" text-anchor="middle" fill="#262626" >10</text><line x1="370.11" y1="105.46" x2="367.9" y2="107" stroke="#4d4d4d" stroke-width="0.6" /><text x="361.8" y="115.95" font-size="6.0" text-anchor="middle" fill="#262626" >15</text><line x1="350.91" y1="92.98" x2="348.7" y2="94.52" stroke="#4d4d4d" stroke-width="0.6" /><text x="342.8" y="103.7" font-size="6.0" text-anchor="middle" fill="#262626" >20</text><line x1="331.71" y1="80.51" x2="329.51" y2="82.04" stroke="#4d4d4d" stroke-width="0.6" /><text x="323.8" y="91.45" font-size="6.0" text-anchor="middle" fill="#262626" >25</text><line x1="312.52" y1="68.03" x2="310.31" y2="69.57" stroke="#4d4d4d" stroke-width="0.6" /><text x="304.8" y="79.2" font-size="6.0" text-anchor="middle" fill="#262626" >30</text><line x1="293.32" y1="55.55" x2="291.11" y2="57.09" stroke="#4d4d4d" stroke-width="0.6" /><text x="285.8" y="66.95" font-size="6.0" text-anchor="middle" fill="#262626" >35</text><line x1="427.7" y1="142.9" x2="429.72" y2="144.2" stroke="#4d4d4d" stroke-width="0.6" /><text x="435.5" y="154.2" font-size="6.0" text-anchor="middle" fill="#262626" >0</text><line x1="437.44" y1="138.76" x2="439.46" y2="140.06" stroke="#4d4d4d" stroke-width="0.6" /><text x="445.24" y="150.06" font-size="6.0" text-anchor="middle" fill="#262626" >2</text><line x1="447.18" y1="134.62" x2="449.2" y2="135.92" stroke="#4d4d4d" stroke-width="0.6" /><text x="454.98" y="145.92" font-size="6.0" text-anchor="middle" fill="#262626" >4</text><line x1="456.92" y1="130.48" x2="458.94" y2="131.78" stroke="#4d4d4d" stroke-width="0.6" /><text x="464.72" y="141.78" font-size="6.0" text-anchor="middle" fill="#262626" >6</text><line x1="466.66" y1="126.34" x2="468.68" y2="127.64" stroke="#4d4d4d" stroke-width="0.6" /><text x="474.46" y="137.64" font-size="6.0" text-anchor="middle" fill="#262626" >8</text><line x1="291.4" y1="54.3" x2="291.4" y2="49.8" stroke="#4d4d4d" stroke-width="0.7" /><line x1="291.4" y1="51" x2="288.8" y2="49.6" stroke="#4d4d4d" stroke-width="0.6" /><text x="286" y="54" font-size="6.0" text-anchor="end" fill="#262626" >66</text><rect x="19.2" y="177" width="10.3" height="166.2" fill="url(#cb63)" stroke="#5a5a66" stroke-width="0.5"/><line x1="19.2" y1="197.13" x2="20.5" y2="197.13" stroke="#262626" stroke-width="0.6" /><text x="17" y="199.73" font-size="6.0" text-anchor="end" fill="#262626" >66.7</text><line x1="19.2" y1="222.94" x2="20.5" y2="222.94" stroke="#262626" stroke-width="0.6" /><text x="17" y="225.54" font-size="6.0" text-anchor="end" fill="#262626" >66.6</text><line x1="19.2" y1="248.74" x2="20.5" y2="248.74" stroke="#262626" stroke-width="0.6" /><text x="17" y="251.34" font-size="6.0" text-anchor="end" fill="#262626" >66.5</text><line x1="19.2" y1="274.55" x2="20.5" y2="274.55" stroke="#262626" stroke-width="0.6" /><text x="17" y="277.15" font-size="6.0" text-anchor="end" fill="#262626" >66.4</text><line x1="19.2" y1="300.36" x2="20.5" y2="300.36" stroke="#262626" stroke-width="0.6" /><text x="17" y="302.96" font-size="6.0" text-anchor="end" fill="#262626" >66.3</text><line x1="19.2" y1="326.17" x2="20.5" y2="326.17" stroke="#262626" stroke-width="0.6" /><text x="17" y="328.77" font-size="6.0" text-anchor="end" fill="#262626" >66.2</text><rect x="43.55" y="179.75" width="17.1" height="17.2" fill="#fff" stroke="#8c8c8c" stroke-width="0.9"/><text x="52.1" y="193.5" font-size="15.5" font-weight="bold" text-anchor="middle" fill="#111" style="font-family:Liberation Serif,serif;stroke:none">c</text><g transform="matrix(43.8,-18.8,-133.6,-89.4,182,313.8)"><rect y="0.00000" width="1" height="0.01088" fill="url(#s64)"/><rect y="0.00680" width="1" height="0.01088" fill="url(#s65)"/><rect y="0.01361" width="1" height="0.01088" fill="url(#s66)"/><rect y="0.02041" width="1" height="0.01088" fill="url(#s67)"/><rect y="0.02721" width="1" height="0.01088" fill="url(#s68)"/><rect y="0.03401" width="1" height="0.01088" fill="url(#s69)"/><rect y="0.04082" width="1" height="0.01088" fill="url(#s70)"/><rect y="0.04762" width="1" height="0.01088" fill="url(#s71)"/><rect y="0.05442" width="1" height="0.01088" fill="url(#s72)"/><rect y="0.06122" width="1" height="0.01088" fill="url(#s73)"/><rect y="0.06803" width="1" height="0.01088" fill="url(#s74)"/><rect y="0.07483" width="1" height="0.01088" fill="url(#s75)"/><rect y="0.08163" width="1" height="0.01088" fill="url(#s76)"/><rect y="0.08844" width="1" height="0.01088" fill="url(#s77)"/><rect y="0.09524" width="1" height="0.01088" fill="url(#s78)"/><rect y="0.10204" width="1" height="0.01088" fill="url(#s79)"/><rect y="0.10884" width="1" height="0.01088" fill="url(#s80)"/><rect y="0.11565" width="1" height="0.01088" fill="url(#s81)"/><rect y="0.12245" width="1" height="0.01088" fill="url(#s82)"/><rect y="0.12925" width="1" height="0.01088" fill="url(#s83)"/><rect y="0.13605" width="1" height="0.01088" fill="url(#s84)"/><rect y="0.14286" width="1" height="0.01088" fill="url(#s85)"/><rect y="0.14966" width="1" height="0.01088" fill="url(#s86)"/><rect y="0.15646" width="1" height="0.01088" fill="url(#s87)"/><rect y="0.16327" width="1" height="0.01088" fill="url(#s88)"/><rect y="0.17007" width="1" height="0.01088" fill="url(#s89)"/><rect y="0.17687" width="1" height="0.01088" fill="url(#s90)"/><rect y="0.18367" width="1" height="0.01088" fill="url(#s91)"/><rect y="0.19048" width="1" height="0.01088" fill="url(#s92)"/><rect y="0.19728" width="1" height="0.01088" fill="url(#s93)"/><rect y="0.20408" width="1" height="0.01088" fill="url(#s94)"/><rect y="0.21088" width="1" height="0.01088" fill="url(#s95)"/><rect y="0.21769" width="1" height="0.01088" fill="url(#s96)"/><rect y="0.22449" width="1" height="0.01088" fill="url(#s97)"/><rect y="0.23129" width="1" height="0.01088" fill="url(#s98)"/><rect y="0.23810" width="1" height="0.01088" fill="url(#s99)"/><rect y="0.24490" width="1" height="0.01088" fill="url(#s100)"/><rect y="0.25170" width="1" height="0.01088" fill="url(#s101)"/><rect y="0.25850" width="1" height="0.01088" fill="url(#s102)"/><rect y="0.26531" width="1" height="0.01088" fill="url(#s103)"/><rect y="0.27211" width="1" height="0.01088" fill="url(#s104)"/><rect y="0.27891" width="1" height="0.01088" fill="url(#s105)"/><rect y="0.28571" width="1" height="0.01088" fill="url(#s106)"/><rect y="0.29252" width="1" height="0.01088" fill="url(#s107)"/><rect y="0.29932" width="1" height="0.01088" fill="url(#s108)"/><rect y="0.30612" width="1" height="0.01088" fill="url(#s109)"/><rect y="0.31293" width="1" height="0.01088" fill="url(#s110)"/><rect y="0.31973" width="1" height="0.01088" fill="url(#s111)"/><rect y="0.32653" width="1" height="0.01088" fill="url(#s112)"/><rect y="0.33333" width="1" height="0.01088" fill="url(#s113)"/><rect y="0.34014" width="1" height="0.01088" fill="url(#s114)"/><rect y="0.34694" width="1" height="0.01088" fill="url(#s115)"/><rect y="0.35374" width="1" height="0.01088" fill="url(#s116)"/><rect y="0.36054" width="1" height="0.01088" fill="url(#s117)"/><rect y="0.36735" width="1" height="0.01088" fill="url(#s118)"/><rect y="0.37415" width="1" height="0.01088" fill="url(#s119)"/><rect y="0.38095" width="1" height="0.01088" fill="url(#s120)"/><rect y="0.38776" width="1" height="0.01088" fill="url(#s121)"/><rect y="0.39456" width="1" height="0.01088" fill="url(#s122)"/><rect y="0.40136" width="1" height="0.01088" fill="url(#s123)"/><rect y="0.40816" width="1" height="0.01088" fill="url(#s124)"/><rect y="0.41497" width="1" height="0.01088" fill="url(#s125)"/><rect y="0.42177" width="1" height="0.01088" fill="url(#s126)"/><rect y="0.42857" width="1" height="0.01088" fill="url(#s127)"/><rect y="0.43537" width="1" height="0.01088" fill="url(#s128)"/><rect y="0.44218" width="1" height="0.01088" fill="url(#s129)"/><rect y="0.44898" width="1" height="0.01088" fill="url(#s130)"/><rect y="0.45578" width="1" height="0.01088" fill="url(#s131)"/><rect y="0.46259" width="1" height="0.01088" fill="url(#s132)"/><rect y="0.46939" width="1" height="0.01088" fill="url(#s133)"/><rect y="0.47619" width="1" height="0.01088" fill="url(#s134)"/><rect y="0.48299" width="1" height="0.01088" fill="url(#s135)"/><rect y="0.48980" width="1" height="0.01088" fill="url(#s136)"/><rect y="0.49660" width="1" height="0.01088" fill="url(#s137)"/><rect y="0.50340" width="1" height="0.01088" fill="url(#s138)"/><rect y="0.51020" width="1" height="0.01088" fill="url(#s139)"/><rect y="0.51701" width="1" height="0.01088" fill="url(#s140)"/><rect y="0.52381" width="1" height="0.01088" fill="url(#s141)"/><rect y="0.53061" width="1" height="0.01088" fill="url(#s142)"/><rect y="0.53741" width="1" height="0.01088" fill="url(#s143)"/><rect y="0.54422" width="1" height="0.01088" fill="url(#s144)"/><rect y="0.55102" width="1" height="0.01088" fill="url(#s145)"/><rect y="0.55782" width="1" height="0.01088" fill="url(#s146)"/><rect y="0.56463" width="1" height="0.01088" fill="url(#s147)"/><rect y="0.57143" width="1" height="0.01088" fill="url(#s148)"/><rect y="0.57823" width="1" height="0.01088" fill="url(#s149)"/><rect y="0.58503" width="1" height="0.01088" fill="url(#s150)"/><rect y="0.59184" width="1" height="0.01088" fill="url(#s151)"/><rect y="0.59864" width="1" height="0.01088" fill="url(#s152)"/><rect y="0.60544" width="1" height="0.01088" fill="url(#s153)"/><rect y="0.61224" width="1" height="0.01088" fill="url(#s154)"/><rect y="0.61905" width="1" height="0.01088" fill="url(#s155)"/><rect y="0.62585" width="1" height="0.01088" fill="url(#s156)"/><rect y="0.63265" width="1" height="0.01088" fill="url(#s157)"/><rect y="0.63946" width="1" height="0.01088" fill="url(#s158)"/><rect y="0.64626" width="1" height="0.01088" fill="url(#s159)"/><rect y="0.65306" width="1" height="0.01088" fill="url(#s160)"/><rect y="0.65986" width="1" height="0.01088" fill="url(#s161)"/><rect y="0.66667" width="1" height="0.01088" fill="url(#s162)"/><rect y="0.67347" width="1" height="0.01088" fill="url(#s163)"/><rect y="0.68027" width="1" height="0.01088" fill="url(#s164)"/><rect y="0.68707" width="1" height="0.01088" fill="url(#s165)"/><rect y="0.69388" width="1" height="0.01088" fill="url(#s166)"/><rect y="0.70068" width="1" height="0.01088" fill="url(#s167)"/><rect y="0.70748" width="1" height="0.01088" fill="url(#s168)"/><rect y="0.71429" width="1" height="0.01088" fill="url(#s169)"/><rect y="0.72109" width="1" height="0.01088" fill="url(#s170)"/><rect y="0.72789" width="1" height="0.01088" fill="url(#s171)"/><rect y="0.73469" width="1" height="0.01088" fill="url(#s172)"/><rect y="0.74150" width="1" height="0.01088" fill="url(#s173)"/><rect y="0.74830" width="1" height="0.01088" fill="url(#s174)"/><rect y="0.75510" width="1" height="0.01088" fill="url(#s175)"/><rect y="0.76190" width="1" height="0.01088" fill="url(#s176)"/><rect y="0.76871" width="1" height="0.01088" fill="url(#s177)"/><rect y="0.77551" width="1" height="0.01088" fill="url(#s178)"/><rect y="0.78231" width="1" height="0.01088" fill="url(#s179)"/><rect y="0.78912" width="1" height="0.01088" fill="url(#s180)"/><rect y="0.79592" width="1" height="0.01088" fill="url(#s181)"/><rect y="0.80272" width="1" height="0.01088" fill="url(#s182)"/><rect y="0.80952" width="1" height="0.01088" fill="url(#s183)"/><rect y="0.81633" width="1" height="0.01088" fill="url(#s184)"/><rect y="0.82313" width="1" height="0.01088" fill="url(#s185)"/><rect y="0.82993" width="1" height="0.01088" fill="url(#s186)"/><rect y="0.83673" width="1" height="0.01088" fill="url(#s187)"/><rect y="0.84354" width="1" height="0.01088" fill="url(#s188)"/><rect y="0.85034" width="1" height="0.01088" fill="url(#s189)"/><rect y="0.85714" width="1" height="0.01088" fill="url(#s190)"/><rect y="0.86395" width="1" height="0.01088" fill="url(#s191)"/><rect y="0.87075" width="1" height="0.01088" fill="url(#s192)"/><rect y="0.87755" width="1" height="0.01088" fill="url(#s193)"/><rect y="0.88435" width="1" height="0.01088" fill="url(#s194)"/><rect y="0.89116" width="1" height="0.01088" fill="url(#s195)"/><rect y="0.89796" width="1" height="0.01088" fill="url(#s196)"/><rect y="0.90476" width="1" height="0.01088" fill="url(#s197)"/><rect y="0.91156" width="1" height="0.01088" fill="url(#s198)"/><rect y="0.91837" width="1" height="0.01088" fill="url(#s199)"/><rect y="0.92517" width="1" height="0.01088" fill="url(#s200)"/><rect y="0.93197" width="1" height="0.01088" fill="url(#s201)"/><rect y="0.93878" width="1" height="0.01088" fill="url(#s202)"/><rect y="0.94558" width="1" height="0.01088" fill="url(#s203)"/><rect y="0.95238" width="1" height="0.01088" fill="url(#s204)"/><rect y="0.95918" width="1" height="0.01088" fill="url(#s205)"/><rect y="0.96599" width="1" height="0.01088" fill="url(#s206)"/><rect y="0.97279" width="1" height="0.01088" fill="url(#s207)"/><rect y="0.97959" width="1" height="0.01088" fill="url(#s208)"/><rect y="0.98639" width="1" height="0.01088" fill="url(#s209)"/><rect y="0.99320" width="1" height="0.00680" fill="url(#s210)"/></g><line x1="182.4" y1="314.2" x2="47.2" y2="225.3" stroke="#4d4d4d" stroke-width="0.7" /><line x1="182.4" y1="314.2" x2="226.01" y2="295.06" stroke="#4d4d4d" stroke-width="0.7" /><line x1="182.4" y1="314.2" x2="180.2" y2="315.76" stroke="#4d4d4d" stroke-width="0.6" /><text x="173.5" y="323.2" font-size="6.0" text-anchor="middle" fill="#262626" >0</text><line x1="163.36" y1="301.68" x2="161.16" y2="303.24" stroke="#4d4d4d" stroke-width="0.6" /><text x="154.62" y="311.12" font-size="6.0" text-anchor="middle" fill="#262626" >5</text><line x1="144.32" y1="289.16" x2="142.12" y2="290.72" stroke="#4d4d4d" stroke-width="0.6" /><text x="135.73" y="299.03" font-size="6.0" text-anchor="middle" fill="#262626" >10</text><line x1="125.27" y1="276.64" x2="123.08" y2="278.2" stroke="#4d4d4d" stroke-width="0.6" /><text x="116.84" y="286.94" font-size="6.0" text-anchor="middle" fill="#262626" >15</text><line x1="106.23" y1="264.12" x2="104.03" y2="265.68" stroke="#4d4d4d" stroke-width="0.6" /><text x="97.96" y="274.86" font-size="6.0" text-anchor="middle" fill="#262626" >20</text><line x1="87.19" y1="251.59" x2="84.99" y2="253.16" stroke="#4d4d4d" stroke-width="0.6" /><text x="79.08" y="262.77" font-size="6.0" text-anchor="middle" fill="#262626" >25</text><line x1="68.15" y1="239.07" x2="65.95" y2="240.64" stroke="#4d4d4d" stroke-width="0.6" /><text x="60.19" y="250.69" font-size="6.0" text-anchor="middle" fill="#262626" >30</text><line x1="49.1" y1="226.55" x2="46.91" y2="228.12" stroke="#4d4d4d" stroke-width="0.6" /><text x="41.31" y="238.6" font-size="6.0" text-anchor="middle" fill="#262626" >35</text><line x1="182.4" y1="314.2" x2="184.43" y2="315.47" stroke="#4d4d4d" stroke-width="0.6" /><text x="189.4" y="324.7" font-size="6.0" text-anchor="middle" fill="#262626" >0</text><line x1="206.9" y1="303.45" x2="208.93" y2="304.72" stroke="#4d4d4d" stroke-width="0.6" /><text x="213.7" y="315.7" font-size="6.0" text-anchor="middle" fill="#262626" >5</text><line x1="47.2" y1="225.3" x2="47.2" y2="221" stroke="#4d4d4d" stroke-width="0.7" /><line x1="47.2" y1="222.2" x2="44.6" y2="220.8" stroke="#4d4d4d" stroke-width="0.6" /><text x="42.6" y="225.8" font-size="6.0" text-anchor="end" fill="#262626" >66.2</text><text x="121" y="312.4" font-size="7.2" text-anchor="middle" fill="#262626" >Y (m)</text><text x="217.8" y="329.7" font-size="7.2" text-anchor="middle" fill="#262626" >X (m)</text><ellipse cx="180.8" cy="289.5" rx="30.6" ry="17.2" fill="none" stroke="#111" stroke-width="1.9" stroke-dasharray="4.2 2.6"/><line x1="416" y1="311.91" x2="294.55" y2="279.96" stroke="#e3e3e3" stroke-width="0.5" /><line x1="442.9" y1="304.73" x2="321.49" y2="273.13" stroke="#e3e3e3" stroke-width="0.5" /><line x1="469.8" y1="297.54" x2="348.44" y2="266.29" stroke="#e3e3e3" stroke-width="0.5" /><line x1="496.7" y1="290.35" x2="375.38" y2="259.46" stroke="#e3e3e3" stroke-width="0.5" /><line x1="362.04" y1="311.91" x2="484.48" y2="279.56" stroke="#e3e3e3" stroke-width="0.5" /><line x1="334.98" y1="304.71" x2="457.47" y2="272.73" stroke="#e3e3e3" stroke-width="0.5" /><line x1="307.92" y1="297.52" x2="430.45" y2="265.89" stroke="#e3e3e3" stroke-width="0.5" /><line x1="280.86" y1="290.32" x2="403.44" y2="259.05" stroke="#e3e3e3" stroke-width="0.5" /><line x1="294.55" y1="279.96" x2="294.55" y2="224.46" stroke="#e3e3e3" stroke-width="0.5" /><line x1="321.49" y1="273.13" x2="321.49" y2="217.63" stroke="#e3e3e3" stroke-width="0.5" /><line x1="348.44" y1="266.29" x2="348.44" y2="210.79" stroke="#e3e3e3" stroke-width="0.5" /><line x1="375.38" y1="259.46" x2="375.38" y2="203.96" stroke="#e3e3e3" stroke-width="0.5" /><line x1="484.48" y1="279.56" x2="484.48" y2="224.06" stroke="#e3e3e3" stroke-width="0.5" /><line x1="457.47" y1="272.73" x2="457.47" y2="217.23" stroke="#e3e3e3" stroke-width="0.5" /><line x1="430.45" y1="265.89" x2="430.45" y2="210.39" stroke="#e3e3e3" stroke-width="0.5" /><line x1="403.44" y1="259.05" x2="403.44" y2="203.55" stroke="#e3e3e3" stroke-width="0.5" /><line x1="267.6" y1="268.3" x2="390.2" y2="237.2" stroke="#e3e3e3" stroke-width="0.5" /><line x1="390.2" y1="237.2" x2="511.5" y2="267.9" stroke="#e3e3e3" stroke-width="0.5" /><line x1="267.6" y1="249.8" x2="390.2" y2="218.7" stroke="#e3e3e3" stroke-width="0.5" /><line x1="390.2" y1="218.7" x2="511.5" y2="249.4" stroke="#e3e3e3" stroke-width="0.5" /><line x1="390.2" y1="255.7" x2="390.2" y2="200.2" stroke="#e3e3e3" stroke-width="0.5" /><polygon points="267.6,264.63 390.2,230.42 390.71,230.44 268.11,264.81" fill="url(#r211)" stroke="url(#r211)" stroke-width="0.35"/><polygon points="268.11,264.81 390.71,230.44 391.21,230.48 268.61,265" fill="url(#r212)" stroke="url(#r212)" stroke-width="0.35"/><polygon points="268.61,265 391.21,230.48 391.72,230.48 269.12,265.14" fill="url(#r213)" stroke="url(#r213)" stroke-width="0.35"/><polygon points="269.12,265.14 391.72,230.48 392.22,230.26 269.62,265.05" fill="url(#r214)" stroke="url(#r214)" stroke-width="0.35"/><polygon points="269.62,265.05 392.22,230.26 392.73,230.06 270.13,264.96" fill="url(#r215)" stroke="url(#r215)" stroke-width="0.35"/><polygon points="270.13,264.96 392.73,230.06 393.23,229.88 270.64,264.9" fill="url(#r216)" stroke="url(#r216)" stroke-width="0.35"/><polygon points="270.64,264.9 393.23,229.88 393.74,229.75 271.14,264.85" fill="url(#r217)" stroke="url(#r217)" stroke-width="0.35"/><polygon points="271.14,264.85 393.74,229.75 394.24,229.65 271.65,264.83" fill="url(#r218)" stroke="url(#r218)" stroke-width="0.35"/><polygon points="271.65,264.83 394.24,229.65 394.75,229.6 272.16,264.84" fill="url(#r219)" stroke="url(#r219)" stroke-width="0.35"/><polygon points="272.16,264.84 394.75,229.6 395.25,229.59 272.66,264.88" fill="url(#r220)" stroke="url(#r220)" stroke-width="0.35"/><polygon points="272.66,264.88 395.25,229.59 395.76,229.63 273.17,264.95" fill="url(#r221)" stroke="url(#r221)" stroke-width="0.35"/><polygon points="273.17,264.95 395.76,229.63 396.26,229.72 273.68,265.06" fill="url(#r222)" stroke="url(#r222)" stroke-width="0.35"/><polygon points="273.68,265.06 396.26,229.72 396.77,229.86 274.18,265.21" fill="url(#r223)" stroke="url(#r223)" stroke-width="0.35"/><polygon points="274.18,265.21 396.77,229.86 397.28,230.05 274.69,265.39" fill="url(#r224)" stroke="url(#r224)" stroke-width="0.35"/><polygon points="274.69,265.39 397.28,230.05 397.78,230.29 275.19,265.6" fill="url(#r225)" stroke="url(#r225)" stroke-width="0.35"/><polygon points="275.19,265.6 397.78,230.29 398.29,230.58 275.7,265.85" fill="url(#r226)" stroke="url(#r226)" stroke-width="0.35"/><polygon points="275.7,265.85 398.29,230.58 398.79,230.91 276.21,266.12" fill="url(#r227)" stroke="url(#r227)" stroke-width="0.35"/><polygon points="276.21,266.12 398.79,230.91 399.3,231.28 276.71,266.43" fill="url(#r228)" stroke="url(#r228)" stroke-width="0.35"/><polygon points="276.71,266.43 399.3,231.28 399.8,231.69 277.22,266.75" fill="url(#r229)" stroke="url(#r229)" stroke-width="0.35"/><polygon points="277.22,266.75 399.8,231.69 400.31,232.14 277.73,267.1" fill="url(#r230)" stroke="url(#r230)" stroke-width="0.35"/><polygon points="277.73,267.1 400.31,232.14 400.81,232.61 278.23,267.46" fill="url(#r231)" stroke="url(#r231)" stroke-width="0.35"/><polygon points="278.23,267.46 400.81,232.61 401.32,233.04 278.74,267.77" fill="url(#r232)" stroke="url(#r232)" stroke-width="0.35"/><polygon points="278.74,267.77 401.32,233.04 401.82,233.24 279.24,267.85" fill="url(#r233)" stroke="url(#r233)" stroke-width="0.35"/><polygon points="279.24,267.85 401.82,233.24 402.33,233.47 279.75,267.94" fill="url(#r234)" stroke="url(#r234)" stroke-width="0.35"/><polygon points="279.75,267.94 402.33,233.47 402.84,233.72 280.26,268.04" fill="url(#r235)" stroke="url(#r235)" stroke-width="0.35"/><polygon points="280.26,268.04 402.84,233.72 403.34,234 280.76,268.16" fill="url(#r236)" stroke="url(#r236)" stroke-width="0.35"/><polygon points="280.76,268.16 403.34,234 403.85,234.31 281.27,268.3" fill="url(#r237)" stroke="url(#r237)" stroke-width="0.35"/><polygon points="281.27,268.3 403.85,234.31 404.35,234.64 281.78,268.46" fill="url(#r238)" stroke="url(#r238)" stroke-width="0.35"/><polygon points="281.78,268.46 404.35,234.64 404.86,235 282.28,268.65" fill="url(#r239)" stroke="url(#r239)" stroke-width="0.35"/><polygon points="282.28,268.65 404.86,235 405.36,235.39 282.79,268.87" fill="url(#r240)" stroke="url(#r240)" stroke-width="0.35"/><polygon points="282.79,268.87 405.36,235.39 405.87,235.8 283.29,269.11" fill="url(#r241)" stroke="url(#r241)" stroke-width="0.35"/><polygon points="283.29,269.11 405.87,235.8 406.37,235.8 283.8,269.19" fill="url(#r242)" stroke="url(#r242)" stroke-width="0.35"/><polygon points="283.8,269.19 406.37,235.8 406.88,235.65 284.31,269.24" fill="url(#r243)" stroke="url(#r243)" stroke-width="0.35"/><polygon points="284.31,269.24 406.88,235.65 407.38,235.54 284.81,269.31" fill="url(#r244)" stroke="url(#r244)" stroke-width="0.35"/><polygon points="284.81,269.31 407.38,235.54 407.89,235.45 285.32,269.4" fill="url(#r245)" stroke="url(#r245)" stroke-width="0.35"/><polygon points="285.32,269.4 407.89,235.45 408.39,235.39 285.83,269.53" fill="url(#r246)" stroke="url(#r246)" stroke-width="0.35"/><polygon points="285.83,269.53 408.39,235.39 408.9,235.36 286.33,269.67" fill="url(#r247)" stroke="url(#r247)" stroke-width="0.35"/><polygon points="286.33,269.67 408.9,235.36 409.41,235.36 286.84,269.83" fill="url(#r248)" stroke="url(#r248)" stroke-width="0.35"/><polygon points="286.84,269.83 409.41,235.36 409.91,235.37 287.34,270.01" fill="url(#r249)" stroke="url(#r249)" stroke-width="0.35"/><polygon points="287.34,270.01 409.91,235.37 410.42,235.42 287.85,270.2" fill="url(#r250)" stroke="url(#r250)" stroke-width="0.35"/><polygon points="287.85,270.2 410.42,235.42 410.92,235.4 288.36,270.32" fill="url(#r251)" stroke="url(#r251)" stroke-width="0.35"/><polygon points="288.36,270.32 410.92,235.4 411.43,235.18 288.86,270.23" fill="url(#r252)" stroke="url(#r252)" stroke-width="0.35"/><polygon points="288.86,270.23 411.43,235.18 411.93,234.98 289.37,270.14" fill="url(#r253)" stroke="url(#r253)" stroke-width="0.35"/><polygon points="289.37,270.14 411.93,234.98 412.44,234.81 289.88,270.08" fill="url(#r254)" stroke="url(#r254)" stroke-width="0.35"/><polygon points="289.88,270.08 412.44,234.81 412.94,234.67 290.38,270.04" fill="url(#r255)" stroke="url(#r255)" stroke-width="0.35"/><polygon points="290.38,270.04 412.94,234.67 413.45,234.58 290.89,270.02" fill="url(#r256)" stroke="url(#r256)" stroke-width="0.35"/><polygon points="290.89,270.02 413.45,234.58 413.95,234.53 291.39,270.03" fill="url(#r257)" stroke="url(#r257)" stroke-width="0.35"/><polygon points="291.39,270.03 413.95,234.53 414.46,234.52 291.9,270.07" fill="url(#r258)" stroke="url(#r258)" stroke-width="0.35"/><polygon points="291.9,270.07 414.46,234.52 414.97,234.56 292.41,270.14" fill="url(#r259)" stroke="url(#r259)" stroke-width="0.35"/><polygon points="292.41,270.14 414.97,234.56 415.47,234.66 292.91,270.25" fill="url(#r260)" stroke="url(#r260)" stroke-width="0.35"/><polygon points="292.91,270.25 415.47,234.66 415.98,234.8 293.42,270.4" fill="url(#r261)" stroke="url(#r261)" stroke-width="0.35"/><polygon points="293.42,270.4 415.98,234.8 416.48,234.99 293.93,270.58" fill="url(#r262)" stroke="url(#r262)" stroke-width="0.35"/><polygon points="293.93,270.58 416.48,234.99 416.99,235.23 294.43,270.8" fill="url(#r263)" stroke="url(#r263)" stroke-width="0.35"/><polygon points="294.43,270.8 416.99,235.23 417.49,235.52 294.94,271.04" fill="url(#r264)" stroke="url(#r264)" stroke-width="0.35"/><polygon points="294.94,271.04 417.49,235.52 418,235.86 295.44,271.32" fill="url(#r265)" stroke="url(#r265)" stroke-width="0.35"/><polygon points="295.44,271.32 418,235.86 418.5,236.24 295.95,271.63" fill="url(#r266)" stroke="url(#r266)" stroke-width="0.35"/><polygon points="295.95,271.63 418.5,236.24 419.01,236.65 296.46,271.96" fill="url(#r267)" stroke="url(#r267)" stroke-width="0.35"/><polygon points="296.46,271.96 419.01,236.65 419.51,237.09 296.96,272.3" fill="url(#r268)" stroke="url(#r268)" stroke-width="0.35"/><polygon points="296.96,272.3 419.51,237.09 420.02,237.57 297.47,272.67" fill="url(#r269)" stroke="url(#r269)" stroke-width="0.35"/><polygon points="297.47,272.67 420.02,237.57 420.52,237.98 297.98,272.96" fill="url(#r270)" stroke="url(#r270)" stroke-width="0.35"/><polygon points="297.98,272.96 420.52,237.98 421.03,238.19 298.48,273.04" fill="url(#r271)" stroke="url(#r271)" stroke-width="0.35"/><polygon points="298.48,273.04 421.03,238.19 421.54,238.42 298.99,273.13" fill="url(#r272)" stroke="url(#r272)" stroke-width="0.35"/><polygon points="298.99,273.13 421.54,238.42 422.04,238.67 299.49,273.23" fill="url(#r273)" stroke="url(#r273)" stroke-width="0.35"/><polygon points="299.49,273.23 422.04,238.67 422.55,238.95 300,273.35" fill="url(#r274)" stroke="url(#r274)" stroke-width="0.35"/><polygon points="300,273.35 422.55,238.95 423.05,239.25 300.51,273.49" fill="url(#r275)" stroke="url(#r275)" stroke-width="0.35"/><polygon points="300.51,273.49 423.05,239.25 423.56,239.59 301.01,273.66" fill="url(#r276)" stroke="url(#r276)" stroke-width="0.35"/><polygon points="301.01,273.66 423.56,239.59 424.06,239.95 301.52,273.85" fill="url(#r277)" stroke="url(#r277)" stroke-width="0.35"/><polygon points="301.52,273.85 424.06,239.95 424.57,240.34 302.03,274.06" fill="url(#r278)" stroke="url(#r278)" stroke-width="0.35"/><polygon points="302.03,274.06 424.57,240.34 425.07,240.76 302.53,274.3" fill="url(#r279)" stroke="url(#r279)" stroke-width="0.35"/><polygon points="302.53,274.3 425.07,240.76 425.58,240.72 303.04,274.38" fill="url(#r280)" stroke="url(#r280)" stroke-width="0.35"/><polygon points="303.04,274.38 425.58,240.72 426.08,240.58 303.54,274.43" fill="url(#r281)" stroke="url(#r281)" stroke-width="0.35"/><polygon points="303.54,274.43 426.08,240.58 426.59,240.47 304.05,274.5" fill="url(#r282)" stroke="url(#r282)" stroke-width="0.35"/><polygon points="304.05,274.5 426.59,240.47 427.1,240.38 304.56,274.6" fill="url(#r283)" stroke="url(#r283)" stroke-width="0.35"/><polygon points="304.56,274.6 427.1,240.38 427.6,240.32 305.06,274.72" fill="url(#r284)" stroke="url(#r284)" stroke-width="0.35"/><polygon points="305.06,274.72 427.6,240.32 428.11,240.29 305.57,274.86" fill="url(#r285)" stroke="url(#r285)" stroke-width="0.35"/><polygon points="305.57,274.86 428.11,240.29 428.61,240.29 306.08,275.02" fill="url(#r286)" stroke="url(#r286)" stroke-width="0.35"/><polygon points="306.08,275.02 428.61,240.29 429.12,240.31 306.58,275.2" fill="url(#r287)" stroke="url(#r287)" stroke-width="0.35"/><polygon points="306.58,275.2 429.12,240.31 429.62,240.35 307.09,275.39" fill="url(#r288)" stroke="url(#r288)" stroke-width="0.35"/><polygon points="307.09,275.39 429.62,240.35 430.13,240.33 307.59,275.51" fill="url(#r289)" stroke="url(#r289)" stroke-width="0.35"/><polygon points="307.59,275.51 430.13,240.33 430.63,240.1 308.1,275.41" fill="url(#r290)" stroke="url(#r290)" stroke-width="0.35"/><polygon points="308.1,275.41 430.63,240.1 431.14,239.9 308.61,275.33" fill="url(#r291)" stroke="url(#r291)" stroke-width="0.35"/><polygon points="308.61,275.33 431.14,239.9 431.64,239.74 309.11,275.26" fill="url(#r292)" stroke="url(#r292)" stroke-width="0.35"/><polygon points="309.11,275.26 431.64,239.74 432.15,239.6 309.62,275.22" fill="url(#r293)" stroke="url(#r293)" stroke-width="0.35"/><polygon points="309.62,275.22 432.15,239.6 432.65,239.51 310.12,275.2" fill="url(#r294)" stroke="url(#r294)" stroke-width="0.35"/><polygon points="310.12,275.2 432.65,239.51 433.16,239.46 310.63,275.21" fill="url(#r295)" stroke="url(#r295)" stroke-width="0.35"/><polygon points="310.63,275.21 433.16,239.46 433.67,239.46 311.14,275.26" fill="url(#r296)" stroke="url(#r296)" stroke-width="0.35"/><polygon points="311.14,275.26 433.67,239.46 434.17,239.5 311.64,275.34" fill="url(#r297)" stroke="url(#r297)" stroke-width="0.35"/><polygon points="311.64,275.34 434.17,239.5 434.68,239.59 312.15,275.45" fill="url(#r298)" stroke="url(#r298)" stroke-width="0.35"/><polygon points="312.15,275.45 434.68,239.59 435.18,239.74 312.66,275.6" fill="url(#r299)" stroke="url(#r299)" stroke-width="0.35"/><polygon points="312.66,275.6 435.18,239.74 435.69,239.94 313.16,275.78" fill="url(#r300)" stroke="url(#r300)" stroke-width="0.35"/><polygon points="313.16,275.78 435.69,239.94 436.19,240.18 313.67,275.99" fill="url(#r301)" stroke="url(#r301)" stroke-width="0.35"/><polygon points="313.67,275.99 436.19,240.18 436.7,240.47 314.18,276.24" fill="url(#r302)" stroke="url(#r302)" stroke-width="0.35"/><polygon points="314.18,276.24 436.7,240.47 437.2,240.81 314.68,276.52" fill="url(#r303)" stroke="url(#r303)" stroke-width="0.35"/><polygon points="314.68,276.52 437.2,240.81 437.71,241.19 315.19,276.83" fill="url(#r304)" stroke="url(#r304)" stroke-width="0.35"/><polygon points="315.19,276.83 437.71,241.19 438.21,241.6 315.69,277.16" fill="url(#r305)" stroke="url(#r305)" stroke-width="0.35"/><polygon points="315.69,277.16 438.21,241.6 438.72,242.05 316.2,277.51" fill="url(#r306)" stroke="url(#r306)" stroke-width="0.35"/><polygon points="316.2,277.51 438.72,242.05 439.23,242.52 316.71,277.87" fill="url(#r307)" stroke="url(#r307)" stroke-width="0.35"/><polygon points="316.71,277.87 439.23,242.52 439.73,242.92 317.21,278.15" fill="url(#r308)" stroke="url(#r308)" stroke-width="0.35"/><polygon points="317.21,278.15 439.73,242.92 440.24,243.13 317.72,278.23" fill="url(#r309)" stroke="url(#r309)" stroke-width="0.35"/><polygon points="317.72,278.23 440.24,243.13 440.74,243.36 318.23,278.32" fill="url(#r310)" stroke="url(#r310)" stroke-width="0.35"/><polygon points="318.23,278.32 440.74,243.36 441.25,243.62 318.73,278.42" fill="url(#r311)" stroke="url(#r311)" stroke-width="0.35"/><polygon points="318.73,278.42 441.25,243.62 441.75,243.9 319.24,278.54" fill="url(#r312)" stroke="url(#r312)" stroke-width="0.35"/><polygon points="319.24,278.54 441.75,243.9 442.26,244.2 319.74,278.69" fill="url(#r313)" stroke="url(#r313)" stroke-width="0.35"/><polygon points="319.74,278.69 442.26,244.2 442.76,244.54 320.25,278.85" fill="url(#r314)" stroke="url(#r314)" stroke-width="0.35"/><polygon points="320.25,278.85 442.76,244.54 443.27,244.9 320.76,279.04" fill="url(#r315)" stroke="url(#r315)" stroke-width="0.35"/><polygon points="320.76,279.04 443.27,244.9 443.77,245.29 321.26,279.26" fill="url(#r316)" stroke="url(#r316)" stroke-width="0.35"/><polygon points="321.26,279.26 443.77,245.29 444.28,245.71 321.77,279.5" fill="url(#r317)" stroke="url(#r317)" stroke-width="0.35"/><polygon points="321.77,279.5 444.28,245.71 444.78,245.65 322.28,279.57" fill="url(#r318)" stroke="url(#r318)" stroke-width="0.35"/><polygon points="322.28,279.57 444.78,245.65 445.29,245.51 322.78,279.62" fill="url(#r319)" stroke="url(#r319)" stroke-width="0.35"/><polygon points="322.78,279.62 445.29,245.51 445.8,245.4 323.29,279.69" fill="url(#r320)" stroke="url(#r320)" stroke-width="0.35"/><polygon points="323.29,279.69 445.8,245.4 446.3,245.31 323.79,279.79" fill="url(#r321)" stroke="url(#r321)" stroke-width="0.35"/><polygon points="323.79,279.79 446.3,245.31 446.81,245.25 324.3,279.91" fill="url(#r322)" stroke="url(#r322)" stroke-width="0.35"/><polygon points="324.3,279.91 446.81,245.25 447.31,245.23 324.81,280.05" fill="url(#r323)" stroke="url(#r323)" stroke-width="0.35"/><polygon points="324.81,280.05 447.31,245.23 447.82,245.22 325.31,280.22" fill="url(#r324)" stroke="url(#r324)" stroke-width="0.35"/><polygon points="325.31,280.22 447.82,245.22 448.32,245.24 325.82,280.4" fill="url(#r325)" stroke="url(#r325)" stroke-width="0.35"/><polygon points="325.82,280.4 448.32,245.24 448.83,245.29 326.33,280.59" fill="url(#r326)" stroke="url(#r326)" stroke-width="0.35"/><polygon points="326.33,280.59 448.83,245.29 449.33,245.25 326.83,280.69" fill="url(#r327)" stroke="url(#r327)" stroke-width="0.35"/><polygon points="326.83,280.69 449.33,245.25 449.84,245.03 327.34,280.59" fill="url(#r328)" stroke="url(#r328)" stroke-width="0.35"/><polygon points="327.34,280.59 449.84,245.03 450.34,244.83 327.84,280.51" fill="url(#r329)" stroke="url(#r329)" stroke-width="0.35"/><polygon points="327.84,280.51 450.34,244.83 450.85,244.66 328.35,280.45" fill="url(#r330)" stroke="url(#r330)" stroke-width="0.35"/><polygon points="328.35,280.45 450.85,244.66 451.36,244.53 328.86,280.4" fill="url(#r331)" stroke="url(#r331)" stroke-width="0.35"/><polygon points="328.86,280.4 451.36,244.53 451.86,244.44 329.36,280.39" fill="url(#r332)" stroke="url(#r332)" stroke-width="0.35"/><polygon points="329.36,280.39 451.86,244.44 452.37,244.39 329.87,280.4" fill="url(#r333)" stroke="url(#r333)" stroke-width="0.35"/><polygon points="329.87,280.4 452.37,244.39 452.87,244.39 330.38,280.45" fill="url(#r334)" stroke="url(#r334)" stroke-width="0.35"/><polygon points="330.38,280.45 452.87,244.39 453.38,244.44 330.88,280.53" fill="url(#r335)" stroke="url(#r335)" stroke-width="0.35"/><polygon points="330.88,280.53 453.38,244.44 453.88,244.53 331.39,280.64" fill="url(#r336)" stroke="url(#r336)" stroke-width="0.35"/><polygon points="331.39,280.64 453.88,244.53 454.39,244.68 331.89,280.79" fill="url(#r337)" stroke="url(#r337)" stroke-width="0.35"/><polygon points="331.89,280.79 454.39,244.68 454.89,244.88 332.4,280.97" fill="url(#r338)" stroke="url(#r338)" stroke-width="0.35"/><polygon points="332.4,280.97 454.89,244.88 455.4,245.13 332.91,281.19" fill="url(#r339)" stroke="url(#r339)" stroke-width="0.35"/><polygon points="332.91,281.19 455.4,245.13 455.9,245.42 333.41,281.44" fill="url(#r340)" stroke="url(#r340)" stroke-width="0.35"/><polygon points="333.41,281.44 455.9,245.42 456.41,245.76 333.92,281.72" fill="url(#r341)" stroke="url(#r341)" stroke-width="0.35"/><polygon points="333.92,281.72 456.41,245.76 456.91,246.14 334.43,282.03" fill="url(#r342)" stroke="url(#r342)" stroke-width="0.35"/><polygon points="334.43,282.03 456.91,246.14 457.42,246.56 334.93,282.36" fill="url(#r343)" stroke="url(#r343)" stroke-width="0.35"/><polygon points="334.93,282.36 457.42,246.56 457.93,247.01 335.44,282.71" fill="url(#r344)" stroke="url(#r344)" stroke-width="0.35"/><polygon points="335.44,282.71 457.93,247.01 458.43,247.48 335.94,283.08" fill="url(#r345)" stroke="url(#r345)" stroke-width="0.35"/><polygon points="335.94,283.08 458.43,247.48 458.94,247.87 336.45,283.34" fill="url(#r346)" stroke="url(#r346)" stroke-width="0.35"/><polygon points="336.45,283.34 458.94,247.87 459.44,248.08 336.96,283.42" fill="url(#r347)" stroke="url(#r347)" stroke-width="0.35"/><polygon points="336.96,283.42 459.44,248.08 459.95,248.31 337.46,283.51" fill="url(#r348)" stroke="url(#r348)" stroke-width="0.35"/><polygon points="337.46,283.51 459.95,248.31 460.45,248.56 337.97,283.61" fill="url(#r349)" stroke="url(#r349)" stroke-width="0.35"/><polygon points="337.97,283.61 460.45,248.56 460.96,248.84 338.48,283.74" fill="url(#r350)" stroke="url(#r350)" stroke-width="0.35"/><polygon points="338.48,283.74 460.96,248.84 461.46,249.15 338.98,283.88" fill="url(#r351)" stroke="url(#r351)" stroke-width="0.35"/><polygon points="338.98,283.88 461.46,249.15 461.97,249.49 339.49,284.05" fill="url(#r352)" stroke="url(#r352)" stroke-width="0.35"/><polygon points="339.49,284.05 461.97,249.49 462.47,249.85 339.99,284.24" fill="url(#r353)" stroke="url(#r353)" stroke-width="0.35"/><polygon points="339.99,284.24 462.47,249.85 462.98,250.25 340.5,284.46" fill="url(#r354)" stroke="url(#r354)" stroke-width="0.35"/><polygon points="340.5,284.46 462.98,250.25 463.49,250.67 341.01,284.7" fill="url(#r355)" stroke="url(#r355)" stroke-width="0.35"/><polygon points="341.01,284.7 463.49,250.67 463.99,250.57 341.51,284.76" fill="url(#r356)" stroke="url(#r356)" stroke-width="0.35"/><polygon points="341.51,284.76 463.99,250.57 464.5,250.44 342.02,284.81" fill="url(#r357)" stroke="url(#r357)" stroke-width="0.35"/><polygon points="342.02,284.81 464.5,250.44 465,250.32 342.53,284.88" fill="url(#r358)" stroke="url(#r358)" stroke-width="0.35"/><polygon points="342.53,284.88 465,250.32 465.51,250.24 343.03,284.98" fill="url(#r359)" stroke="url(#r359)" stroke-width="0.35"/><polygon points="343.03,284.98 465.51,250.24 466.01,250.19 343.54,285.1" fill="url(#r360)" stroke="url(#r360)" stroke-width="0.35"/><polygon points="343.54,285.1 466.01,250.19 466.52,250.16 344.04,285.25" fill="url(#r361)" stroke="url(#r361)" stroke-width="0.35"/><polygon points="344.04,285.25 466.52,250.16 467.02,250.16 344.55,285.41" fill="url(#r362)" stroke="url(#r362)" stroke-width="0.35"/><polygon points="344.55,285.41 467.02,250.16 467.53,250.18 345.06,285.59" fill="url(#r363)" stroke="url(#r363)" stroke-width="0.35"/><polygon points="345.06,285.59 467.53,250.18 468.03,250.22 345.56,285.79" fill="url(#r364)" stroke="url(#r364)" stroke-width="0.35"/><polygon points="345.56,285.79 468.03,250.22 468.54,250.17 346.07,285.87" fill="url(#r365)" stroke="url(#r365)" stroke-width="0.35"/><polygon points="346.07,285.87 468.54,250.17 469.05,249.95 346.58,285.77" fill="url(#r366)" stroke="url(#r366)" stroke-width="0.35"/><polygon points="346.58,285.77 469.05,249.95 469.55,249.75 347.08,285.69" fill="url(#r367)" stroke="url(#r367)" stroke-width="0.35"/><polygon points="347.08,285.69 469.55,249.75 470.06,249.59 347.59,285.63" fill="url(#r368)" stroke="url(#r368)" stroke-width="0.35"/><polygon points="347.59,285.63 470.06,249.59 470.56,249.46 348.09,285.59" fill="url(#r369)" stroke="url(#r369)" stroke-width="0.35"/><polygon points="348.09,285.59 470.56,249.46 471.07,249.37 348.6,285.58" fill="url(#r370)" stroke="url(#r370)" stroke-width="0.35"/><polygon points="348.6,285.58 471.07,249.37 471.57,249.32 349.11,285.59" fill="url(#r371)" stroke="url(#r371)" stroke-width="0.35"/><polygon points="349.11,285.59 471.57,249.32 472.08,249.32 349.61,285.64" fill="url(#r372)" stroke="url(#r372)" stroke-width="0.35"/><polygon points="349.61,285.64 472.08,249.32 472.58,249.37 350.12,285.72" fill="url(#r373)" stroke="url(#r373)" stroke-width="0.35"/><polygon points="350.12,285.72 472.58,249.37 473.09,249.47 350.63,285.83" fill="url(#r374)" stroke="url(#r374)" stroke-width="0.35"/><polygon points="350.63,285.83 473.09,249.47 473.59,249.62 351.13,285.98" fill="url(#r375)" stroke="url(#r375)" stroke-width="0.35"/><polygon points="351.13,285.98 473.59,249.62 474.1,249.82 351.64,286.17" fill="url(#r376)" stroke="url(#r376)" stroke-width="0.35"/><polygon points="351.64,286.17 474.1,249.82 474.6,250.07 352.14,286.39" fill="url(#r377)" stroke="url(#r377)" stroke-width="0.35"/><polygon points="352.14,286.39 474.6,250.07 475.11,250.37 352.65,286.64" fill="url(#r378)" stroke="url(#r378)" stroke-width="0.35"/><polygon points="352.65,286.64 475.11,250.37 475.62,250.71 353.16,286.92" fill="url(#r379)" stroke="url(#r379)" stroke-width="0.35"/><polygon points="353.16,286.92 475.62,250.71 476.12,251.09 353.66,287.23" fill="url(#r380)" stroke="url(#r380)" stroke-width="0.35"/><polygon points="353.66,287.23 476.12,251.09 476.63,251.51 354.17,287.57" fill="url(#r381)" stroke="url(#r381)" stroke-width="0.35"/><polygon points="354.17,287.57 476.63,251.51 477.13,251.96 354.68,287.92" fill="url(#r382)" stroke="url(#r382)" stroke-width="0.35"/><polygon points="354.68,287.92 477.13,251.96 477.64,252.44 355.18,288.28" fill="url(#r383)" stroke="url(#r383)" stroke-width="0.35"/><polygon points="355.18,288.28 477.64,252.44 478.14,252.81 355.69,288.53" fill="url(#r384)" stroke="url(#r384)" stroke-width="0.35"/><polygon points="355.69,288.53 478.14,252.81 478.65,253.02 356.19,288.61" fill="url(#r385)" stroke="url(#r385)" stroke-width="0.35"/><polygon points="356.19,288.61 478.65,253.02 479.15,253.25 356.7,288.7" fill="url(#r386)" stroke="url(#r386)" stroke-width="0.35"/><polygon points="356.7,288.7 479.15,253.25 479.66,253.51 357.21,288.81" fill="url(#r387)" stroke="url(#r387)" stroke-width="0.35"/><polygon points="357.21,288.81 479.66,253.51 480.16,253.79 357.71,288.93" fill="url(#r388)" stroke="url(#r388)" stroke-width="0.35"/><polygon points="357.71,288.93 480.16,253.79 480.67,254.1 358.22,289.08" fill="url(#r389)" stroke="url(#r389)" stroke-width="0.35"/><polygon points="358.22,289.08 480.67,254.1 481.18,254.44 358.73,289.24" fill="url(#r390)" stroke="url(#r390)" stroke-width="0.35"/><polygon points="358.73,289.24 481.18,254.44 481.68,254.81 359.23,289.44" fill="url(#r391)" stroke="url(#r391)" stroke-width="0.35"/><polygon points="359.23,289.44 481.68,254.81 482.19,255.2 359.74,289.66" fill="url(#r392)" stroke="url(#r392)" stroke-width="0.35"/><polygon points="359.74,289.66 482.19,255.2 482.69,255.62 360.24,289.9" fill="url(#r393)" stroke="url(#r393)" stroke-width="0.35"/><polygon points="360.24,289.9 482.69,255.62 483.2,255.5 360.75,289.94" fill="url(#r394)" stroke="url(#r394)" stroke-width="0.35"/><polygon points="360.75,289.94 483.2,255.5 483.7,255.36 361.26,289.99" fill="url(#r395)" stroke="url(#r395)" stroke-width="0.35"/><polygon points="361.26,289.99 483.7,255.36 484.21,255.25 361.76,290.07" fill="url(#r396)" stroke="url(#r396)" stroke-width="0.35"/><polygon points="361.76,290.07 484.21,255.25 484.71,255.17 362.27,290.17" fill="url(#r397)" stroke="url(#r397)" stroke-width="0.35"/><polygon points="362.27,290.17 484.71,255.17 485.22,255.12 362.78,290.3" fill="url(#r398)" stroke="url(#r398)" stroke-width="0.35"/><polygon points="362.78,290.3 485.22,255.12 485.72,255.09 363.28,290.44" fill="url(#r399)" stroke="url(#r399)" stroke-width="0.35"/><polygon points="363.28,290.44 485.72,255.09 486.23,255.09 363.79,290.61" fill="url(#r400)" stroke="url(#r400)" stroke-width="0.35"/><polygon points="363.79,290.61 486.23,255.09 486.73,255.11 364.29,290.79" fill="url(#r401)" stroke="url(#r401)" stroke-width="0.35"/><polygon points="364.29,290.79 486.73,255.11 487.24,255.16 364.8,290.98" fill="url(#r402)" stroke="url(#r402)" stroke-width="0.35"/><polygon points="364.8,290.98 487.24,255.16 487.75,255.09 365.31,291.05" fill="url(#r403)" stroke="url(#r403)" stroke-width="0.35"/><polygon points="365.31,291.05 487.75,255.09 488.25,254.87 365.81,290.96" fill="url(#r404)" stroke="url(#r404)" stroke-width="0.35"/><polygon points="365.81,290.96 488.25,254.87 488.76,254.68 366.32,290.88" fill="url(#r405)" stroke="url(#r405)" stroke-width="0.35"/><polygon points="366.32,290.88 488.76,254.68 489.26,254.51 366.83,290.81" fill="url(#r406)" stroke="url(#r406)" stroke-width="0.35"/><polygon points="366.83,290.81 489.26,254.51 489.77,254.39 367.33,290.78" fill="url(#r407)" stroke="url(#r407)" stroke-width="0.35"/><polygon points="367.33,290.78 489.77,254.39 490.27,254.3 367.84,290.76" fill="url(#r408)" stroke="url(#r408)" stroke-width="0.35"/><polygon points="367.84,290.76 490.27,254.3 490.78,254.26 368.34,290.78" fill="url(#r409)" stroke="url(#r409)" stroke-width="0.35"/><polygon points="368.34,290.78 490.78,254.26 491.28,254.26 368.85,290.83" fill="url(#r410)" stroke="url(#r410)" stroke-width="0.35"/><polygon points="368.85,290.83 491.28,254.26 491.79,254.31 369.36,290.91" fill="url(#r411)" stroke="url(#r411)" stroke-width="0.35"/><polygon points="369.36,290.91 491.79,254.31 492.29,254.41 369.86,291.03" fill="url(#r412)" stroke="url(#r412)" stroke-width="0.35"/><polygon points="369.86,291.03 492.29,254.41 492.8,254.57 370.37,291.18" fill="url(#r413)" stroke="url(#r413)" stroke-width="0.35"/><polygon points="370.37,291.18 492.8,254.57 493.31,254.77 370.88,291.37" fill="url(#r414)" stroke="url(#r414)" stroke-width="0.35"/><polygon points="370.88,291.37 493.31,254.77 493.81,255.02 371.38,291.59" fill="url(#r415)" stroke="url(#r415)" stroke-width="0.35"/><polygon points="371.38,291.59 493.81,255.02 494.32,255.32 371.89,291.84" fill="url(#r416)" stroke="url(#r416)" stroke-width="0.35"/><polygon points="371.89,291.84 494.32,255.32 494.82,255.66 372.39,292.13" fill="url(#r417)" stroke="url(#r417)" stroke-width="0.35"/><polygon points="372.39,292.13 494.82,255.66 495.33,256.05 372.9,292.44" fill="url(#r418)" stroke="url(#r418)" stroke-width="0.35"/><polygon points="372.9,292.44 495.33,256.05 495.83,256.47 373.41,292.77" fill="url(#r419)" stroke="url(#r419)" stroke-width="0.35"/><polygon points="373.41,292.77 495.83,256.47 496.34,256.92 373.91,293.12" fill="url(#r420)" stroke="url(#r420)" stroke-width="0.35"/><polygon points="373.91,293.12 496.34,256.92 496.84,257.4 374.42,293.49" fill="url(#r421)" stroke="url(#r421)" stroke-width="0.35"/><polygon points="374.42,293.49 496.84,257.4 497.35,257.75 374.93,293.72" fill="url(#r422)" stroke="url(#r422)" stroke-width="0.35"/><polygon points="374.93,293.72 497.35,257.75 497.85,257.97 375.43,293.8" fill="url(#r423)" stroke="url(#r423)" stroke-width="0.35"/><polygon points="375.43,293.8 497.85,257.97 498.36,258.2 375.94,293.89" fill="url(#r424)" stroke="url(#r424)" stroke-width="0.35"/><polygon points="375.94,293.89 498.36,258.2 498.86,258.46 376.44,294" fill="url(#r425)" stroke="url(#r425)" stroke-width="0.35"/><polygon points="376.44,294 498.86,258.46 499.37,258.74 376.95,294.12" fill="url(#r426)" stroke="url(#r426)" stroke-width="0.35"/><polygon points="376.95,294.12 499.37,258.74 499.88,259.05 377.46,294.27" fill="url(#r427)" stroke="url(#r427)" stroke-width="0.35"/><polygon points="377.46,294.27 499.88,259.05 500.38,259.39 377.96,294.44" fill="url(#r428)" stroke="url(#r428)" stroke-width="0.35"/><polygon points="377.96,294.44 500.38,259.39 500.89,259.76 378.47,294.63" fill="url(#r429)" stroke="url(#r429)" stroke-width="0.35"/><polygon points="378.47,294.63 500.89,259.76 501.39,260.15 378.98,294.85" fill="url(#r430)" stroke="url(#r430)" stroke-width="0.35"/><polygon points="378.98,294.85 501.39,260.15 501.9,260.58 379.48,295.1" fill="url(#r431)" stroke="url(#r431)" stroke-width="0.35"/><polygon points="379.48,295.1 501.9,260.58 502.4,260.43 379.99,295.13" fill="url(#r432)" stroke="url(#r432)" stroke-width="0.35"/><polygon points="379.99,295.13 502.4,260.43 502.91,260.29 380.49,295.18" fill="url(#r433)" stroke="url(#r433)" stroke-width="0.35"/><polygon points="380.49,295.18 502.91,260.29 503.41,260.18 381,295.26" fill="url(#r434)" stroke="url(#r434)" stroke-width="0.35"/><polygon points="381,295.26 503.41,260.18 503.92,260.1 381.51,295.36" fill="url(#r435)" stroke="url(#r435)" stroke-width="0.35"/><polygon points="381.51,295.36 503.92,260.1 504.42,260.05 382.01,295.49" fill="url(#r436)" stroke="url(#r436)" stroke-width="0.35"/><polygon points="382.01,295.49 504.42,260.05 504.93,260.02 382.52,295.64" fill="url(#r437)" stroke="url(#r437)" stroke-width="0.35"/><polygon points="382.52,295.64 504.93,260.02 505.44,260.02 383.03,295.8" fill="url(#r438)" stroke="url(#r438)" stroke-width="0.35"/><polygon points="383.03,295.8 505.44,260.02 505.94,260.05 383.53,295.98" fill="url(#r439)" stroke="url(#r439)" stroke-width="0.35"/><polygon points="383.53,295.98 505.94,260.05 506.45,260.1 384.04,296.18" fill="url(#r440)" stroke="url(#r440)" stroke-width="0.35"/><polygon points="384.04,296.18 506.45,260.1 506.95,260.01 384.54,296.23" fill="url(#r441)" stroke="url(#r441)" stroke-width="0.35"/><polygon points="384.54,296.23 506.95,260.01 507.46,259.79 385.05,296.14" fill="url(#r442)" stroke="url(#r442)" stroke-width="0.35"/><polygon points="385.05,296.14 507.46,259.79 507.96,259.6 385.56,296.06" fill="url(#r443)" stroke="url(#r443)" stroke-width="0.35"/><polygon points="385.56,296.06 507.96,259.6 508.47,259.44 386.06,296" fill="url(#r444)" stroke="url(#r444)" stroke-width="0.35"/><polygon points="386.06,296 508.47,259.44 508.97,259.31 386.57,295.96" fill="url(#r445)" stroke="url(#r445)" stroke-width="0.35"/><polygon points="386.57,295.96 508.97,259.31 509.48,259.23 387.08,295.95" fill="url(#r446)" stroke="url(#r446)" stroke-width="0.35"/><polygon points="387.08,295.95 509.48,259.23 509.98,259.19 387.58,295.97" fill="url(#r447)" stroke="url(#r447)" stroke-width="0.35"/><polygon points="387.58,295.97 509.98,259.19 510.49,259.19 388.09,296.02" fill="url(#r448)" stroke="url(#r448)" stroke-width="0.35"/><polygon points="388.09,296.02 510.49,259.19 510.99,259.25 388.59,296.1" fill="url(#r449)" stroke="url(#r449)" stroke-width="0.35"/><polygon points="388.59,296.1 510.99,259.25 511.5,259.35 389.1,296.22" fill="url(#r450)" stroke="url(#r450)" stroke-width="0.35"/><line x1="267.6" y1="286.8" x2="267.6" y2="231.3" stroke="#333" stroke-width="0.8" /><line x1="267.6" y1="231.3" x2="390.2" y2="200.2" stroke="#333" stroke-width="0.8" /><line x1="390.2" y1="200.2" x2="511.5" y2="230.9" stroke="#333" stroke-width="0.8" /><line x1="511.5" y1="230.9" x2="511.5" y2="286.4" stroke="#333" stroke-width="0.8" /><line x1="389.1" y1="319.1" x2="267.6" y2="286.8" stroke="#333" stroke-width="0.8" /><line x1="389.1" y1="319.1" x2="511.5" y2="286.4" stroke="#333" stroke-width="0.8" /><line x1="267.6" y1="286.8" x2="265.8" y2="287.3" stroke="#333" stroke-width="0.6" /><text x="263" y="288.3" font-size="6.0" text-anchor="end" fill="#262626" >65</text><line x1="267.6" y1="268.3" x2="265.8" y2="268.8" stroke="#333" stroke-width="0.6" /><text x="263" y="269.8" font-size="6.0" text-anchor="end" fill="#262626" >66</text><line x1="267.6" y1="249.8" x2="265.8" y2="250.3" stroke="#333" stroke-width="0.6" /><text x="263" y="251.3" font-size="6.0" text-anchor="end" fill="#262626" >67</text><line x1="267.6" y1="231.3" x2="265.8" y2="231.8" stroke="#333" stroke-width="0.6" /><text x="263" y="232.8" font-size="6.0" text-anchor="end" fill="#262626" >68</text><line x1="389.1" y1="319.1" x2="390.3" y2="320.7" stroke="#333" stroke-width="0.6" /><text x="396.9" y="327" font-size="6.0" text-anchor="middle" fill="#262626" >0</text><line x1="416" y1="311.91" x2="417.2" y2="313.51" stroke="#333" stroke-width="0.6" /><text x="423.8" y="319.81" font-size="6.0" text-anchor="middle" fill="#262626" >2</text><line x1="442.9" y1="304.73" x2="444.1" y2="306.33" stroke="#333" stroke-width="0.6" /><text x="450.7" y="312.63" font-size="6.0" text-anchor="middle" fill="#262626" >4</text><line x1="469.8" y1="297.54" x2="471" y2="299.14" stroke="#333" stroke-width="0.6" /><text x="477.6" y="305.44" font-size="6.0" text-anchor="middle" fill="#262626" >6</text><line x1="496.7" y1="290.35" x2="497.9" y2="291.95" stroke="#333" stroke-width="0.6" /><text x="504.5" y="298.25" font-size="6.0" text-anchor="middle" fill="#262626" >8</text><line x1="389.1" y1="319.1" x2="387.9" y2="320.7" stroke="#333" stroke-width="0.6" /><text x="382.7" y="327" font-size="6.0" text-anchor="middle" fill="#262626" >0</text><line x1="362.04" y1="311.91" x2="360.84" y2="313.51" stroke="#333" stroke-width="0.6" /><text x="355.64" y="319.81" font-size="6.0" text-anchor="middle" fill="#262626" >2</text><line x1="334.98" y1="304.71" x2="333.78" y2="306.31" stroke="#333" stroke-width="0.6" /><text x="328.58" y="312.61" font-size="6.0" text-anchor="middle" fill="#262626" >4</text><line x1="307.92" y1="297.52" x2="306.72" y2="299.12" stroke="#333" stroke-width="0.6" /><text x="301.52" y="305.42" font-size="6.0" text-anchor="middle" fill="#262626" >6</text><line x1="280.86" y1="290.32" x2="279.66" y2="291.92" stroke="#333" stroke-width="0.6" /><text x="274.46" y="298.22" font-size="6.0" text-anchor="middle" fill="#262626" >8</text><text x="336.5" y="330" font-size="7.2" text-anchor="middle" fill="#262626" >Y (m)</text><text x="443.6" y="329.5" font-size="7.2" text-anchor="middle" fill="#262626" >X (m)</text><text transform="translate(252.3,259.5) rotate(-90)" font-size="7.0" text-anchor="middle" fill="#262626">Elevation (m)</text><line x1="202.2" y1="275.6" x2="253.5" y2="224" stroke="#d92e2a" stroke-width="1.0" /><line x1="203.2" y1="301.8" x2="375.6" y2="326.7" stroke="#d92e2a" stroke-width="1.0" /><rect x="525.2" y="176.3" width="7.2" height="166.7" fill="url(#cb451)" stroke="#5a5a66" stroke-width="0.5"/><line x1="531.1" y1="196.49" x2="532.4" y2="196.49" stroke="#262626" stroke-width="0.6" /><text x="534.2" y="199.09" font-size="6.0" text-anchor="start" fill="#262626" >66.7</text><line x1="531.1" y1="222.38" x2="532.4" y2="222.38" stroke="#262626" stroke-width="0.6" /><text x="534.2" y="224.98" font-size="6.0" text-anchor="start" fill="#262626" >66.6</text><line x1="531.1" y1="248.26" x2="532.4" y2="248.26" stroke="#262626" stroke-width="0.6" /><text x="534.2" y="250.86" font-size="6.0" text-anchor="start" fill="#262626" >66.5</text><line x1="531.1" y1="274.15" x2="532.4" y2="274.15" stroke="#262626" stroke-width="0.6" /><text x="534.2" y="276.75" font-size="6.0" text-anchor="start" fill="#262626" >66.4</text><line x1="531.1" y1="300.03" x2="532.4" y2="300.03" stroke="#262626" stroke-width="0.6" /><text x="534.2" y="302.63" font-size="6.0" text-anchor="start" fill="#262626" >66.3</text><line x1="531.1" y1="325.92" x2="532.4" y2="325.92" stroke="#262626" stroke-width="0.6" /><text x="534.2" y="328.52" font-size="6.0" text-anchor="start" fill="#262626" >66.2</text></svg></body></html>
